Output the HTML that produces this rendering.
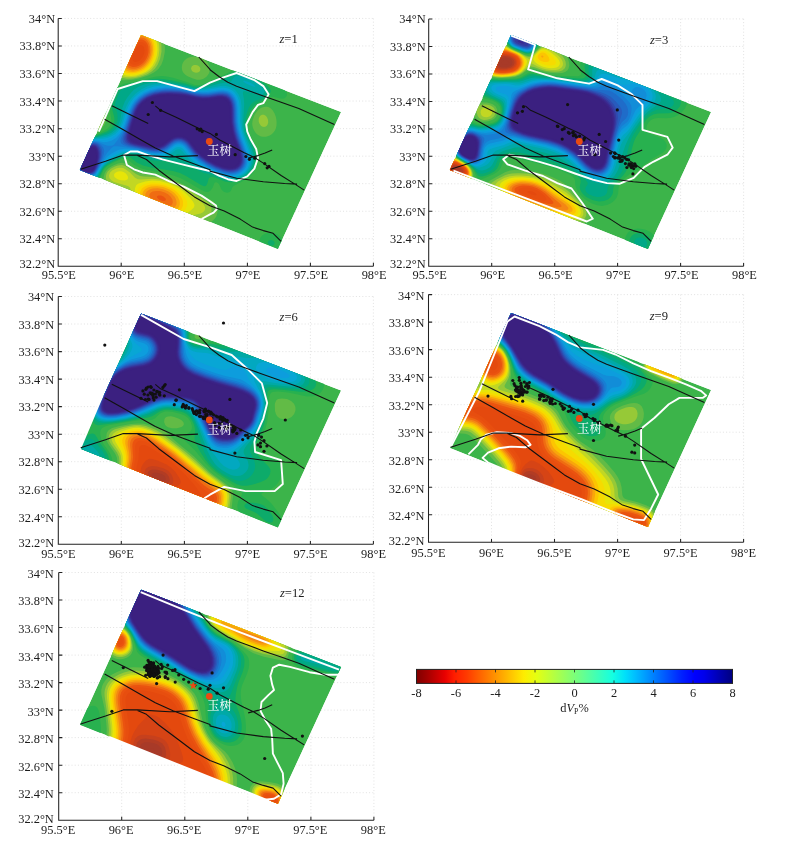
<!DOCTYPE html>
<html lang="zh"><head><meta charset="utf-8"><title>dVp</title>
<style>html,body{margin:0;padding:0;background:#fff}svg{display:block}text{font-family:"Liberation Serif","Noto Serif CJK SC",serif;font-size:12.4px;fill:#1c1c1c}</style></head><body>
<svg width="788" height="841" viewBox="0 0 788 841">
<defs><clipPath id="quad"><path d="M82.1 16.4L282.1 93.6L218.9 230.4L20.9 151.5Z"/></clipPath></defs>
<rect width="788" height="841" fill="#fff"/>
<g transform="translate(58.2 18.45)">
<path d="M63 0V247.8M126.1 0V247.8M189.2 0V247.8M252.2 0V247.8M315.2 0V247.8M0 0H315.2M0 27.5H315.2M0 55.1H315.2M0 82.6H315.2M0 110.2H315.2M0 137.7H315.2M0 165.2H315.2M0 192.8H315.2M0 220.3H315.2" stroke="#dadada" stroke-width="0.8" stroke-dasharray="1 2.2" fill="none"/>
</g>
<g transform="translate(59 18.5)">
<g clip-path="url(#quad)">
<path fill="#3cb44a" d="M82.1 16.4L282.1 93.6L218.9 230.4L20.9 151.5Z"/>
<path fill="#28b14f" d="M176.2 51L178 50.7L181 51L188 53.3L198 57.4L220 68L223.8 70L226.3 72L227.7 74L228 76L227.9 77L227 78.6L226 79.4L224 80.2L221 80.1L214 78.3L211 79L205 83.1L198 87L195.9 89L193.1 93L191 97.3L189.3 102L188.7 105L188.6 108L189.4 112L190.9 116L193 120.4L197.4 128L199.3 133L199.8 136L199.9 139L198.8 145L196.4 151L194.4 154L191.9 157L189 159.6L186 161.5L175.4 167L174.1 168L173.3 169L172.1 172L171 173.2L169.4 174L168 174.2L166 173.8L164.4 173L162.4 171L160.2 166L159.4 165L158 164L157 163.7L156 163.9L155.2 165L153.8 169L151.6 172L150.2 173L149 173.4L146 173.2L142 171.3L127 162.4L121 159.6L115 157.3L108 155.4L99 153.4L87 151.2L82.7 150L78.1 148L75 146.2L68.8 141L66 140.1L63 140.5L59 142L52.9 145L48 148L46 149.9L44.4 152L41 159.7L39.6 162L38 163.6L35 165.1L33 165.5L30 165.4L26 164.5L21 162.7L18 161.4L15 159.5L13.3 158L11.7 156L10.7 154L10 151L9.9 148L10.5 145L12.3 140L17.3 129L19.7 124L22 120.5L24 118.5L27 117L30 116.5L36 116.4L40 115L48 110.4L49.6 109L51.1 107L52 105L52.4 102L50.8 91L50.9 87L51.3 84L53.3 78L56.1 72L58.1 69L60.5 67L65 65.3L75 63.5L97 58.1L103 57.4L108 57.9L114 59.3L128 63.5L136 66.5L140 66.6L143 65.9L148 64L165.8 56L174 51.7ZM206.3 215L210 214.2L215 214.6L219 216.3L222 218.8L223.7 222L224.1 224L224 226L223.1 229L220.8 232L219 233.2L217 234.1L215 234.5L212 234.6L209 234.1L207 233.3L204.8 232L202.6 230L201.3 228L200.6 226L200.3 223L200.7 221L201.5 219L203 217.1Z"/>
<path fill="#0dab6a" d="M174.3 54L177 53.2L181 53.4L187 55.4L196 59.3L203 63.2L207 66L210.1 69L211.4 71L211.7 72L211.7 73L210.9 75L208.4 78L204 81.6L197 85.4L194.3 88L192.2 91L190.5 94L187.9 101L187.1 106L187.9 112L190.1 118L196.7 131L197.7 135L197.9 139L197.5 142L196.5 146L194.3 151L190.4 156L186 159.4L179 162.7L176 163.5L172 163.7L169 163.5L166 162.9L156 159L154 158.6L152 158.5L150.7 159L149.8 160L148.3 165L147.3 167L146 167.7L145 167.8L142 166.5L127 157.4L121 154.6L114 152.4L92 148.9L84.1 147L77.8 144L71.4 139L68 138.2L65 138.5L61 139.9L53 143.8L48 146.9L46 148.6L44 151L40.6 158L39 160.4L37 162.2L35 163.1L33 163.5L30 163.4L23 161.5L17 158.5L15.1 157L13.5 155L12.5 153L11.9 150L12 147L12.8 144L14.7 139L20.3 127L22.5 123L24 121L26 119.3L28 118.3L30 117.8L37.7 117L47.5 113L50 111.5L51.9 110L54.1 107L55.2 104L55.5 101L55.1 98L53 90.4L52.9 88L53.3 85L54.9 80L58 73L60 70L62 68.4L66 66.8L86 62L94 60.6L99 60.2L104 60.6L112 61.8L126 64.8L135 67.7L137 68.1L140 67.9L144 67L148 65.6L166 58.2ZM210 222L212 221.6L214 222.1L215.1 223L215.6 224L215.6 225L215.2 226L214 227L213 227.2L211 227L210 226.4L209 225.2L208.8 224L209 223Z"/>
<path fill="#00a887" d="M177.7 55L181 55.2L185 56.5L193 59.8L199 63L203 65.6L205.7 68L207.7 71L208.2 73L207.9 75L207.4 76L205 78.4L202 80.2L196 82.5L192.6 85L189.8 89L187.3 96L185.7 104L185.7 107L186.3 111L188.6 118L194.8 131L195.9 135L196.2 139L195.2 145L193.2 150L189.4 155L185 158.4L181 160.4L177 161.7L173 162L168 161.6L164 160.5L154 156.6L145 154.5L129 146.8L124 144.8L120 143.7L112 142.4L99 142.3L92 141.8L87 140.6L77.5 137L72 136.2L68 136.4L63 137.8L56 141.1L49 145.1L46 147.4L44 149.7L38.7 159L37 160.7L35 161.7L33 162.2L30 162.1L24 160.6L21 159.3L18 157.6L16.1 156L14.5 154L13.6 152L13.2 149L13.4 147L14.1 144L16.5 138L21.7 127L24.8 122L27 120.1L29 119.2L38 117.9L49 114.2L53 111.6L56.2 108L57.9 104L58.5 101L58.6 98L58.1 94L56.1 88L56.1 85L57 81.7L60 74.4L61.5 72L63.8 70L67 68.7L84 64L91 62.7L97 62.1L102 62.4L112 63.7L126 66.2L135 68.9L137 69.2L140.3 69L147 67.4L166 60.6L169 59.3L174.5 56Z"/>
<path fill="#00a9a6" d="M175.9 58L178 57.2L181 57.2L186.6 59L193.6 62L198.8 65L202.7 68L204.9 71L205.4 73L205 74.5L204 75.6L203 76.2L201 76.5L197 75.7L187 72.7L185 72.6L184 73.2L183.9 75L184.8 80L185.2 85L184.2 103L184.6 109L185.4 113L186.7 117L193.2 132L194.2 136L194.4 139L193.7 145L191.7 150L188 154.7L184 157.7L179 159.9L175 160.7L169 160.5L164 159.2L146 152.5L138 148.7L128.4 143L126 141L122 136.9L120.8 136L119 135.6L117.5 136L114.1 138L111.6 139L107 139.9L102 140.2L97 140L92 139.3L88 138.3L81 135.9L76 134.8L71 134.6L66 135.5L62 137L57 139.5L51 142.7L47 145.4L45 147.3L43 149.9L39.7 156L38 158.4L36 160.1L33 161.1L31 161.2L28 160.7L23 159.1L18.9 157L17 155.4L15.8 154L14.8 152L14.4 150L14.3 148L14.9 145L16.3 141L19.5 134L22.8 127L24.6 124L27 121.4L29 120.2L31 119.6L39 118.6L47 116.6L52 114.4L56.3 111L58.6 108L60 105L61.2 101L63.5 89L65.8 83L68.3 79L72 74.2L75.2 71L78.2 69L82.2 67L87 65.4L93 64.3L98 63.9L106 64.4L114 65.3L126 67.4L135 69.9L138 70.1L141 69.9L147 68.8L161 65L171 63.6L172.1 63L173.9 60Z"/>
<path fill="#02a8c0" d="M184.1 63L185 62L190.9 64L194.4 66L196.4 68L196 68.3L195 68.2L191.3 67L187 65ZM95.6 66L103 65.6L113 66.3L123 67.8L134 70.6L138 71L147 70.2L161 67.4L166 67.3L169 67.9L172 68.9L175 70.6L176.6 72L179.6 76L181.6 81L182.5 87L182.6 103L183.3 110L185.3 117L191.2 132L192.4 137L192.6 142L191.6 147L189.5 151L187.1 154L184.6 156L182 157.5L179 158.8L176 159.5L170 159.6L163 157.8L145 150.5L136.7 146L133 143.3L130.5 141L123 132.2L121 131L120 130.8L118 131L116.1 132L111 135.9L109 137.1L106 138.1L102 138.6L97 138.6L92 137.8L80 134.4L76 133.6L71 133.4L67 134L63 135.3L59 137.2L51 141.5L47 144.3L45 146.2L43 148.7L38 157.2L37 158.3L35 159.6L33 160.2L31 160.3L27 159.6L22 157.7L20 156.7L17.9 155L16.3 153L15.5 151L15.2 148L15.8 145L17.7 140L22.3 130L24.3 126L26 123.6L28 121.8L31 120.5L43 119L48 117.9L52 116.2L56 113.6L59 110.5L61.2 107L63 102L65.4 93L67.3 88L69.9 83L72.8 79L77 74.8L83 70.5L89 67.6Z"/>
<path fill="#08a6d5" d="M102.3 67L109 67L117 67.9L126 69.3L134 71.4L138 71.8L147 71.4L160 69.3L165 69.2L168 69.7L171 70.7L173.3 72L175.6 74L178.4 78L180.2 83L180.9 89L181.1 103L182 110L184 117.3L189.6 132L190.9 138L191.1 142L190.4 146L188.7 150L186.4 153L184.1 155L182 156.3L179 157.6L176 158.4L173 158.7L169 158.4L162 156.5L147 150.2L139 145.7L135.3 143L132.1 140L124 130.3L122 129L120 128.5L118 128.7L116 129.6L110 134.2L107 136L104 137L101 137.4L97 137.4L92 136.7L81 133.6L76 132.7L70 132.4L65 133.3L61 134.7L57 136.8L50 140.8L47 143L43 147.5L38 156L37 157.2L35 158.7L32 159.5L28 159.1L23 157.4L19 154.9L17.3 153L16.4 151L16.1 148L16.6 145L18.5 140L23.6 129L25.3 126L27 123.7L29 122.2L32 121.1L44 120.3L48 119.6L52 118.1L56 115.7L59 112.9L62 108.7L64 104L66.6 95L69.3 88L72.1 83L75.3 79L78 76.4L81 74.1L88 70.2L95 68Z"/>
<path fill="#0d9ddd" d="M97.3 69L105 68.1L113 68.3L124 69.7L135 72.3L140 72.7L148 72.5L160 70.7L164 70.5L169 71.5L172 73L174 74.5L176.8 78L178.8 83L179.6 89L179.8 103L180.8 110L183 118L188.5 133L189.6 138L189.8 142L189.1 146L187.9 149L185.8 152L183.6 154L181 155.6L178 156.9L175 157.5L172 157.7L168 157.3L161 155.3L148 149.6L140.1 145L136.2 142L133.1 139L124.7 129L122 127.2L120 126.8L118 127L116 127.9L107 134.4L104 135.6L101 136.2L97 136.3L92 135.7L80 132.5L75 131.7L69 131.4L63 132.3L60 133.4L56 135.5L51 138.4L47 141.4L43 146.3L37.9 155L36.2 157L35 157.8L32 158.7L28 158.4L23 156.6L21 155.5L19.1 154L17.6 152L16.9 150L16.8 148L17.3 145L18.8 141L23.4 131L25.5 127L27 124.9L30 122.5L33 121.7L38 121.4L45 121.8L48 121.4L53 119.6L57 117L60 114.1L63 109.6L65 105L69.5 91L72.5 85L75.3 81L80 76.6L85 73.3L91 70.7Z"/>
<path fill="#128dd8" d="M98.4 70L106 69.1L114 69.3L124 70.5L136 73.2L143 73.7L149 73.5L160 71.9L164 71.7L169 72.8L171 73.8L173 75.2L174.7 77L176 79L177.6 83L178.4 88L178.7 102L179.7 110L181.8 118L187.3 133L188.4 138L188.6 142L187.9 146L186.7 149L184.4 152L182 153.9L179 155.5L176 156.4L173 156.7L167 156.2L159 153.6L148 148.5L141 144.3L137 141.1L133.7 138L125 127.6L122.5 126L120 125.5L117.1 126L115.1 127L109 131.7L106 133.6L103 134.7L100 135.3L96 135.3L92 134.8L80 131.7L74 130.7L66 130.3L60.5 131L57 132.4L53 134.7L49 137.5L47 139.4L43 144.9L37.9 154L36.3 156L35 157L32 158L28 157.7L23 155.9L20 153.9L18.4 152L17.7 150L17.5 148L18 145L19.5 141L24.6 130L26.3 127L27.9 125L29 124L31 122.9L35 122.2L39 122.4L45 123.7L48 123.6L53 122L57 119.5L61 115.2L64 110.3L66 105.3L70.8 91L73.2 86L76 82L80 78L85 74.6L92 71.6Z"/>
<path fill="#187dd3" d="M98.7 71L106 70.1L115 70.3L125 71.5L136 73.9L144 74.6L150 74.4L160 72.9L164 72.8L168 73.6L170 74.4L172.2 76L175 79.4L176.8 84L177.5 90L177.8 103L178.9 111L181 118.6L186.2 133L187.4 138L187.6 142L187.1 145L186 148L183.9 151L181.5 153L179 154.4L176 155.4L173 155.8L167 155.3L163 154.3L159 152.7L148.9 148L142 143.7L138 140.6L134.2 137L126 127L123 125L120 124.3L117 124.8L115 125.8L108 131.2L105 132.9L102 133.9L99 134.4L96 134.4L92 133.9L81 131.1L76 130.2L59 127.8L55 127.8L54 128.2L52 130.1L48 134.6L45 139.5L38 152.8L36.4 155L35 156.2L32 157.4L28 157.1L23 155.2L20 153L18.7 151L18.2 149L18.7 145L20.2 141L24.8 131L28 125.9L31 123.7L33 123.1L36 122.9L40 123.7L46 126.6L49 127.3L53 127.2L55 126.2L59 120.9L64 112.7L66.5 107L71.4 92L73.8 87L76.5 83L81 78.5L86 75.2L92 72.7Z"/>
<path fill="#1f6cc9" d="M107.2 71L114 71.1L122 71.8L136 74.7L143 75.4L149 75.4L160 73.8L164 73.7L168 74.6L170 75.6L172 77.2L174.2 80L175.8 84L176.6 90L176.9 103L178 111L180 118.5L185.3 133L186.4 138L186.6 142L186.1 145L184.9 148L182.5 151L180 152.8L178 153.8L175 154.6L172 154.9L169 154.8L165 154L157 151L148 146.5L140 141.1L134.5 136L127 126.6L125 124.9L122 123.5L119 123.3L116 124.2L114 125.3L108 130L105 131.8L102 132.9L98 133.5L92 133L80 130.1L68.4 128L65 126.8L62.3 125L61.5 123L61.6 121L62.3 119L67 108.3L72.5 92L74.9 87L77.7 83L80 80.6L83 78.2L86 76.3L90 74.4L98 72.1ZM32.3 124L35 123.6L37 123.8L39 124.5L41 125.7L42.6 127L44.1 129L45 131L45.2 133L44.7 136L43.4 140L39.9 148L37.2 153L36 154.6L34 156.1L32 156.7L30 156.8L26 155.9L22 153.9L20.9 153L19.4 151L18.8 148L19.3 145L20.4 142L26.6 129L29 125.9L31 124.5Z"/>
<path fill="#285bbc" d="M105.3 72L112 71.9L121 72.5L127 73.4L137 75.6L144 76.3L150 76.2L160 74.7L164 74.7L168 75.6L170 76.7L171.5 78L173 79.8L174 81.7L175.3 86L175.8 91L176 103L177.6 113L179.3 119L184.3 133L185.5 138L185.7 142L185.2 145L183.8 148L182.2 150L180 151.8L177 153.2L174 153.9L171 154L165 153.1L157 150.1L148 145.5L141 140.7L135 135.2L127 125.3L125 123.8L122 122.5L119 122.3L116 123.1L113 124.8L108 128.9L105 130.8L102 132L98 132.6L95 132.6L91 132L72 127.8L68 126.5L65.4 125L64.5 124L63.7 122L63.7 120L64.2 118L68 108.2L72.6 94L74.8 89L77.3 85L79.9 82L82.1 80L85 77.9L89 75.8L96 73.4ZM31.6 125L34 124.4L36 124.5L37.9 125L39.5 126L41.4 128L42.5 130L43.2 133L43.2 135L42.8 138L41.6 142L39.2 148L37.2 152L35.7 154L34 155.4L32 156.1L30 156.2L26 155.3L22 153.2L20.1 151L19.4 148L19.7 146L20.6 143L26.2 131L28.8 127Z"/>
<path fill="#3049ae" d="M103.7 73L111 72.7L121 73.3L127 74.2L137 76.4L144 77.2L149 77.1L160 75.6L164 75.6L168 76.6L171 78.8L173.2 82L174.6 87L174.9 91L175.1 103L176.7 113L178.7 120L183.4 133L184.6 138L184.8 141L184.5 144L183.3 147L181.9 149L180 150.7L177 152.2L174 153L171 153.2L165 152.3L157 149.3L148 144.5L141 139.7L135.1 134L127.9 125L125 122.7L122 121.6L119 121.4L116 122.1L113 123.8L105 129.8L102 131L98 131.8L95 131.7L91 131.2L73 127.1L69.7 126L66.7 124L66 123L65.3 121L65.4 119L65.8 117L73.5 94L75.8 89L78 85.5L82.2 81L85 78.9L88.5 77L95 74.6ZM31.2 126L33 125.3L35 125.2L37 125.6L39 127L40.5 129L41.4 131L41.8 133L41.9 136L41.5 139L40.4 143L38.6 148L37 151.3L35.8 153L34 154.7L32 155.5L30 155.6L26 154.7L22.7 153L20.9 151L20.1 148L20.3 146L21.3 143L26 132.7L28.9 128Z"/>
<path fill="#36399e" d="M102.4 74L111 73.6L121 74.1L127 75L138 77.4L144 78L150 77.9L159 76.6L163 76.4L167 77.2L170 79.1L172.2 82L173 84L173.7 87L174.1 91L174.3 103L175.8 113L177.8 120L182.6 133L183.8 138L184 141L183.6 144L182.8 146L181 148.6L179 150.3L177 151.3L174 152.1L171 152.3L168 152.1L164 151.1L156.2 148L148 143.5L141.5 139L136.2 134L128 123.8L125 121.7L122 120.6L118 120.6L115 121.6L112 123.4L107 127.4L104.6 129L101 130.4L98 130.9L92 130.5L76 127L72 125.8L68.7 124L67.8 123L66.9 121L66.7 119L67 117L73.7 96L75.7 91L78 87L80 84.4L82.4 82L85 80L88 78.2L95 75.5ZM33.6 126L35 126L37 126.7L39.3 129L40.6 133L40.8 136L40.6 139L38.7 146L37.1 150L35.9 152L35 153.1L33 154.5L31 155L29 154.9L25 153.7L22.5 152L21.1 150L20.7 147L22.3 142L28 130.3L29.8 128L31 127Z"/>
<path fill="#3b298f" d="M101.4 75L110 74.4L120 74.9L127 75.8L138 78.2L144 78.9L150 78.7L159 77.4L163 77.3L167 78.2L169.6 80L171.6 83L172.9 87L173.2 91L173.5 104L175 113L176.9 120L181.7 133L182.9 138L183.1 141L182.6 144L181.8 146L180.3 148L178 149.8L176 150.7L173 151.3L170 151.4L164 150.2L156 147L148 142.5L141.6 138L136.4 133L129 123.6L126 121.2L123 119.9L119 119.6L115 120.6L112 122.3L106.1 127L104 128.3L101 129.5L98 130L92 129.6L76 126.1L72 124.7L69.6 123L68.8 122L68 120L68 118L68.6 115L74.6 96L76.7 91L79 87L83 82.6L88 79.1L94 76.6ZM32.8 127L34 126.8L36 127.2L37.2 128L38.6 130L39.7 134L39.7 139L38 146L35.9 151L34.2 153L33 153.8L31 154.4L29 154.4L26 153.5L23 151.7L21.8 150L21.3 147L22.9 142L28 131.5L30 128.8L31 127.9Z"/>
<path fill="#3b2385" d="M100.6 76L109 75.3L120 75.8L127 76.7L139 79.2L144 79.7L150 79.6L159 78.3L163 78.2L166.4 79L169 80.8L171.1 84L172.1 88L172.7 104L174.3 114L176.4 121L180.8 133L182 138L182.2 141L181.9 143L181.2 145L179.9 147L178 148.7L176 149.7L173 150.4L170 150.5L164 149.3L156 146L148.8 142L142 137.2L137 132.3L131.4 125L129 122.3L126 120.1L123 118.9L119 118.6L115 119.6L112 121.2L104 127.3L101 128.5L98 129.1L92 128.7L79.6 126L75 124.8L71.4 123L70.4 122L69.4 120L69.2 118L69.6 115L75 97.3L77 92.3L79 88.6L80.9 86L83 83.8L88 80.1L94 77.6ZM32.5 128L35 127.9L36 128.3L37.5 130L38.4 132L38.8 134L39 137L38.7 140L37 147L35 151.2L34 152.3L32 153.5L29 153.7L26 152.9L23.2 151L22.1 149L22 147L23.1 143L28 132.8L30 129.8L31 128.9Z"/>
<path fill="#3b2080" d="M100.2 77L109 76.2L120 76.7L127 77.6L139 80.2L144 80.7L150 80.5L162 79.1L165 79.6L168 81.3L170 84L171.2 88L171.8 104L173.4 114L175.4 121L180 133.7L181 137.8L181.2 141L180.9 143L180.1 145L179 146.5L177.2 148L175 149L173 149.4L170 149.5L164 148.3L156 145L149 141L143 136.8L137.9 132L130 121.9L127 119.5L123 117.9L119 117.7L115 118.6L111 120.8L104 126.2L101 127.5L98 128.1L92 127.8L79.4 125L75 123.7L72.2 122L71 120.4L70.5 119L70.4 117L70.9 114L76 97.2L78 92.4L79.9 89L83 85L88 81.2L93 78.9ZM32.5 129L34 128.7L35 129L36 129.7L37 131.1L38 135L37.9 140L36.6 146L35 150L33.3 152L32 152.8L29 153.1L26 152.2L24 150.8L22.9 149L22.8 146L24.2 142L28.7 133L30.9 130Z"/>
<path fill="#3b2080" d="M100.2 78L109 77.2L119 77.6L126 78.5L139 81.2L144 81.7L150 81.5L159 80.3L162 80.2L165 80.8L167.1 82L169 84.4L170.1 88L170.5 92L170.8 104L172.3 114L174.3 121L179 133.8L180 138L180 142L179.3 144L178 145.9L176 147.4L174 148.1L172 148.5L169 148.4L163 146.9L154.4 143L147.7 139L141.3 134L137.6 130L132 122.6L129.4 120L126 117.8L123 116.9L119 116.6L116 117.2L114 117.9L111 119.6L103 125.6L101 126.4L98 127.1L95 127.2L92 126.8L79.6 124L76 122.9L73.1 121L72.4 120L71.7 118L71.7 116L72.3 113L77 97.4L79 92.6L81 89.1L84.5 85L88.6 82L94 79.6ZM32.9 130L34.2 130L35.6 131L36.9 134L37.2 139L36.3 144L35 148.4L33.3 151L32 152L31 152.3L28 152.2L26 151.4L24.3 150L23.4 148L23.5 146L25 141.8L29 133.8L31 131.1Z"/>
<path fill="#62bb46" d="M75.9 3L79 2.3L82 2.2L85 2.6L89 3.8L93 5.8L96 7.9L98.3 10L100.8 13L102.7 16L104 19L104.9 22L105.6 26L105.9 30L105.7 34L104.3 41L102.4 46L99.7 50L97.6 52L94.9 54L89.2 57L80 59.9L72 61.4L64 61.7L60 61.3L58 60.9L56 59.9L53.9 58L52 55L50.8 52L50.2 49L50.2 46L50.5 43L51.4 39L53.7 33L57.4 25L61.4 17L64.5 12L67 8.9L70 6.1L73 4.2ZM129.9 39L132 38.4L135 38.1L140 38.7L144 40.2L147.6 43L149.1 45L150 47L150.7 51L150.5 53L149.9 55L147.7 58L145 59.9L143 60.8L141 61.3L138 61.3L134 60.1L129.1 58L127 56.7L125 55L123.6 53L123 51L122.8 49L123.2 46L124 44L125.4 42L127.8 40ZM38.6 89L43 88.5L45 89L46 90L47 92.5L47.4 95L47.5 99L47.1 102L46.1 105L45 107L41.5 111L39 112.8L37 113.7L35 114L33 113.8L30.6 113L28.8 112L27.1 110L26.4 108L26.2 106L26.5 100L27.9 96L30.2 93L34 90.5ZM203 89L206 88.3L208 88.2L210 88.7L211.9 90L213.8 92L215.6 95L216.7 98L217.4 101L217.6 104L217.5 107L216.8 110L215.9 112L214 114.6L212 116.3L210 117.3L207 118.2L204 118.3L202 117.9L200 117.1L198 115.7L196.4 114L195 111.8L194 109.5L193.4 107L193.2 105L193.6 102L194.9 98L196 95.6L199 91.5L201 89.9ZM59 145L63 144.2L66 144.9L76 151.9L79 153.6L82 154.9L86 155.8L98 157.2L106 158.9L115 161.7L124 165.7L143 177.2L152 181.4L154.4 183L156.7 186L158.3 190L158.5 194L157.3 198L155.9 200L153.9 202L151 203.7L148 204.7L143 205.6L131 206.6L119 209.6L114 210.1L108 209.5L101 207.5L88 202.5L80 198.8L75 195.5L72.4 193L70.9 191L68.7 187L65.8 178L63.7 175L60.4 173L53 170.4L49 168.7L46.6 167L45 164.9L44.4 162L44.6 159L45.6 155L47 152.4L49 150.2L51 148.8L54.1 147Z"/>
<path fill="#96c937" d="M78.5 6L81 5.7L84 5.9L89 7.4L94 10.5L96 12.3L98.2 15L100.9 20L102.4 26L102.5 33L101.2 40L98.8 46L96.1 50L92.8 53L88 55.9L81 58.4L74 59.9L68 60.2L62 59.3L60 58.5L57.9 57L56.1 55L54.5 52L53.8 49L53.6 46L53.9 43L54.8 39L56.7 34L61.4 24L64.5 18L67.1 14L69.6 11L72 8.9L75 7.1ZM133.9 47L135 46.6L137 46.4L138.9 47L140 47.8L141 49L141.3 50L141.2 52L140.5 53L139 54L137 54.3L135 53.8L133.6 53L132.7 52L132 50L132.7 48ZM38.5 93L42 92.5L44 93.2L45 94.5L45.4 96L45.6 98L45.3 101L44 105L41.3 109L38 111.6L36.9 112L35 112.1L32.4 111L30.8 109L30 106L30.2 102L31 99L33 96L35 94.5ZM201.6 97L203 96.3L205 96.3L207 97.5L208.1 99L209 101.2L209.2 104L208.6 106L208 107L206.9 108L205 108.5L203 108L201.7 107L200.4 105L199.7 103L199.8 100L200.7 98ZM58.9 147L63 146.6L66 147.6L69 149.5L77 155.4L81 157.5L85 158.1L96 158.6L103 159.8L112 162.3L120.8 166L127.6 170L149.1 184L150.9 186L152.3 189L152.6 192L151.7 195L150.2 197L149 198L145 199.7L131 201.7L119 205.4L114 206.1L109 205.8L103 204.3L93 200.5L84 196.6L78.2 193L74.4 189L71.8 184L69.4 175L67.4 172L66 170.9L64 169.9L56 167.3L52 165.7L49.4 164L47.7 162L47 160L47 157.2L47.6 155L48.7 153L52 150L55.9 148Z"/>
<path fill="#c2d723" d="M76.9 9L81 8.2L84 8.3L86 8.8L91 11.2L93.4 13L95.3 15L97 17.3L98.4 20L100 25L100.4 31L99.7 37L98.2 42L95.7 47L92.4 51L89 53.6L84 56.1L77 58.2L71 58.8L66 58.4L63 57.5L61 56.4L59.3 55L57.8 53L56.8 51L56.1 48L56 45L56.4 42L57.5 38L59.5 33L63.8 24L67.1 18L69.2 15L71.9 12L74 10.4ZM38.2 97L41 96.5L42.2 97L42.9 98L43.1 99L43 101.5L42 104.5L40 107.5L38 109L36 109.2L35 108.6L34 107L33.6 105L33.7 103L35 99.7L36.6 98ZM57 150L60 149.3L62 149.3L64 149.6L66 150.4L71 154L76 159.2L79 160.7L82 160.9L93 160.2L99 160.7L108 162.6L117 166L120.8 168L125.6 171L142.8 184L144.7 186L145.8 188L146.2 190L145.6 192L144 193.8L141.6 195L132 197.2L120 202L117 202.8L114 203.2L109 203L104 201.7L96 198.8L87 195L81 191.5L78.1 189L76.6 187L75.4 185L74.3 182L72.2 172L70.8 169L69.7 168L68 167.2L59 164.8L55 163.4L52.6 162L50.8 160L50.3 159L50 157L51.1 154L53.1 152Z"/>
<path fill="#e7e508" d="M77.3 11L80 10.3L82 10.2L86 10.9L89 12.2L91 13.5L94.5 17L96.8 21L98.3 26L98.6 31L97.9 37L96.3 42L93.6 47L91 50L87.3 53L83 55.1L77 56.9L72 57.5L67 57L64 56L62.4 55L60.3 53L59.1 51L58.4 49L58 46L58.6 41L59.8 37L62.4 31L68.6 19L70.8 16L73 13.7L75 12.2ZM58.9 153L61 152.7L63 153L65 153.8L66.8 155L68 156.4L68.9 158L69 160L68.3 161L66 161.9L62 161.7L59 160.9L56 159.1L55.2 158L55 156L55.6 155L56.7 154ZM86.1 163L93 162.1L101 162.6L110 164.9L117.2 168L120.5 170L124.6 173L127.9 176L131.6 180L133.9 183L135 185L135.5 187L134.9 189L131.7 192L122.3 198L117.6 200L113 200.8L108 200.4L103 199L94 195.5L86.3 192L81.8 189L79.7 187L78.3 185L77.3 183L76.3 180L75.7 174L76 169.8L77.1 167L78 166L79.6 165Z"/>
<path fill="#f6db00" d="M81.8 12L85 12.4L89 14.2L92.3 17L95 21L96.4 25L97 30L96.6 35L95.3 40L93.5 44L90.8 48L88 50.7L84.5 53L80 54.9L75 56L71 56.1L67 55.4L65 54.6L62.8 53L61.2 51L60.3 49L59.9 47L59.8 44L61.2 38L66.5 26L69.3 21L71.3 18L74 15.1L76 13.6L79 12.4ZM92.8 164L100 164.2L108 166L115.1 169L120.9 173L125.5 178L127.2 181L128 183L128.3 186L127.8 188L126.9 190L125.3 192L122 195L118 197.3L114 198.3L110 198.4L104 197.1L95 193.7L87.2 190L83 187L80.5 184L78.8 180L78.3 175L79.1 171L81 168.2L84 166.2L88 164.8Z"/>
<path fill="#fcc501" d="M79.6 14L83 13.8L87 14.9L90.1 17L92.7 20L94.6 24L95.4 28L95.5 32L94.7 37L93.4 41L91.2 45L88.8 48L85.2 51L81.3 53L77 54.3L73 54.8L69 54.4L67 53.7L65 52.6L63.4 51L62.2 49L61.4 45L62.1 40L63.5 36L65.7 31L71 21L73 18.3L75 16.4L77 15ZM92.1 166L99 165.9L106 167.2L112.9 170L116.1 172L118.5 174L121.9 178L123.4 181L124 183L124.1 186L123.7 188L122.7 190L121.2 192L118 194.5L115 195.7L112 196.2L108 195.9L102 194.2L94.1 191L88.1 188L85 185.7L82.6 183L81.2 180L80.7 176L81.3 173L83 170.1L85 168.4L88 167Z"/>
<path fill="#f8a60b" d="M78.8 16L82 15.4L85 15.9L88 17.3L91 20.3L92.6 23L93.8 27L94.1 31L93.5 36L92.2 40L90.2 44L87.8 47L85 49.5L82 51.2L78 52.7L74 53.4L70 53.1L67 51.9L65.8 51L64.2 49L63.4 47L63.1 45L63.4 41L64.6 37L66.3 33L71.5 23L75 18.5L77 16.9ZM92.4 168L98 167.7L104 168.6L110 170.8L115 174L118.7 178L120.5 182L120.8 184L120.7 186L120.2 188L119 190L116.9 192L114 193.4L111 193.8L108 193.6L103 192.3L97 190L91 187.1L87.8 185L85.7 183L84 180.2L83.4 178L83.5 175L84.2 173L86 170.8L89 169Z"/>
<path fill="#f48714" d="M78.4 18L80 17.4L82 17.1L85 17.6L88 19.4L90 21.5L91.8 25L92.5 28L92.6 32L92.1 36L90.7 40L89.1 43L87 45.8L84.6 48L81.4 50L78 51.3L74 51.9L71 51.6L68 50.4L65.7 48L64.8 45L65 41L67.4 34L71.9 25L75 20.7L76.8 19ZM93.9 170L99 169.8L104 170.7L109 172.7L112.5 175L115.4 178L116.6 180L117.3 182L117.6 184L117.4 186L116 188.6L114.4 190L112 191L110 191.2L107 191L103 189.9L97 187.5L92.2 185L89.4 183L87.6 181L86.6 179L86.3 177L86.6 175L87.8 173L89 171.9L91 170.8Z"/>
<path fill="#ef6c12" d="M81.1 19L84 19.2L86 20L88.3 22L90 24.8L91 28L91.2 31L91 34L90 37.9L88.6 41L86.6 44L84.7 46L82 48L79 49.4L76 50.2L73 50.2L71 49.8L69.3 49L68.1 48L66.9 46L66.4 44L66.5 42L67.4 38L70.8 30L74.3 24L76 21.9L78 20.2ZM93.7 173L97 172.4L101 172.6L105.8 174L109 175.8L111.5 178L113.4 181L113.8 184L113 186L112 187L110 187.8L108 188L106 187.8L100.4 186L94.5 183L92 181L91 179.7L90.3 178L90.4 176L90.9 175L92 173.9Z"/>
<path fill="#ea5310" d="M81.4 21L83 21L85.5 22L87 23.3L88.7 26L89.3 28L89.6 31L89.4 34L88.7 37L87.4 40L86 42.2L84 44.5L82 46.1L80 47.2L77 48.2L74 48.5L72 48.1L70 46.9L69 45.5L68.5 44L68.4 41L69.4 37L72 31L75.6 25L77 23.4L78.7 22ZM99.2 177L102 177.1L104.4 178L106.6 180L106.9 181L106.5 182L105 182.5L104 182.5L102.1 182L100 181L98 179L97.9 178Z"/>
<path fill="#e74e0f" d="M79.7 24L81 23.5L83 23.5L85 24.4L86.4 26L87.3 28L87.8 31L87.1 36L85 40.6L82 43.8L80 45.1L78 46L76 46.3L74 46.2L72 45.2L71 44L70.5 41L71 38L72.9 33L75 29.1L77.2 26Z"/>
<path fill="#e4490e" d="M80.2 27L82 26.6L83 26.9L84 27.7L84.9 29L85.5 32L84.8 36L83 39.6L80.6 42L78 43.3L76 43.4L75 43.1L74 42.3L73.4 41L73.3 39L74 36.1L77 30.1L78.8 28Z"/>
</g>
<path d="M39.8 113.1L58.6 70.5L83.8 62.6L98.1 62.6L135.4 72.6L151 64.1L163.8 59.1L177.6 54.5L195.4 61.6L204.3 67.6L209.6 75.8L204.3 84.7L199 86.4L193.6 93.6L187.2 106L188.3 113.1L191.9 121.3L197.2 130.5L199 139.4L195.4 150.1L188.3 157.9L177.6 162.5L168.8 160.7L159.9 157.2L151 152.5L138.9 149.7L121.2 145.4L103.4 140.8L89.2 136.6L78.5 133L71.4 133L65 136.6L67.9 146.5L75 150.8L83.8 154L96.3 156.1L110.5 162.8L124.7 168.2L142.5 177.1L151 182.7L157 187L157.8 190.6L154.6 194.1L151 195.9L142.5 200.5" stroke="#fff" stroke-width="1.9" fill="none" stroke-linejoin="round"/>
<path d="M52.8 87.3L89.2 105.1M45.6 100.7L64.3 111.3L82.1 121.4L96.3 129.5L114 137.5L135.4 145.5L151 151.3L151 152.6L177.6 159.7L204.3 163.3L225.6 165L238.1 165.6M96.3 87.3L101.6 91.8L117.6 98.9L138.9 109.5L151 114.9L160.8 121.5L184.8 133.9L194.5 138.4L204.3 144.6L222.1 157L236.3 165.9L245.2 171.6M139.8 38.5L151 50.9L151 51.3L159.9 58L168.8 63.7L177.6 67.8L186.5 71L204.3 77.6L222.1 83.8L239.8 90L257.6 98L275.4 106M21.7 150.8L46.5 142.8L64.3 136.6L78.5 136.6L110.5 138.4L138.9 137.1M78.5 137.1L87.4 141L99.8 151.7L110.5 159.7L121.2 167.7L135.4 178.4L151 187.2L165.2 192.6L181.2 200.6L193.6 208.6L204.3 212.1L214.1 214.8L222.1 222.8M189.2 139.6L199 137.1L206.1 134.6L213.2 131.4" stroke="#111" stroke-width="1.1" fill="none" stroke-linejoin="round"/>
<g fill="#111"><circle cx="93.4" cy="84" r="1.6"/><circle cx="89.2" cy="96" r="1.6"/><circle cx="101.6" cy="91.8" r="1.6"/><circle cx="138.2" cy="110.3" r="1.6"/><circle cx="140.7" cy="111.7" r="1.6"/><circle cx="143.2" cy="113.1" r="1.6"/><circle cx="141.8" cy="110.6" r="1.6"/><circle cx="157.4" cy="115.9" r="1.6"/><circle cx="176.2" cy="136.2" r="1.6"/><circle cx="186.9" cy="138" r="1.6"/><circle cx="190.4" cy="140.8" r="1.6"/><circle cx="195.8" cy="139.7" r="1.6"/><circle cx="205.7" cy="145.1" r="1.6"/><circle cx="208.2" cy="149.3" r="1.6"/><circle cx="210" cy="147.9" r="1.6"/></g>
<circle cx="150.3" cy="123" r="3.4" fill="#ea4a12"/>
<text x="148" y="136.6" style="font-size:12.5px;fill:#fff">玉树</text>
</g>
<g transform="translate(58.2 18.45)">
<text x="221.2" y="24.9" style="font-size:12.6px"><tspan font-style="italic">z</tspan>=1</text>
<path d="M0 0V247.8H315.2M0 0h3.6M0 27.5h3.6M0 55.1h3.6M0 82.6h3.6M0 110.2h3.6M0 137.7h3.6M0 165.2h3.6M0 192.8h3.6M0 220.3h3.6M0 247.9h3.6M0 247.8v-3.4M63 247.8v-3.4M126.1 247.8v-3.4M189.2 247.8v-3.4M252.2 247.8v-3.4M315.2 247.8v-3.4" stroke="#222" stroke-width="1.05" fill="none"/>
<text x="-3.1" y="4.5" text-anchor="end">34°N</text>
<text x="-3.1" y="32" text-anchor="end">33.8°N</text>
<text x="-3.1" y="59.6" text-anchor="end">33.6°N</text>
<text x="-3.1" y="87.1" text-anchor="end">33.4°N</text>
<text x="-3.1" y="114.7" text-anchor="end">33.2°N</text>
<text x="-3.1" y="142.2" text-anchor="end">33°N</text>
<text x="-3.1" y="169.7" text-anchor="end">32.8°N</text>
<text x="-3.1" y="197.3" text-anchor="end">32.6°N</text>
<text x="-3.1" y="224.8" text-anchor="end">32.4°N</text>
<text x="-3.1" y="249.9" text-anchor="end">32.2°N</text>
<text x="0.6" y="260.9" text-anchor="middle">95.5°E</text>
<text x="63.6" y="260.9" text-anchor="middle">96°E</text>
<text x="126.7" y="260.9" text-anchor="middle">96.5°E</text>
<text x="189.8" y="260.9" text-anchor="middle">97°E</text>
<text x="252.8" y="260.9" text-anchor="middle">97.5°E</text>
<text x="315.9" y="260.9" text-anchor="middle">98°E</text>
</g>
<g transform="translate(428.7 18.9)">
<path d="M63 0V247.4M126 0V247.4M188.9 0V247.4M251.9 0V247.4M314.9 0V247.4M0 0H314.9M0 27.5H314.9M0 55H314.9M0 82.5H314.9M0 110H314.9M0 137.4H314.9M0 164.9H314.9M0 192.4H314.9M0 219.9H314.9" stroke="#dadada" stroke-width="0.8" stroke-dasharray="1 2.2" fill="none"/>
</g>
<g transform="translate(429 18.5)">
<g clip-path="url(#quad)">
<path fill="#3cb44a" d="M82.1 16.4L282.1 93.6L218.9 230.4L20.9 151.5Z"/>
<path fill="#28b14f" d="M77.9 8L80 7.3L82 7.2L87 8.2L101 13.7L107 16.5L109.9 19L111 21L111.2 24L110 27L107.7 30L104 33.8L102 35.1L100 35.7L98 35.7L96 35.1L85 30.5L82 29L79.5 27L76.8 24L74.4 20L73.5 17L73.5 14L74.5 11L76 9.2ZM158.4 37L161 36.5L165 36.6L173 38.4L186 42.5L208 50.3L213 52.3L221 56.5L234 64.2L246 70.3L251 73.3L255.3 77L256.7 79L257.7 82L257.9 84L257.7 86L256 90L253 93.6L249 96.7L245 98.6L241 99.5L237 99.8L229 99.5L225.3 100L222 101.5L219.5 104L218 106.8L217.5 109L217.6 111L218.4 113L219.2 114L221 115.3L231 119L233 120.1L235 121.6L236.9 124L237.6 126L237.7 128L237.2 130L236 132L233 134.7L222 141.2L209.2 151L201 155.5L196 159.6L192.1 164L190.2 167L189.6 169L189.1 175L187.7 179L185.4 182L183 184.1L181 185.3L178 186.6L173 187.4L168 186.8L163 185L159 182.8L156 180.8L152.8 178L150.2 175L148.2 172L146.9 169L146.2 166L146 162L145.3 160L143.6 158L140.7 156L131.5 152L119.5 148L101.5 143L87 139.7L84 139.3L81 139.3L79 139.7L77 140.5L74.5 143L71.4 150L69.8 152L67.5 154L64 156.1L56 159.6L52 160.9L50 160.9L49 160.5L48 159.6L44.8 152L41.6 148L37.9 145L31 141L23.4 136L20.8 134L20 133L19.2 131L19.1 127L19.6 124L21.2 120L23.8 116L26.2 113L30 109.1L33 106.7L37 104.2L39 103.4L41 103.1L43 103.3L48 105.2L51 105.9L55.1 106L61 105.1L64.5 104L67 102.6L69 100.6L70.5 98L71.3 95L71.5 91L70.7 88L69 85.5L67 83.9L63 82L51.8 79L50 77.8L48.6 76L47.9 74L47.6 72L48.2 67L49.5 63L50.9 61L52 60.2L54 59.5L56 59.4L70 60.8L77 60.7L86 60.1L89 59.5L92 58.4L100 53.9L103 53.5L115 55.9L124 57L134 57.6L149 57.7L151.1 57L152 56L152.2 55L151.2 47L151.5 44L152.2 42L153 40.6L154.5 39L156 37.9ZM203.8 211L206 210.4L209 210.1L213 210.4L216 211.1L221 213.3L223.3 215L225 217L226.2 219L227.2 222L227.5 224L227.3 227L226.6 230L225.7 232L224 234.4L222 236.2L220 237.4L217 238.4L214 238.7L210 238.4L206 237.3L203.2 236L201 234.5L198.6 232L196.9 229L196 226L195.7 223L196 220L197.1 217L199 214.1L201 212.4Z"/>
<path fill="#0dab6a" d="M81.2 9L85 9.3L89 10.5L102 15.8L107 18.5L109.3 21L110 23L109.6 26L107.8 29L105.2 32L103 33.8L101 34.8L99 35.1L97 34.9L94 33.8L84.7 30L81.4 28L78.4 25L76.5 22L75.4 19L75 16L75.6 13L76.9 11L79 9.5ZM161.4 41L164 40.7L167 40.8L174 42.4L207 53.4L213 55.8L220 59.5L234 69L247 76.6L249 78.3L250.5 80L251.8 83L251.8 85L250.8 88L248.2 91L245.3 93L243 94L240 94.7L229 95L225 95.8L220.6 98L218.3 100L216.6 102L214.1 106L210.7 113L206.9 119L205 123L203 130.1L199.7 146L198 151L196.3 154L194.1 157L185.7 166L184.4 169L184 174L183.4 176L181.4 179L179 180.9L175 182.5L170 182.9L164 181.8L159 179.6L156.6 178L154.4 176L152.7 174L151.6 172L150.9 170L150.7 168L151.6 164L151.7 162L150.8 160L147.7 157L143 154L136 150.8L127 147.5L115 143.8L99 139.4L90 137.3L84 136.4L79 136.7L75.5 138L72.9 140L70.9 143L69.2 148L68.1 150L65.2 153L61.7 155L57 156.9L53 158L51 158L49 157L45 151L41.2 147L38 144.7L28.6 139L24.5 136L22.4 134L21.3 132L20.9 129L21.3 125L22.3 122L24.6 118L27.7 114L31 110.6L34 108.2L37 106.4L41 105.2L43 105.3L49 107L52 107.3L57 107L62 106L65.2 105L68 103.4L70 101.3L71.4 99L72.6 95L72.9 91L72.4 88L70.8 85L69 83.4L66 81.7L53.3 77L52 76L51 74.4L50.4 71L50.9 67L52 63.8L54 61.7L56 60.9L58 60.7L71 61.6L87 60.9L92 59.7L100 55.7L103 55.2L115 57.1L125 58.1L148 60.1L153.5 60L155.9 59L156.6 58L156.9 57L155.6 49L155.7 47L156.3 45L158 42.6L160 41.4ZM206.8 215L211 214.6L215 215.4L219 217.5L221.3 220L222.6 223L222.8 225L222.6 227L221.3 230L219 232.5L217 233.5L215 234.1L213 234.3L210 233.9L207.1 233L205.3 232L203.9 231L202.2 229L201.1 227L200.5 225L200.5 222L201 220.1L202 218.2L203.1 217L205 215.7Z"/>
<path fill="#00a887" d="M79 11L82 10.2L86 10.7L99 15.7L105 18.5L108 21L108.9 23L109 25L107.8 28L105.4 31L103 33.1L101 34.2L99 34.5L95 33.7L83.7 29L80.9 27L79.1 25L77.9 23L76.6 20L76.1 17L76.3 15L77 13ZM162 45L164 44.3L167 44.1L174 45.3L196 52.6L208 56.3L213 58.3L219 61.5L225.3 66L234 73.8L242.6 80L244.4 82L245 84L244.6 86L243.9 87L242.9 88L241 89.1L238 89.9L229 90.9L226 91.9L223 93.2L218 96.8L214.3 101L205 115.1L202 121L199.5 129L195.1 148L193.6 152L191 156L188.5 159L179.7 167L178.7 169L178.1 174L177 175.8L175.6 177L172 178.3L168 178.4L164 177.6L160.2 176L157.7 174L157 173L156.3 171L156.6 169L158.6 166L158.8 165L158.6 164L156.3 161L150.3 156L143 151.1L136 147.6L128 144.5L112 139.6L97 135.6L90 134.1L84 133.5L78 134.3L73.8 136L72 137.2L70.3 139L68.4 142L66 148L63.6 151L61 152.7L58 154L55 154.9L52 155.2L50 154.6L49 153.9L45.3 150L41.8 147L37.6 144L29.2 139L25.4 136L23.5 134L22.5 132L22.1 129L22.4 126L23.7 122L25.4 119L28.5 115L31.3 112L34 109.8L38 107.5L41 106.8L43 106.9L49 108.2L52 108.4L57 108.1L63 106.9L66 105.9L69 104.1L70.9 102L72.1 100L73.2 97L74 93L74.1 89L73.4 86L72.2 84L69.7 82L56.5 76L54.1 74L53 71.2L53 68L54 65L55.8 63L58 62.2L60 62L72 62.3L89 61.8L93 60.9L100 57.7L104 57.1L150 61.8L156 61.7L158.1 61L159.3 60L160 59L160.3 57L159.4 51L159.4 49L160 47ZM209.6 219L212 219L214 219.5L216 220.7L217.1 222L218 224L217.9 226L217 227.9L215.7 229L213 229.9L211 229.8L208 228.6L206 226.6L205.2 224L205.5 222L207.1 220Z"/>
<path fill="#00a9a6" d="M79.5 12L82 11.2L86 11.6L96 15.4L104 18.9L106.7 21L107.9 23L108.1 25L107.1 28L105 30.7L103 32.5L101 33.5L99 33.9L95 33.2L84 28.7L81.6 27L79.8 25L78.6 23L77.4 20L77.1 17L77.3 15L78.4 13ZM165.4 48L167 47.5L169 47.4L175 48.3L195 54.9L208 58.5L213 60.4L220 64.5L225.2 69L227.8 72L229.8 75L231.3 78L231.9 80L231.9 82L231.6 83L230 85L219 93L214 97.9L203 113.8L199.5 120L196.3 127L193.3 136L190.2 148L188.7 152L187.1 155L184.9 158L183 160L180 162.2L177 163.8L173 164.7L169 164.4L165 163.2L162 161.8L158 159.3L139 144.9L133 141L129.1 139L121.7 136L115.1 134L93 129.1L89 128.7L86 129L77 131.6L72 133.6L70 135.1L68 137.3L63 146.5L61 148.8L57.1 151L53 151.9L50 151.5L47 150L39 144.5L29.7 139L26.1 136L24.4 134L23.5 132L23.1 129L23.4 126L24.4 123L26.6 119L28.9 116L32 112.7L35 110.3L38 108.7L41 108.1L43 108.1L49 109.3L52 109.6L57 109.2L63 108.1L66.3 107L69 105.5L71 103.7L73 100.5L74.3 97L75.2 92L75.4 88L74.9 85L73.7 83L72 81.5L60.8 76L57 73L55.9 71L55.7 68L56.3 66L58 64.2L60 63.5L63 63.2L90 63.2L94 62.3L101 59.7L106 59L123 59.9L152 63.2L158 63L160.6 62L162.5 60L163.3 57L163.2 51L164 49.1Z"/>
<path fill="#02a8c0" d="M79.8 13L82 12.1L86 12.5L94 15.4L103 19.3L105.5 21L107 23L107.4 25L106.4 28L104.9 30L103 31.8L101 32.9L99 33.3L97 33.2L94 32.3L84 28.2L82.3 27L80.5 25L78.5 21L77.9 18L78 16L78.9 14ZM168.3 52L171 51L176 51.6L194 57.4L206 60L212 62L217.4 65L222.3 69L225.2 73L226.5 76L226.8 78L226.5 81L225.1 84L222.5 87L216 92.8L212.1 97L208.4 102L200 114.5L194 122L192 126L190 132.1L186.8 147L185.5 151L184 154L182 156.9L180 159L178 160.3L175 161.6L172 162L168 161.7L164 160.5L160 158.6L155 155.2L149.8 151L140 142L135.8 139L130.6 136L123.5 133L117.1 131L90.4 125L87 124.8L85 125.1L67.4 132L65.9 133L64.2 135L62.2 141L60 144.3L58.1 146L56 147.3L51 148.9L48 148.9L44 147.2L30.3 139L26.7 136L25.1 134L24.3 132L23.9 129L24.3 126L25.3 123L26.9 120L29.1 117L32 113.8L35 111.3L38 109.7L41 109.1L43 109.2L49 110.4L52 110.7L57 110.3L63 109.2L66 108.3L69 106.9L71.3 105L73.4 102L75 98L76.1 93L76.8 88L76.4 84L75.5 82L74 80.6L64.5 76L60.5 73L59.2 71L58.7 69L59.1 67L59.9 66L61 65.3L65 64.4L76 64.1L81 64.2L88 65L91 64.9L94 64.2L103 61.2L107 60.6L112 60.4L125 61L153 64.4L159 64.3L161 63.8L162.6 63L164.6 61L166 58L167 53.9Z"/>
<path fill="#08a6d5" d="M82 13L85 13L88 13.8L100 18.6L104 20.7L105.4 22L106.5 24L106.5 26L105.1 29L102 31.8L100 32.6L98 32.8L93 31.5L86.5 29L84 27.7L82 26L80.5 24L79.5 22L78.7 19L78.7 17L79.3 15L80.1 14ZM171.5 56L174 55.2L177 55.5L193 60.5L205 62.1L211 63.7L216 66.3L220 69.6L222.5 73L223.3 75L223.6 77L223.4 80L222.6 82L221.5 84L218.9 87L210.2 96L208 99L200 111.1L198 113.3L194 116.8L192 119.6L190.9 122L189 127.7L187 135.6L185.2 145L183.7 150L182.2 153L180.9 155L179 157L177 158.5L174 159.8L170 160.2L166 159.6L161 157.6L157 155L153.1 152L143.9 143L139.1 139L132.7 135L126.1 132L116.8 129L89 122.7L86 122.4L83 122.9L75 126.4L64 129.5L61 130.7L59.4 132L58.8 133L58.4 135L58.4 139L57.3 142L55.5 144L54 145.2L51 146.8L49 147.4L47 147.4L44 146.5L33 140.4L28.4 137L25.8 134L25 132L24.7 129L25.1 126L26.1 123L27.8 120L30.9 116L33 113.9L36 111.6L39 110.3L41 110L44 110.3L50 111.6L53 111.8L57 111.5L63 110.4L67 109.3L70 107.7L72 105.9L74 103L75.9 98L77.3 92L78.2 86L77.9 82L77 80.2L75.8 79L67 75.1L64.1 73L62.6 71L62.3 69L62.6 68L64 66.7L66 66L68 65.7L76 65.4L81 65.7L87 66.9L90 67L93 66.3L104 62.6L109 61.8L116 61.4L127 62L153 65.4L160 65.5L163 64.8L165 63.5L166.5 62L170 57.2Z"/>
<path fill="#0d9ddd" d="M81.8 14L84 13.7L88 14.5L98 18.5L103 20.9L104.4 22L105.7 24L105.8 26L105 28L103.5 30L102 31.2L100 32L98 32.2L93 31L85 27.7L81.8 25L80.6 23L79.6 20L79.4 18L79.8 16L80.4 15ZM172 60L175 59.2L178 59.7L182 61.2L191 65.5L194 66.5L196 66.5L204 64.9L207 65L211 66L215 68L218.4 71L220.2 74L220.8 77L220.6 79L220 80.9L218.2 84L208 95L202.1 105L200 108.1L198 110.2L193.2 114L191.1 117L189 122.3L187 129.3L183.7 145L182.6 149L181.1 152L179.7 154L177.7 156L175 157.7L172 158.6L168 158.6L164 157.6L161 156.2L157.6 154L154 151.1L145 142.1L141 138.7L135.5 135L129 131.7L124.7 130L118 127.9L88 120.9L85 120.6L82 121L73 124.6L62 127.2L59 128.5L57.5 130L56.4 132L55.9 134L55.5 139L54.3 142L52.4 144L51 145L48 146.2L46 146.4L44 145.9L34 140.6L28.9 137L26.4 134L25.6 132L25.3 130L25.6 127L26.5 124L28.6 120L30.9 117L33.9 114L36 112.5L38 111.5L41 110.9L44 111.2L50 112.6L53 113L57 112.8L63 111.8L67 110.7L70 109.3L72 107.7L74 105L76 100.6L77.8 94L79.6 85L79.7 80L79.1 78L78 76.7L76 75.7L70.7 74L67.6 72L67 71L66.8 70L67.2 69L68 68.4L71 67.6L76 67.4L80 67.9L85 69.3L88 69.3L92 68.3L100 65.1L105 63.7L111 62.7L117 62.4L126 62.8L153 66.3L161 66.7L164 66.2L166 65.2L170 61.4Z"/>
<path fill="#128dd8" d="M81.8 15L84 14.4L87 14.9L96 18.4L101.8 21L104 22.7L104.8 24L105.1 26L104.3 28L103 29.6L101.1 31L98 31.6L93 30.5L85 27.2L83.5 26L82 24.3L80.5 21L80.2 19L80.4 17L81 15.7ZM173 63L176 62.7L178 63.2L181 64.4L186 67.2L195 73.8L199 75.7L200 75.7L201 75.4L202 74.2L203.6 71L204.5 70L206 69L208 68.6L211 69L213.2 70L215.7 72L217 74L217.6 77L216.9 80L215.1 83L208 90L206.4 92L202.2 101L200 104.8L198 107.1L193 111L191 113.7L189 118.2L187 124.7L184.9 133L182.5 145L181.6 148L180.2 151L178.8 153L177 154.8L175 156.2L172 157.2L168 157.4L165 156.7L161 154.9L155 150.6L146 141.5L142 138L136 134L128 130L117 126.5L99 122.4L86 119.1L83 118.9L80 119.4L73 122.2L61 125L58 126.4L56 128.7L55 131L53.7 139L52.9 141L51.4 143L50.2 144L47 145.4L45 145.4L43 144.9L33.6 140L29.5 137L27 134L26.2 132L26 129L26.5 126L27.6 123L29.4 120L32 116.8L34.9 114L37 112.7L39 112L42 111.7L52 114.1L57 114.4L63 113.5L67 112.5L70 111.2L72 109.7L74.7 106L77 100.4L80.1 88L82.6 76L83.8 74L86.9 72L102 65.6L107 64.4L112 63.6L119 63.2L125 63.5L154 67.3L162 67.9L165 67.7L167.3 67Z"/>
<path fill="#187dd3" d="M82 16L84 15.3L87 15.7L95.9 19L101 21.3L103 22.8L104 24L104.3 26L103.5 28L102.8 29L101 30.3L98 31L93.3 30L85.8 27L83.3 25L81.5 22L81 20L81 18ZM109.1 65L117 64.1L125 64.3L157 68.5L165 69.3L169.4 69L175 66.6L178 66.7L182 68.3L187 71.5L195.9 79L200.5 84L202.1 87L202.6 90L202.2 94L201.2 98L200 100.8L198.6 103L197 104.6L193 107.6L191 110.4L190 112.3L188 117.5L186 124.3L180.9 147L178.9 151L176 154.1L173 155.7L170 156.3L166 155.9L162 154.4L159 152.5L155.8 150L146.9 141L142 136.8L135 132.2L128.2 129L118 125.7L99 121.4L84 117.4L80 117.2L77 117.7L69.7 120L61 121.8L58 123.3L56 125.5L54.3 129L52.6 138L51.9 140L50.7 142L49.6 143L47 144.5L44 144.6L40 143L32.6 139L30 137L28.2 135L27.1 133L26.6 130L26.9 127L27.9 124L29.5 121L32 117.7L34.7 115L37 113.5L40 112.5L43 112.6L53 115.7L58 116.6L66 115.3L69 114.4L72 112.6L74 110.2L76.4 105L78 100L82.8 82L84 78.6L85.4 76L88.8 73L97 68.7L103 66.4Z"/>
<path fill="#1f6cc9" d="M82.5 17L84 16.2L87 16.4L98.8 21L101 22.2L103 24L103.4 25L103.2 27L102 28.8L101 29.5L100 30L98 30.4L94 29.6L87 27L84.1 25L82.7 23L81.8 20L81.9 18ZM117 65L122 64.9L128 65.4L155 69.1L169 71.3L180 72L183 73.2L187.2 76L193 80.9L196.4 85L198.1 88L199 91L199.2 94L198.7 97L197 100.1L193 103.6L192 104.9L190 108.8L188 114.2L185 124.4L180.2 146L178 150.5L175 153.5L172 154.9L169 155.3L166 154.9L162 153.3L159 151.4L156.1 149L147.2 140L142.5 136L136 131.7L129 128.3L119 125L98 120.2L79.6 115L77.2 114L76.4 113L76.2 111L76.4 109L81.7 89L84.4 81L87 76.6L89 74.6L92 72.5L100 68.4L107 66.3ZM37.4 114L39 113.4L41 113.2L45.5 114L52.2 117L54.7 119L55.3 120L55.3 122L53 129.5L51.2 139L49.3 142L48 143L46 143.9L44 143.9L42 143.4L33.3 139L29.6 136L28.2 134L27.4 132L27.3 128L28 125.3L29 123L30.9 120L33 117.4L35 115.5Z"/>
<path fill="#285bbc" d="M83.1 18L84 17.3L85 17L87 17.2L97 21L100 22.5L101.8 24L102.4 25L102.2 27L101.6 28L100.4 29L98 29.6L94.1 29L88 26.8L85.1 25L83.5 23L82.6 20ZM114.9 66L123 65.8L133 66.8L158 70.4L171 73.6L177 75.7L182 78.5L186.8 83L190.9 88L192.2 90L192.9 92L193.1 94L192.7 96L185 120.9L182 133L179.5 145L177.9 149L175 152.2L173 153.4L170 154.2L167 154.1L164 153.2L161 151.6L157 148.6L148 139.5L144 136L138.2 132L133 129.1L127 126.6L120 124.4L99 119.5L93 117.8L82.1 114L80.2 113L79 111.8L78.2 110L78.2 107L80.4 97L84 84.9L85.6 81L87.5 78L89.2 76L91.6 74L99 69.8L106 67.4ZM39.7 114L43 114.1L48.1 116L51.1 118L52.1 119L53.1 121L53.1 124L50.5 138L49.6 140L48 141.9L46.1 143L45 143.3L43 143.2L41 142.5L33 138.4L31.2 137L29.3 135L28 132L27.8 130L28.1 127L29.2 124L30.9 121L35 116.3L37 114.9Z"/>
<path fill="#3049ae" d="M84 19L85 18.3L86 18.1L88 18.4L97.2 22L100.4 24L101.1 25L101.3 26L101 27L100.1 28L99 28.5L97 28.7L93.5 28L88.1 26L86 24.7L84.5 23L83.8 21ZM113.4 67L121 66.5L128 67L153 70.4L162 72.3L171 75.3L176.6 78L181 81.5L184.8 86L187.1 90L188.5 94L188.9 99L188.3 104L181.8 130L178.6 145L176.7 149L174 151.7L171 153.1L168 153.3L165 152.6L162 151.2L157 147.5L148.7 139L144 134.9L138 130.9L131 127.3L125 125L119 123.2L100 118.9L94 117.3L84 113.4L82 112.3L80.6 111L79.7 109L79.4 107L80.5 100L82.3 93L84.2 87L86 82.6L88.1 79L89.8 77L92 75L95 72.9L99 70.7L105 68.6ZM38.5 115L40 114.7L42 114.7L44 115.1L47 116.4L50.4 119L51.7 122L51.7 126L50.4 135L49.6 138L47.7 141L46.4 142L45 142.5L43 142.6L41 142.1L36.5 140L33.1 138L29.9 135L28.5 132L28.5 128L29 126L30.4 123L34.1 118L36 116.3Z"/>
<path fill="#36399e" d="M85.6 20L87 19.5L88 19.6L94.7 22L98.5 24L99.4 25L99.6 26L99 27.1L97 27.6L94 27.1L90.6 26L88 24.8L86 23.2L85.2 21ZM112.2 68L120 67.3L127 67.7L151 70.9L159 72.5L166.8 75L174 78.3L178.9 82L182.4 86L185.3 91L186.6 95L187.2 100L186.9 105L185.8 111L180.9 130L178 144L176.3 148L174 150.5L171 152L168 152.3L165 151.6L162 150.2L157 146.3L149 138.1L145 134.7L139 130.5L132 126.8L126 124.5L120 122.6L100 118L93 116L85.6 113L83 111.3L81.7 110L80.8 108L80.6 106L80.8 103L81.8 98L85.1 87L87 82.7L89 79.5L93 75.4L99 71.7L105 69.4ZM37.8 116L41 115.3L43 115.6L45 116.3L47 117.4L48.9 119L50.5 122L50.7 126L49.1 137L47.5 140L46.5 141L45 141.8L43 142L41 141.5L37.4 140L34 138.1L32 136.6L30.5 135L29.1 132L29.1 128L30 125.1L31 123.1L34 119L36 117.1Z"/>
<path fill="#3b298f" d="M88.8 22L90 22.1L92.6 23L94.6 24L95.4 25L93 25L90.2 24L88.8 23ZM111.2 69L119 68.2L126 68.4L150 71.6L158 73.1L165 75.4L172 78.7L176.7 82L180.4 86L183.5 91L185 95L185.8 100L185.6 106L184.6 112L179.8 131L177.1 144L175.1 148L173.1 150L171 151L168 151.3L165 150.6L162 149.1L157.9 146L150 137.9L145.5 134L139 129.5L133 126.3L127 123.9L120 121.7L100 117.2L94 115.4L87 112.5L84.5 111L83 109.4L82 107.5L81.6 105L82.5 99L85.3 89L87 84.8L89.1 81L91 78.6L93 76.6L98.4 73L104 70.6ZM37.4 117L39 116.3L41 116.1L44 116.7L46 117.8L47.6 119L48.4 120L49.4 122L49.8 124L49.7 127L48.5 136L47.2 139L46 140.3L44.8 141L43 141.3L41 141L36 138.8L32 136L30 133L29.6 131L29.6 129L30.7 125L32 122.6L33.9 120L35.9 118Z"/>
<path fill="#3b2385" d="M110.4 70L119 69.1L126 69.3L147 72L157 73.8L163.8 76L170.2 79L174.7 82L178.7 86L181.5 90L183.6 95L184.6 100L184.5 106L183.4 113L179.2 130L176.4 143L175 146.5L173 148.8L171 149.9L168 150.3L166 150L163 148.7L158.1 145L150.3 137L146 133.3L139 128.5L133 125.4L126 122.7L120 120.8L101 116.5L95 114.8L88.1 112L86 110.7L84.2 109L83.1 107L82.7 105L82.8 102L83.3 99L86.2 89L88 84.9L90 81.4L91.9 79L94 77L98.4 74L104 71.5ZM39.5 117L41 116.9L43 117.2L46 118.8L47.8 121L48.8 124L48.8 127L48.4 132L47.3 137L46.1 139L45 140L43 140.6L41 140.4L39 139.7L33.9 137L31.1 134L30.2 131L30.7 127L31.4 125L33 122.2L36 118.8L38 117.5Z"/>
<path fill="#3b2080" d="M118.3 70L124 70L133 71L152 73.7L159 75.4L165.7 78L171.3 81L175.1 84L179 88.5L181.5 93L182.9 97L183.5 102L183.3 108L182.2 114L178.2 130L175.7 142L174.1 146L172 148.2L170 149L168 149.2L166 148.9L163 147.6L159 144.5L151 136.4L147 132.9L141 128.6L134 124.8L128 122.4L122 120.4L101 115.6L95 113.9L88.5 111L87 110L85 108L84.1 106L83.8 103L85 95.9L88 87L90 83.2L92.4 80L97 76L103 72.9L110 71ZM38.9 118L42 117.8L44.7 119L46.7 121L47.8 124L47.8 130L46.8 136L46 137.7L45 138.9L43 139.8L41 139.7L39 139.2L34.8 137L32.5 135L31 132L30.9 130L31.1 128L32.7 124L35.8 120L37 119Z"/>
<path fill="#3b2080" d="M118.1 71L124 71L131 71.7L151 74.6L158 76.1L165 78.9L170.6 82L174.4 85L177.8 89L180.2 93L181.8 98L182.4 103L182.2 108L181 114.6L177.2 130L174.9 141L173.3 145L171.5 147L170 147.8L168 148.1L166 147.7L163 146.3L159 143.2L151 135L147 131.6L141 127.5L135 124.2L129 121.7L122 119.4L102 114.8L95.6 113L92 111.6L89 110L87 108.4L86 107.1L85.1 105L84.9 103L85.2 100L86 96L89 87.4L91 83.6L93 80.9L97.4 77L103 73.9L110 72ZM38.7 119L41 118.6L42.6 119L44 119.7L46 121.9L46.8 124L47 129L46.1 135L45 137.4L43 138.9L40 138.8L35.9 137L33.4 135L31.8 132L31.7 129L33 125L35.8 121Z"/>
<path fill="#62bb46" d="M65.9 23L69 22.3L72 22.8L74 23.9L79.1 28L82.1 30L96 36.4L99 37.4L101 37.2L104 35.4L112 27.4L115 25.1L116 24.7L118 24.6L121 25.4L125 27.3L130 30.5L134 33.8L137 37L138.9 40L140.1 44L140.3 47L139.6 50L138.3 52L136 53.5L133 54.4L128 54.8L123 54.6L117 53.8L112 52.6L105 50.3L102 50L99 51.1L93 55.5L90 57.2L86 58.5L80 59.2L73 59.6L68 59.4L62 58.5L57 57L53 55L51.9 54L50.6 52L49.9 48L50.5 43L52.5 37L54.5 33L56.4 30L59 27.1L61 25.4L63 24.2ZM42 83L44 82.6L49 83.7L58 84L61 84.7L64.1 86L66.6 88L68.1 91L68.3 95L67.2 98L66 99.6L64.3 101L60 102.6L57 103.1L54 103.2L52 103L49.6 102L47.2 100L41.1 93L40 91L39.7 89L40 86L40.9 84ZM17.7 138L19 137.3L21 137L24 137.7L36.8 145L40.5 148L43.3 152L44.5 156L44.3 160L43.5 162L42.8 163L41 164.3L39 164.9L36 165.1L33 164.8L19 161.4L15 159.6L13 158L11.5 156L10.7 154L10.4 152L10.8 149L11.4 147L13.5 143L15.6 140ZM80.9 152L85 151.5L92 151.8L101 152.7L110 154.3L117 156.3L123 158.5L129 161.3L133 163.6L136 165.8L139 168.5L147.4 178L156.4 187L159 190L160.7 193L161.4 196L160.9 199L159.9 201L156.9 204L154 205.5L152 206.2L149 206.6L146 206.7L139 205.7L122 201.4L109 197.4L82 187.7L77 185.6L73 183.5L58.2 173L56.5 171L55.8 169L55.8 168L56.7 166L57.4 165L61.1 162L76 153.8Z"/>
<path fill="#96c937" d="M67.3 25L71 24.5L74 25.3L82 30.4L90.1 34L97 37.7L100 38.5L101 38.4L103 37.3L110 30.4L113 28.2L116 27.3L119 27.8L123 29.6L127 32.2L131 35.3L133.7 38L135.2 40L136.5 43L136.9 46L136.6 48L135.6 50L133.2 52L130 53L126 53.3L121 53.1L116 52.2L111.7 51L105 48.4L102 47.9L101 48.1L99 49.3L93.6 54L91 55.8L86 57.7L80 58.6L72 59L66 58.6L61 57.4L56 55.2L53.8 53L52.8 51L52.3 49L52.6 44L54.5 38L56.5 34L58.5 31L62 27.6L65 25.8ZM55.4 86L59 86.2L62 87.2L64.6 89L65.8 91L66.3 93L66 96L64.8 98L62.3 100L58 101.3L55 101.4L53 101.1L50.9 100L49.8 99L48.6 97L47.1 92L47.2 90L47.6 89L48.5 88L50.4 87ZM21.3 138L24 138.3L27 139.6L37 145.6L40.8 149L42.7 152L43.7 156L43.4 159L42.5 161L41.6 162L40 163L38 163.5L33 163.2L19 159.8L16 158.3L14 156.6L12.9 155L12.2 153L12.1 151L12.7 148L14.6 144L17 140.7L19 138.8ZM82.9 155L89 154.7L96 155.1L102 155.8L109 157.2L119 160.5L125 163.3L131 166.6L136 169.9L140 173.3L150.8 184L154.4 188L156.4 191L157.3 194L157.2 197L156.3 199L155 200.6L153.2 202L149 203.5L144 203.7L137 202.6L124 199.3L111 195.3L86 186.5L81 184.5L76 182.1L71.6 179L63.1 171L61.7 169L61.4 167L62.2 165L63.1 164L67.4 161L76 156.7L79 155.7Z"/>
<path fill="#c2d723" d="M70.7 26L73 26.2L75 26.8L82 30.9L91.1 35L98 39.5L100 40.4L101 40.4L102 39.9L108.3 33L112 30.1L115 29.2L118 29.6L121 31.1L125 33.6L128.1 36L131 38.7L132.7 41L133.6 43L134 45L133.8 47L132.6 49L130 50.8L127 51.5L122 51.6L118 51.1L113.7 50L108.8 48L104 45.4L102 44.7L101 45L100 45.8L96.5 50L93 53.4L90 55.4L87 56.7L82 57.8L73 58.5L67 58.1L62 57L57.7 55L56.5 54L54.9 52L54.2 50L53.9 48L54.1 45L54.7 42L56.2 38L57.8 35L61 30.6L65 27.6L68 26.4ZM55.9 89L58 88.9L60 89.4L62 90.7L62.9 92L63.3 94L63 95.3L61.8 97L60.3 98L58 98.7L55 98.5L53 97.4L52.1 96L51.6 94L52 91.6L53.3 90ZM20.8 139L23 138.7L26 139.6L35.6 145L39.4 148L41.6 151L42.9 155L42.8 158L42 159.9L41.1 161L39 162.1L37 162.5L31 161.8L19 158.7L17 157.7L15 156L13.7 154L13.2 152L13.3 150L13.8 148L15.2 145L17.2 142L19 140.1ZM86.9 157L92 156.9L99 157.4L105 158.4L110 159.7L115 161.4L120 163.7L132 170.5L137 173.8L141 177L148 183.6L151.9 188L153.7 191L154.3 193L154.3 196L153.4 198L151 200.2L149 201L147 201.5L142 201.5L135 200.2L121 196.6L108 192.4L85 184.2L81 182.5L77 180.4L72.7 177L68.5 172L66.7 169L66.3 167L66.5 166L67.1 165L69 163L75 159.6L81 157.7Z"/>
<path fill="#e7e508" d="M67.4 28L71 27.2L73 27.2L75 27.8L82 31.4L90.1 35L94.6 38L97.4 41L98.1 43L97.6 46L95.2 50L92.3 53L89 55.2L85 56.6L80 57.4L73 57.9L67 57.5L62 56.3L58 54L56.4 52L55.3 49L55.4 45L56.4 41L58.6 36L61 32.5L64 29.7ZM112.8 31L114 30.7L116 30.9L118.9 32L123.2 35L127.9 39L130 41.7L130.9 44L130.7 46L129.4 48L127.6 49L125 49.6L122 49.7L118 49.3L114 48.2L111.1 47L108 45.2L106 43.6L104.8 42L104.5 41L104.6 40L105.4 38L106.7 36L109 33.4L111 31.8ZM20.6 140L23 139.3L26 140L35 145L38.8 148L41.1 151L42.1 154L42.2 157L41.6 159L40.8 160L40 160.6L38 161.5L36 161.7L33 161.4L21 158.5L18 157.3L16 155.8L14.4 153L14.1 151L14.4 149L15.6 146L17.5 143L19 141.2ZM85.2 159L94 158.7L104 159.8L112 162.2L120.1 166L137 176.5L142 180.4L146 184L149.6 188L151.3 191L151.9 194L151.4 196L150.8 197L149 198.6L146 199.6L141 199.6L135 198.6L123 195.6L113 192.6L88 183.8L80 180.3L76 177.6L72.7 174L70.7 170L70.5 167L71.5 165L72.4 164L75.3 162L80 160.1Z"/>
<path fill="#f6db00" d="M67.9 29L72 28.2L75 28.6L89.1 35L93.5 38L95.8 41L96.5 44L96.1 46L95.3 48L93.2 51L90 53.8L87 55.3L83 56.4L78 57.1L72 57.3L67 56.9L63 55.9L59.5 54L57.6 52L56.5 49L56.5 45L57.5 41L59.3 37L62 33L65 30.4ZM111.2 33L113 32.3L115 32.3L117 33L119.9 35L124.1 39L126.4 42L127 44L126.7 45L126 45.9L123 47.1L118 47L113 45.6L108.6 43L107 41L106.7 40L106.9 38L108.8 35ZM22.8 140L25 140.2L28 141.5L35.9 146L39.2 149L41 152L41.7 155L41.2 158L40 159.6L39 160.3L37 160.8L32 160.5L21 157.8L18 156.4L16.4 155L15.2 153L14.9 151L15.2 149L16 147L17.7 144L19.3 142L21 140.6ZM83.6 161L91 160.1L96 160.2L101 160.8L108 162.4L116 165.7L121 168.6L136 178.3L143 183.5L146.5 187L148.6 190L149.4 193L149 195L148.4 196L147.1 197L144 197.9L139 197.8L132 196.4L121 193.6L111 190.5L90 183.1L82 179.8L78 177.3L75.7 175L74 172L73.4 169L73.9 167L74.4 166L76.5 164L80 162.1Z"/>
<path fill="#fcc501" d="M68.1 30L72 29.2L76 29.7L88.1 35L92.4 38L94.6 41L95.2 44L94.9 46L94.2 48L92.1 51L89 53.6L86 55L82 56L77 56.6L71 56.8L67 56.4L63 55.2L60 53.3L58.2 51L57.4 48L57.5 45L58.6 41L60.4 37L62.5 34L65 31.7ZM112.7 34L114 33.9L116 34.6L118.6 37L119.9 39L120.5 41L120.4 42L119.6 43L118 43.5L115 43.4L112 42.5L109.8 41L108.7 39L109 37L110.6 35ZM21.7 141L24 140.5L27 141.4L35 145.9L37.8 148L40 151L41 154L41 156.4L40 158.5L39 159.4L37 160.1L33 160L22 157.4L19 156.2L17.4 155L16.6 154L15.7 152L15.9 149L16.7 147L18.5 144L20 142.2ZM86.4 162L94 161.5L102 162.3L108.5 164L115 166.9L137 181.2L142 185L144.9 188L146.2 190L146.8 192L146.4 194L145.5 195L144 195.8L141 196.2L136 195.8L128 194.1L118 191.4L109 188.5L90 181.8L83 178.9L80 177L77.1 174L75.9 171L75.9 169L76.7 167L79 164.8L82 163.2Z"/>
<path fill="#f8a60b" d="M68.1 31L72 30.1L76 30.5L87 35L90.3 37L93.1 40L94.1 43L94.1 45L93.6 47L91.9 50L90 52L86.8 54L83 55.2L78 56L72 56.2L68 55.9L64 54.9L61 53.1L59.3 51L58.4 48L58.5 45L59.2 42L60.9 38L62.9 35L65 32.9ZM112.8 37L114 37.2L114.5 38L114 39L113 39L112.1 38ZM21.2 142L23 141.2L26 141.5L33 145.1L37 147.8L38.9 150L40.3 153L40.4 156L39.5 158L38.2 159L37 159.4L33 159.4L23 157.1L20.1 156L18.4 155L17.4 154L16.5 152L16.6 149L18.5 145ZM89.3 163L96 162.8L102 163.5L108 165.2L114 168L118.8 171L127 177L136.2 183L140.2 186L142.1 188L143.4 190L143.6 192L143.1 193L141 194.1L137 194.2L131 193.3L123 191.5L115 189.2L105.3 186L91 180.9L84 177.9L81.1 176L79.2 174L78.1 171L78.3 169L79.5 167L82.2 165L85 163.9Z"/>
<path fill="#f48714" d="M71.6 31L75 31L78 31.8L86 35L88 36.1L90.5 38L92.6 41L93.1 44L92.9 46L92.2 48L90 51L87.3 53L84 54.3L80 55.1L74 55.7L70 55.6L66 54.9L63 53.5L61.1 52L59.9 50L59.3 47L59.8 43L61.4 39L63.2 36L66 33.3L69 31.6ZM22.6 142L25 141.7L27 142.3L33.8 146L36.6 148L38.4 150L39.8 153L40 155L39.8 156L39 157.5L38 158.3L36 158.9L32 158.6L22 156.2L20 155.3L18.3 154L17.6 153L17 151L17.6 148L20 144ZM86.6 165L92 164.1L99 164.4L105 165.6L111 168L117 171.6L126 178.5L136.6 186L139.2 189L139.4 190L139.1 191L137 191.9L134 191.9L127.6 191L120 189.3L106 185L87 177.9L82.3 175L80.8 173L80.2 171L80.7 169L82 167.4L84 166Z"/>
<path fill="#ef6c12" d="M70.9 32L74 31.7L78 32.5L85 35.2L88 36.8L89.5 38L91.6 41L92.2 44L92 46L91.3 48L89 50.9L87 52.4L84 53.7L80 54.5L75 55L70.3 55L67 54.4L64 53.3L62.3 52L60.9 50L60.2 47L60.5 44L61.4 41L63 37.9L65.3 35L68 33.1ZM22 143L24 142.3L27 142.8L33 146L36 148L38 150.3L39.2 153L39.3 155L38.5 157L37 158L36 158.2L32 158.1L23 155.9L21 155.1L19.2 154L17.9 152L17.9 149L19.2 146L20.8 144ZM89 166L94 165.5L100 165.9L105 167L110 169L116.4 173L129.7 184L131.8 186L132.4 187L132.5 188L131 188.8L128 189L122 188.1L117 187L104.1 183L88.3 177L86 175.7L83.9 174L83 172.6L82.6 171L83.4 169L84.4 168L86 167Z"/>
<path fill="#ea5310" d="M70.6 33L74 32.5L78 33.2L85 35.8L88.5 38L90.6 41L91.2 44L90.7 47L88.8 50L86.2 52L84 53L80 53.9L76 54.4L72 54.5L68 54L65.1 53L63.6 52L61.9 50L61.2 48L61.2 45L62 42L63.4 39L65.6 36L68 34.1ZM23.5 143L26 143L28 143.8L33.8 147L36 148.7L37.9 151L38.6 153L38.7 155L38 156.4L36 157.6L32 157.5L24 155.6L22 154.9L20 153.8L18.6 152L18.4 151L18.5 149L19.3 147L20.7 145L22 143.7ZM94.6 167L99 167.2L103.2 168L108 169.8L112 171.9L116.2 175L121.5 180L124 183L124.4 184L124.2 185L123 185.5L120 185.6L112 184L97.1 179L92 177L88.2 175L86 173L85.5 171L85.9 170L87 168.9L89 167.9L92 167.2Z"/>
<path fill="#e74e0f" d="M70.5 34L74 33.4L78 33.9L84 36L87.4 38L89.1 40L90.2 43L90.1 46L88.6 49L86.4 51L84 52.2L81 53.1L77 53.6L73 53.8L69 53.5L66 52.5L64 51.2L62.5 49L62.1 47L62.1 45L62.9 42L64.4 39L66 36.9L68 35.2ZM22.8 144L25 143.4L27 143.9L31.2 146L35 148.4L36.6 150L37.7 152L38.1 154L37.9 155L37.3 156L36 156.8L35 157L31 156.7L23.8 155L21.4 154L20.1 153L19.1 151L19.2 149L20.6 146ZM94.5 169L98 169L102 169.6L105 170.5L108.4 172L111.6 174L115.1 177L116.7 179L117.5 181L117 181.8L116 182.2L114 182.2L111 181.6L102.2 179L92.5 175L89.9 173L89.5 172L89.7 171L91 169.9Z"/>
<path fill="#e4490e" d="M70.5 35L74 34.3L77 34.5L82.3 36L86.1 38L88.1 40L89.2 43L89 46L87.4 49L85 50.9L83 51.8L76.6 53L70 52.9L67 52.1L65.2 51L64 49.6L63.3 48L63.1 46L63.6 43L64.9 40L66.3 38L68 36.4ZM22.5 145L24 144.2L26 144.2L28.2 145L33.5 148L35.8 150L37 151.9L37.3 154L37 155L36 156L35 156.3L32 156.3L25 154.7L22.9 154L21.1 153L19.8 151L19.9 149L20.7 147ZM98.3 173L100 172.6L103 173L105.3 174L106.8 175L107.6 176L107 176.7L106 176.7L102.7 176L98.7 174Z"/>
<path fill="#d64415" d="M70.8 36L74 35.3L77 35.4L81 36.3L85 38.3L87 40.2L88.1 43L87.9 46L86.9 48L85 49.8L83 50.9L78 52.1L74 52.4L70 52.1L68 51.5L66 50.3L64.9 49L64.2 47L64.2 45L64.7 43L65.5 41L67 38.8L68.9 37ZM24 145L25 144.8L27 145.2L30.8 147L33.9 149L35 150L36.3 152L36.5 153L36 154.7L35 155.4L34 155.6L31 155.4L25 154.1L22 152.7L20.7 151L20.6 149L22 146.4Z"/>
<path fill="#c6401d" d="M71.4 37L75 36.3L78 36.5L82 37.7L84.3 39L86.2 41L86.9 43L86.9 45L86 47.3L84.4 49L83 49.8L78 51.2L72 51.4L69.7 51L67.5 50L66.4 49L65.5 47L65.4 45L65.9 43L66.8 41L68 39.4L69.6 38ZM23.8 146L25 145.7L27 145.9L32.7 149L34 150.1L35.3 152L35.4 153L35.1 154L33 154.8L31 154.7L26 153.6L23 152.4L21.6 151L21.5 149L22.6 147Z"/>
<path fill="#b23c24" d="M72.6 38L75 37.6L78 37.7L81 38.5L83.6 40L85 41.8L85.4 43L85.4 45L84.5 47L82 49L77 50.3L72 50.3L70 49.8L68.5 49L67.6 48L67 46.8L66.9 45L67.4 43L69.3 40L71 38.7ZM24.1 147L25 146.7L27 146.8L31.2 149L33.4 151L34 152L33.8 153L33 153.5L31 153.7L26.7 153L24 152L22.9 151L22.5 150L23 148Z"/>
<path fill="#a83a28" d="M72.2 40L74 39.4L76 39.1L79 39.5L81 40.3L82.1 41L83.4 43L83.4 45L83 46L82.1 47L80.4 48L77 48.9L73 48.9L70.3 48L69.3 47L68.9 46L68.9 44L70 41.9ZM25.7 148L28 148.6L30.3 150L31.2 151L31 152L28 152.1L24.9 151L24.1 150L24.2 149L25 148.2Z"/>
<path fill="#a83a28" d="M75.1 42L77 41.9L79 42.7L79.8 44L79.5 45L78.2 46L77 46.3L75 46.4L73.4 46L72.5 45L72.6 44L73.2 43Z"/>
</g>
<path d="M106.2 26L99.1 50.9L128.3 59.8L160.2 65.1L172.7 60.5L188.7 66.9L202.9 75.8L213.5 86.4L213.5 111.3L238.4 118.4L243.7 129.1L238.4 136.2L224.2 143.3L215.3 148.6L204.7 159.3L190.4 165.3L178 164.6L163.8 161.1L146 155L128.3 148.6L110.5 143.3L92.7 138.7L80.3 136.2L74.2 140.8L78.5 145.8L96.3 152.2L114 157.5L128.3 164.6L142.5 170L153.1 184.2L163.8 200.2L157.8 203L24.5 152.2" stroke="#fff" stroke-width="1.9" fill="none" stroke-linejoin="round"/>
<path d="M82.1 17.2L106.2 26.4" stroke="#fff" stroke-width="1.9" fill="none" stroke-linejoin="round"/>
<path d="M52.8 87.3L89.2 105.1M45.6 100.7L64.3 111.3L82.1 121.4L96.3 129.5L114 137.5L135.4 145.5L151 151.3L151 152.6L177.6 159.7L204.3 163.3L225.6 165L238.1 165.6M96.3 87.3L101.6 91.8L117.6 98.9L138.9 109.5L151 114.9L160.8 121.5L184.8 133.9L194.5 138.4L204.3 144.6L222.1 157L236.3 165.9L245.2 171.6M139.8 38.5L151 50.9L151 51.3L159.9 58L168.8 63.7L177.6 67.8L186.5 71L204.3 77.6L222.1 83.8L239.8 90L257.6 98L275.4 106M21.7 150.8L46.5 142.8L64.3 136.6L78.5 136.6L110.5 138.4L138.9 137.1M78.5 137.1L87.4 141L99.8 151.7L110.5 159.7L121.2 167.7L135.4 178.4L151 187.2L165.2 192.6L181.2 200.6L193.6 208.6L204.3 212.1L214.1 214.8L222.1 222.8M189.2 139.6L199 137.1L206.1 134.6L213.2 131.4" stroke="#111" stroke-width="1.1" fill="none" stroke-linejoin="round"/>
<g fill="#111"><circle cx="154.8" cy="121.4" r="1.6"/><circle cx="155.4" cy="119.7" r="1.6"/><circle cx="128.9" cy="108" r="1.6"/><circle cx="128.3" cy="107.5" r="1.6"/><circle cx="150.6" cy="117.6" r="1.6"/><circle cx="147.5" cy="118.4" r="1.6"/><circle cx="146.2" cy="116.4" r="1.6"/><circle cx="135.2" cy="110.2" r="1.6"/><circle cx="143.7" cy="114.2" r="1.6"/><circle cx="144.4" cy="117.2" r="1.6"/><circle cx="144.3" cy="114" r="1.6"/><circle cx="133.3" cy="111.1" r="1.6"/><circle cx="140.3" cy="114.8" r="1.6"/><circle cx="139.4" cy="113.9" r="1.6"/><circle cx="190.9" cy="140" r="1.6"/><circle cx="206.6" cy="147.4" r="1.6"/><circle cx="206.9" cy="147.6" r="1.6"/><circle cx="181.6" cy="134.6" r="1.6"/><circle cx="200" cy="146.7" r="1.6"/><circle cx="199.5" cy="141.3" r="1.6"/><circle cx="193.3" cy="141.6" r="1.6"/><circle cx="195.8" cy="139.5" r="1.6"/><circle cx="193.7" cy="138.2" r="1.6"/><circle cx="205.8" cy="145.3" r="1.6"/><circle cx="191" cy="143" r="1.6"/><circle cx="200" cy="145.4" r="1.6"/><circle cx="190.3" cy="137.4" r="1.6"/><circle cx="202.1" cy="148.1" r="1.6"/><circle cx="203.8" cy="147.4" r="1.6"/><circle cx="188.8" cy="139.5" r="1.6"/><circle cx="192.7" cy="142.7" r="1.6"/><circle cx="202.4" cy="149.1" r="1.6"/><circle cx="196.4" cy="145.1" r="1.6"/><circle cx="189.5" cy="139.2" r="1.6"/><circle cx="186.2" cy="135.1" r="1.6"/><circle cx="185.7" cy="139.5" r="1.6"/><circle cx="197.7" cy="140.9" r="1.6"/><circle cx="185.6" cy="134.3" r="1.6"/><circle cx="201.8" cy="145.4" r="1.6"/><circle cx="186.5" cy="139.1" r="1.6"/><circle cx="202.4" cy="145.4" r="1.6"/><circle cx="184.4" cy="138" r="1.6"/><circle cx="138.6" cy="86.1" r="1.6"/><circle cx="188.3" cy="91.4" r="1.6"/><circle cx="170.2" cy="115.9" r="1.6"/><circle cx="176.6" cy="123" r="1.6"/><circle cx="189.7" cy="121.6" r="1.6"/><circle cx="133.2" cy="120.6" r="1.6"/><circle cx="165.9" cy="136.2" r="1.6"/><circle cx="197.9" cy="149" r="1.6"/><circle cx="203.9" cy="155.4" r="1.6"/><circle cx="204.7" cy="150.1" r="1.6"/><circle cx="94.5" cy="88.2" r="1.6"/><circle cx="93.4" cy="92.8" r="1.6"/><circle cx="88.5" cy="94.3" r="1.6"/><circle cx="205.7" cy="146.9" r="1.6"/></g>
<circle cx="150.3" cy="123" r="3.4" fill="#ea4a12"/>
<text x="148" y="136.6" style="font-size:12.5px;fill:#fff">玉树</text>
</g>
<g transform="translate(428.7 18.9)">
<text x="221.2" y="24.9" style="font-size:12.6px"><tspan font-style="italic">z</tspan>=3</text>
<path d="M0 0V247.4H314.9M0 0h3.6M0 27.5h3.6M0 55h3.6M0 82.5h3.6M0 110h3.6M0 137.4h3.6M0 164.9h3.6M0 192.4h3.6M0 219.9h3.6M0 247.4h3.6M0 247.4v-3.4M63 247.4v-3.4M126 247.4v-3.4M188.9 247.4v-3.4M251.9 247.4v-3.4M314.9 247.4v-3.4" stroke="#222" stroke-width="1.05" fill="none"/>
<text x="-3.1" y="4.5" text-anchor="end">34°N</text>
<text x="-3.1" y="32" text-anchor="end">33.8°N</text>
<text x="-3.1" y="59.5" text-anchor="end">33.6°N</text>
<text x="-3.1" y="87" text-anchor="end">33.4°N</text>
<text x="-3.1" y="114.5" text-anchor="end">33.2°N</text>
<text x="-3.1" y="141.9" text-anchor="end">33°N</text>
<text x="-3.1" y="169.4" text-anchor="end">32.8°N</text>
<text x="-3.1" y="196.9" text-anchor="end">32.6°N</text>
<text x="-3.1" y="224.4" text-anchor="end">32.4°N</text>
<text x="-3.1" y="249.4" text-anchor="end">32.2°N</text>
<text x="0.9" y="260.5" text-anchor="middle">95.5°E</text>
<text x="63.9" y="260.5" text-anchor="middle">96°E</text>
<text x="126.9" y="260.5" text-anchor="middle">96.5°E</text>
<text x="189.8" y="260.5" text-anchor="middle">97°E</text>
<text x="252.8" y="260.5" text-anchor="middle">97.5°E</text>
<text x="315.8" y="260.5" text-anchor="middle">98°E</text>
</g>
<g transform="translate(58.3 296.5)">
<path d="M63 0V247.8M126.1 0V247.8M189.1 0V247.8M252.1 0V247.8M315.1 0V247.8M0 0H315.1M0 27.5H315.1M0 55.1H315.1M0 82.6H315.1M0 110.1H315.1M0 137.7H315.1M0 165.2H315.1M0 192.7H315.1M0 220.3H315.1" stroke="#dadada" stroke-width="0.8" stroke-dasharray="1 2.2" fill="none"/>
</g>
<g transform="translate(59 297)">
<g clip-path="url(#quad)">
<path fill="#3cb44a" d="M82.1 16.4L282.1 93.6L218.9 230.4L20.9 151.5Z"/>
<path fill="#28b14f" d="M75.2 4L78 3.4L81 3.3L84 3.7L89 5.1L119 17.4L124 19.7L127 21.6L130.6 25L132.2 28L132.5 31L131.2 37L131.1 40L132.2 43L133 44L135 45.4L137 46.1L140 46.4L143 46L151 44.2L160 44.2L163 43.4L168 41.4L171 40.8L175 40.8L180 41.8L211 51.4L227 57.5L240 62.8L245 65.4L251 69.5L260.2 77L263.6 81L264.5 83L265.2 86L265.1 89L264.1 92L263 94L261 96.2L259 97.6L256 98.9L252 99.6L248 99.4L229 95.6L219 94.6L215 94.8L213 95.3L211.9 96L210.7 98L210.2 101L209.7 113L208.2 125L206.3 132L201.1 145L200.5 148L200.6 150L201.1 152L202 153.6L205 156.7L209 158.8L217.7 162L220.5 164L222 166L222.8 168L223.3 171L223.2 174L222.6 178L221.2 182L219 186L217 188.5L213 191.8L203.3 196L202.4 197L202.7 198L203.7 199L208 202.2L212 206.1L219.1 215L221.7 219L223 223L222.8 226L221.7 229L219 231.8L216 233.1L213 233.5L210 233.3L207 232.3L203 229.9L195 222.7L191.7 221L184 218.4L182 217.2L180.8 216L179 213L178.4 210L178.4 208L179.3 204L182.8 198L183.1 197L182.9 196L182.3 195L180.3 193L173.8 188L158 177L153 173L147.1 167L136 153.6L126.1 144L124.9 142L124.8 140L126 138.6L130 135.7L131.7 134L132.7 132L132.9 129L131.7 125L129 121.1L126 118.7L122 116.9L113 114.7L109 114.4L106 114.6L102 116L99.4 118L96 121.4L93 122.9L81 123.3L73 124.3L50 128.2L46 129.4L43.1 131L41.6 133L41.2 135L41.3 138L42.1 142L44.5 147L49.5 154L51.3 157L52.6 160L53.4 164L53.3 168L52 172.3L50 175.1L47 176.9L44 177.5L40 177.2L35 175.7L29 173.4L22 170.4L18 168.4L14.8 166L12.3 163L10.9 160L10.2 156L10.5 152L11.5 149L13 146.5L15 144.2L25.6 135L28.1 132L29.6 129L30 127L29.9 125L28.3 115L28.7 109L30.6 102L38.6 81L41.1 76L43.8 72L52.1 64L55 60.4L58 55.1L60.2 50L61 47L61.1 44L59.2 37L58.7 32L59.5 27L61.5 21L64.7 14L67.9 9L71 6.1L73 4.9Z"/>
<path fill="#0dab6a" d="M77.7 6L80 5.8L83 6L89 7.6L118 19.5L125 23.2L128.1 26L129.8 29L130.3 32L129.8 40L130.6 43L132 45L135 47L137 47.5L140 47.8L151 46.8L162 48.3L165.1 48L171 46.1L174 45.7L178 45.9L182 46.8L210 54.8L223 59.6L237 65.3L242 67.8L246 70.6L249.7 74L253.9 79L255.9 82L256.8 84L257.2 86L257 88L256.2 90L255 91.4L253 92.8L251 93.6L246 94.7L241 94.8L223 92.7L215 92.2L211 92.8L209.3 94L208.7 95L208.2 98L208.3 110L206.3 123L205.3 127L203.5 132L197 146L196.1 149L195.9 151L196.6 154L199 158.3L202 161.8L209.2 169L211.2 172L211.5 174L211 177L209.4 180L207.6 182L206.1 183L201.9 185L194 187.6L188 188.8L183 188.8L179 187.7L174 185.3L163.8 179L157 174.2L151.4 169L146.5 163L141.3 155L137.1 147L135.9 144L135.5 142L136.1 135L135.8 131L134.7 127L133 123.4L131 120.5L128.6 118L126 116.3L123 115.1L113 113L109 112.7L106 112.8L101.6 114L93 119.3L89 120.6L60 125.4L41 128.1L39 128.2L37 127.8L35 126.2L33.6 124L31.8 120L31 117L30.6 114L31.2 108L33.3 101L39.8 84L43.1 77L46.8 72L54.4 65L57 62L60 57.4L62.9 51L63.9 48L64.2 45L63.6 42L61.7 36L61.3 31L62.6 25L65.3 18L68 13L71 9.3L74 7.2ZM31 137L33 136.4L34 136.5L36 137.6L38 140.5L41.7 147L47 154.3L49 158L50.3 163L50.3 167L49 170.5L47.6 172L46 172.9L43 173.5L39 172.9L34 171.3L25 167.7L21 165.7L18.5 164L16.5 162L14.8 159L14.1 156L14.3 153L15.4 150L16.6 148L19.4 145L23 142.1L28 138.6ZM188.5 206L193 205.7L198 206.2L202 207.2L205.4 209L209 212.5L213 218L214 220L214.5 222L214 224.2L213 225.2L211 225.7L208 225L205.1 223L198 216.6L195 214.9L187 211.4L185.7 210L185.4 209L185.6 208L186.3 207Z"/>
<path fill="#00a887" d="M76.8 8L79 7.5L82 7.5L86 8.3L89 9.2L116 20.4L121 22.7L124 24.5L126.7 27L128.4 30L128.9 33L128.7 40L129.7 44L131.1 46L134 48.1L136 48.8L139 49.2L148 48.8L151 49L161 51.2L165 51.7L168 51.5L175 50.1L179 50.1L204 55.9L216 59.7L236.7 68L240 69.8L243.2 72L245.3 74L247.7 77L249.4 80L250.1 82L250.4 84L250.1 86L249.1 88L248.2 89L244.7 91L241 91.9L236 92.1L219 90.4L212 89.9L209 90.3L207.7 91L206.8 92L206.2 95L207.1 104L207.1 109L206.3 115L204.3 124L202.7 129L200.5 134L197 140.4L192.2 148L191.2 150L190.7 152L191.1 155L194.6 162L195.6 165L196.2 169L195.8 172L194.7 175L193.5 177L191.9 179L189 181.4L186 183L183 183.8L180 183.9L176 183L170 180.3L163 176.2L158.6 173L154.2 169L151.6 166L148.8 162L145.2 155L142.8 148L138 131L135.1 124L133 120.5L130.2 117L128 115.2L125.5 114L121 112.8L114 111.6L109 111.3L105 111.5L100 112.9L92 117.1L86 119.2L65 123.6L50 125.6L44 125.9L40 125.5L37 124.1L34.4 121L33.4 119L32.5 116L32.3 111L33.6 105L36.4 97L41.4 84L44.9 77L48.9 72L55.6 66L58.5 63L61.5 59L64.1 54L66 49L66.4 46L66 43L63.8 37L63.1 34L63 31L63.7 27L66.2 20L69.3 14L71 11.8L72.9 10L75 8.7ZM27.6 143L31 142.1L33 142.4L34 142.9L36 144.6L43.5 154L45.7 158L46.8 162L46.8 164L46.4 166L45 168.2L43 169.2L41 169.4L38 168.9L34.8 168L27.2 165L23.2 163L20.5 161L19 159.2L18.1 157L17.8 155L18 153L18.8 151L20 149L22 146.8L25 144.5Z"/>
<path fill="#00a9a6" d="M78.7 9L83 9L89 10.6L116 21.8L120 23.7L123 25.5L125.6 28L127.2 31L127.7 34L127.8 41L129 45L131 47.8L134 49.7L139 50.8L147 50.7L150.5 51L166 54.9L170 55.1L177 54.6L181 54.8L206 59L217 62.5L234 69.3L237.4 71L240.4 73L242.5 75L244.1 77L245.2 79L245.8 81L245.9 83L245.4 85L244.1 87L243 87.9L240 89.2L236 89.8L232 89.8L209 87.4L206 87.8L204.4 89L203.8 91L203.8 93L205.6 102L206 107L205.6 112L204.6 117L201.9 127L198.6 134L195 139.8L187.1 149L184.8 153L184.6 156L188.8 164L189.6 168L189.2 171L188.3 173L186.9 175L184 177.4L181 178.7L178 179.1L175 178.8L172 177.9L167.8 176L162.8 173L159 170L156 167L152 161L148 152.9L140 131.7L136 122.9L134 119.4L131.5 116L129.3 114L127 112.7L122 111.4L114 110.3L108 110L104 110.4L99 111.8L89 116.5L80 119.3L66 122.5L53 124.4L46 124.7L42 124.3L40 123.7L38 122.6L35.6 120L34.6 118L33.7 115L33.5 112L33.8 109L35.5 103L41.5 87L44.5 80L47 76L50 72.6L60.6 63L63.7 59L65.9 55L67.9 50L68.5 46L67.9 43L65.4 37L64.6 34L64.5 30L65.3 26L68 19L71 13.9L73 11.7L75 10.3ZM27.7 148L30 147.6L32 148.2L34.3 150L38 153.9L40 156.8L40.8 159L40.9 161L40 162.7L39 163.2L37 163.4L33 162.4L27.3 160L25.7 159L24 157.4L22.9 155L23 153.2L23.4 152L25 149.8Z"/>
<path fill="#02a8c0" d="M76.3 11L79 10.2L81 10L84 10.3L88 11.4L115 22.5L119 24.4L122 26.3L124.8 29L126.3 32L126.6 34L127.1 42L128.2 46L129.4 48L131 49.8L134 51.5L139 52.6L147 52.8L150 53.2L164 57.5L170 58.8L179 59.7L188 61.1L200 61L208 62.2L217.2 65L232.2 71L237.5 74L239.7 76L241 77.7L242.2 81L242 83L241.6 84L239.7 86L236 87.3L231 87.5L224 86.9L216 85.9L205 83.9L202.9 84L202 84.3L201 85.3L200.5 87L200.6 89L204.1 100L205 106L204.5 112L202.4 121L199.7 129L196 135.4L192 140.4L180.6 152L178.3 155L177.1 157L176.8 159L177 160L180.3 165L181 167L180.8 169L180.3 170L178 172L176 172.6L174 172.7L170 171.8L164.9 169L161 165.3L156.4 159L152 153.7L149 149.1L139 126.3L134 117.1L131 113.4L129 112L127 111.1L122 109.9L114 109L108 108.8L104 109.2L99 110.5L88 115.4L78 118.8L66 121.7L54 123.5L48 123.7L43 123.2L41 122.6L39 121.5L36.5 119L35.5 117L34.7 114L34.6 111L35.3 107L39.5 95L45.2 81L47.6 77L50.1 74L60.4 65L64.4 61L67.3 57L69.7 52L70.5 49L70.6 46L69.7 43L67.2 38L66.1 35L65.6 32L65.8 29L67.5 23L70.3 17L73 13.4Z"/>
<path fill="#08a6d5" d="M76.8 12L79 11.3L82 11.1L85 11.5L88 12.4L115 23.6L121.2 27L123.4 29L125.1 32L125.7 35L126.3 43L127.8 48L130 51.4L133 53.7L135 54.5L138 55.2L147 55.9L150 56.5L165 61.7L180 64.9L184 66.4L188 68.5L191.7 71L193.8 73L194.7 75L195 82L195.7 85L201.4 96L203.5 102L204 107L203.3 113L199.7 126L198 129.8L196 133.1L193 136.9L190 140L181 148.4L176 152.4L173 154.2L170 155.5L165 156.2L162 155.9L159 155L156 153.5L154 151.9L151.3 149L149 145.3L140 126L134 114.9L131 111.6L129 110.4L126 109.4L120 108.4L113 107.8L107 107.8L103 108.2L98 109.7L87 114.6L76 118.4L66 120.8L55 122.6L48 122.8L43 122.1L40 120.8L37.2 118L36.2 116L35.6 113L35.7 110L36.2 107L37.8 102L42.4 90L46.8 80L49 76.6L52 73.4L63.4 64L67.8 60L70.4 57L72.6 53L73.4 50L73.2 47L72 44L67.6 36L66.8 33L66.8 30L67.3 27L68.2 24L70.9 18L73.9 14ZM200.2 66L204 65.1L210 65.6L218 68L228.2 72L234 75L236.4 77L237.1 78L238 80L237.7 82L237 83.1L235 84.3L232 84.9L229 85L217 83.7L213 82.7L208.2 81L204.4 79L201.4 77L198.9 75L197.3 73L196.9 71L197.4 69L198.8 67Z"/>
<path fill="#0d9ddd" d="M77.2 13L79 12.3L82 12.1L85 12.5L89 13.7L115 24.7L119 26.8L121 28.2L123 30.2L124.4 33L125.8 45L126.8 49L128 52L130 55.8L133 59.8L135 61.7L138.4 64L147.6 68L161 72.3L166 72.9L168 72.4L173 70.1L177 69.8L179 70.2L182 71.3L184.4 73L186 74.7L187.3 77L189.3 82L190.5 84L197 91.7L200.5 97L201.8 100L202.7 103L203.1 106L203 109L202.4 113L199.6 123L198.2 127L196.7 130L194 133.7L191 137L179 147.9L176 149.9L173 151.5L170 152.5L167 153.1L164 153.1L160 152.5L157 151.3L155 150.1L152 147.1L149.3 143L139 121.9L134.1 113L130.9 110L128.9 109L125.4 108L120 107.2L113 106.7L107 106.7L103 107.2L98 108.6L85 114.3L76 117.5L67 119.9L57 121.6L50 122L45 121.6L41 120.1L38.5 118L37.3 116L36.6 113L36.6 110L37.4 106L44.8 86L46.6 82L49 78L53 73.6L61 67.3L71 60.4L81.1 55L82.4 54L83 53L82.9 52L82.3 51L77 46.8L72 41.1L69.3 37L67.9 33L67.7 31L68.1 28L68.9 25L70.5 21L73.5 16L75 14.4ZM208.2 71L210 70.4L213 70.4L216 71.1L221.6 73L226 75L229.2 77L230.2 78L230.6 79L230.3 80L228 81L223 81.1L217 80.2L213.3 79L210 77L208.2 75L207.4 73L207.5 72Z"/>
<path fill="#128dd8" d="M77.4 14L80 13.2L82 13L85 13.4L89 14.6L115 25.7L119 27.9L121 29.5L122.9 32L123.7 34L125.2 47L127 56L127.9 59L130 63L131.7 65L134.1 67L137.6 69L142 71L156 76L166.2 79L178 81.4L182 82.6L186 84.8L191 88.3L195 91.7L197.9 95L199.8 98L201.2 101L202 104L202.2 107L201.5 113L198 125L196 129.2L193 133.2L180 145.3L177 147.5L174 149.1L171 150.2L168 150.9L165 151.1L161 150.6L158 149.7L156 148.6L153 146L149.5 141L137 115.9L134.7 112L133 110.1L131 108.7L126 107L120 106.1L113 105.7L107 105.8L103 106.2L97 108L85 113.3L76 116.7L67 119.1L57 120.9L50 121.2L45 120.7L43 120L41 119L39 117L37.9 115L37.4 112L37.5 109L38.5 105L46.1 85L48.7 80L50.8 77L56 72.1L65 65.9L72 62.4L81.6 60L85 58.8L88 56.5L89.4 54L89.5 51L89 49.6L87.8 48L85 46.3L79 44.4L76 42.8L71.9 39L70 36.1L69.2 34L68.8 32L68.8 29L70.6 23L72 19.9L73.9 17L75.8 15Z"/>
<path fill="#187dd3" d="M80.8 14L83 14L86 14.5L92 16.6L114 26.2L117.4 28L120.1 30L122.3 33L123.2 36L124.9 55L126 60L127 62.3L128.8 65L130.6 67L133 68.9L139 72L149.3 76L161.6 80L179 84.7L184 86.5L188 88.5L192 91.1L195 93.6L198 97L199.3 99L200.5 102L201.2 105L201.4 108L200.6 113L197 125L195 129L192 132.8L179 144.6L176 146.5L173 147.9L170 148.8L167 149.3L164 149.3L161 148.9L158 147.9L156 146.8L153 144.1L149.5 139L137 114L135.2 111L134 109.6L132 108L129.8 107L126 106L120 105.1L113 104.7L107 104.8L102 105.5L97 107L84 112.8L75 116.2L66 118.6L57 120.2L51 120.5L46 120L42.9 119L41.3 118L40 116.8L38.9 115L38.2 112L38.4 109L39.3 105L47 85L49 80.9L51.8 77L54.9 74L58 71.5L63 68.2L67 66.1L72 64.2L82.5 62L87 60.3L89.8 58L91.6 55L92.1 53L92 51L91.4 49L90 46.8L87 44.6L79 42.4L75 40.3L71.8 37L70.6 35L69.9 33L69.7 30L70.2 27L71.5 23L73 20L74.3 18L76.1 16L78 14.8Z"/>
<path fill="#1f6cc9" d="M80.5 15L83 14.9L85 15.1L91 17L113.6 27L117.3 29L119.8 31L121.7 34L122.5 37L123.5 55L124.4 60L125.6 63L127 65.3L129.4 68L131.9 70L137.4 73L147.5 77L162.9 82L179 86.5L184 88.3L188 90.2L192 92.7L195 95.1L197 97.3L198.7 100L199.6 102L200.4 105L200.5 108L199.7 113L196.1 125L194.6 128L192 131.4L179 143.2L176 145.2L173 146.5L170 147.4L167 147.8L164 147.8L161 147.3L158 146.3L156 145.1L153 142.4L149.3 137L138 113.9L135.7 110L134 108.2L132 106.8L130 106L126.1 105L120 104.2L113 103.8L107 103.9L102 104.6L96 106.5L83 112.3L75 115.4L67 117.6L58 119.3L52 119.8L47 119.4L43 118.1L40.6 116L39.5 114L39 111L39.3 108L40.1 105L47.8 85L50 80.7L52.8 77L56 74L59 71.8L63 69.3L67 67.3L72 65.6L83 63.5L87.2 62L89 60.9L91 59.1L93 56L93.8 53L93.8 51L92.8 48L91 45.4L89.3 44L87 42.9L79 40.8L76 39.5L73 36.8L71.8 35L71 33L70.6 31L70.9 28L71.7 25L73.4 21L75 18.5L76.4 17L78 15.9Z"/>
<path fill="#285bbc" d="M80.3 16L82 15.7L85 16L91 17.9L113 27.7L117 29.9L119 31.6L120.7 34L121.8 38L122.3 45L122.2 55L123 60L124.2 63L126 66.1L128 68.5L131 71L136.5 74L146.5 78L161.8 83L178 87.6L184 89.8L191 93.3L194 95.6L196.3 98L198 100.6L199 103L199.5 105L199.7 108L199.1 112L195.6 124L194.2 127L192 130.1L180 141.2L177 143.4L174 144.9L171 145.9L168 146.4L164 146.4L161 145.9L158 144.9L156 143.7L153 140.8L149.7 136L146.5 130L138.1 112L136.2 109L134.1 107L132.5 106L130 105L126 104L120 103.2L113 102.9L107 103L102 103.7L96 105.6L83 111.5L74 114.9L66.6 117L58 118.6L53 119.1L48 118.8L44 117.6L41.8 116L40.5 114L39.8 111L40.1 108L40.9 105L48.6 85L50.7 81L53 77.9L56 75L59 72.7L66 68.8L72 66.8L84 64.5L88 63.1L90 61.9L92 60L93.5 58L94.5 56L95.2 53L95 50L93.8 47L92 44.5L90 42.8L88 41.8L80 39.8L77 38.7L74 36.4L73 35L72 33L71.6 31L71.8 28L72.6 25L73.9 22L75 20L76.7 18L78 17Z"/>
<path fill="#3049ae" d="M80.3 17L82 16.7L85 16.8L91 18.7L112 28.2L115.4 30L118 32L120.1 35L121.1 39L121.4 45L121.1 55L122 60.6L123.4 64L125.2 67L127 69.1L130 71.7L136 75L146 79L161.2 84L177 88.6L185 91.5L191.6 95L194 96.9L195.9 99L198.1 103L198.6 105L198.9 108L198.2 112L194.8 124L193.3 127L191 129.9L179 140.8L174 143.8L171 144.7L168 145.1L164 145.1L161 144.6L158 143.5L156 142.3L152.6 139L149.4 134L138.6 111L137 108.4L135 106.4L133 105.2L130 104L127 103.3L121 102.4L114 102L107 102.2L102 102.9L96 104.7L82 111L74 114.1L67 116.2L58 117.9L53 118.3L48 118L44.7 117L42.1 115L41.1 113L40.7 111L40.9 108L41.9 104L49.4 85L51.5 81L53.9 78L59 73.6L62 71.7L66 69.8L72 67.9L84 65.7L88.8 64L91 62.6L93 60.7L94.9 58L95.8 56L96.5 53L96.3 50L95.2 47L93 43.8L91 42L89 40.9L86 39.9L80 38.6L77 37.4L75 35.9L73.1 33L72.6 31L72.6 29L73 26.6L74 23.7L75.5 21L77 19L78.2 18Z"/>
<path fill="#36399e" d="M80.5 18L83 17.6L85 17.7L91 19.6L111.6 29L115.1 31L117.5 33L119.4 36L120.3 40L120.5 45L120.1 55L120.3 58L121 61L122.2 64L124 67.2L126.4 70L129 72.3L135.6 76L145.6 80L158 84.1L177 89.7L184 92.2L188 94L191 95.8L195 99.4L197.2 103L197.8 105L198 108L197.3 112L193.9 124L192.3 127L190 129.8L179 139.7L177 141.1L174 142.7L171 143.6L168 144L164 143.9L161 143.4L158 142.3L156 141.1L153 138.1L149.7 133L139.7 111L138 108L136.1 106L134 104.6L131 103.4L127 102.4L121 101.5L114 101.1L107 101.3L102 102L96 103.8L82.4 110L74 113.3L67 115.4L59 117L53 117.6L49 117.4L45 116.1L43 114.5L42 112.9L41.5 110L41.9 107L42.7 104L50 85.4L52.4 81L54.9 78L60 73.9L63 72.1L67 70.4L72 69L84 66.8L89 65.1L91 64L93.3 62L95 59.9L96.6 57L97.6 53L97.4 50L96 46.1L93.8 43L91.5 41L89 39.7L81 37.7L78 36.7L75.7 35L74.3 33L73.7 31L73.6 29L73.9 27L74.9 24L76 21.8L77.4 20L79 18.7Z"/>
<path fill="#3b298f" d="M80.7 19L83 18.5L85 18.6L91 20.5L111.4 30L114.8 32L117 33.9L118.8 37L119.6 41L119.7 45L119 55L119.3 58L119.9 61L121.5 65L123.3 68L125.9 71L128.3 73L134 76.4L144 80.5L158 85.2L177 90.8L184 93.3L190 96.3L192.3 98L194.3 100L195.7 102L196.5 104L197.1 108L196.7 111L193.5 123L192 126L190 128.6L179 138.6L177 140.1L174 141.7L171 142.6L168 142.9L164 142.8L161 142.3L158 141.1L156 139.9L153 136.9L150 132.1L140.3 110L138.6 107L136.5 105L134 103.5L131 102.4L127 101.5L120 100.5L113 100.2L106 100.5L101 101.3L95 103.3L82.6 109L74 112.5L67 114.6L59 116.3L53 116.8L49 116.5L46 115.6L43.8 114L42.7 112L42.4 110L42.7 107L43.5 104L50.6 86L52.7 82L55 79L57.1 77L60 74.8L66 71.7L72 70L85 67.7L90 65.8L92.7 64L94.7 62L96.2 60L97.7 57L98.7 53L98.3 49L96.6 45L94.3 42L92 40L89 38.5L79 35.9L76.3 34L75.1 32L74.6 30L74.7 28L75.9 24L78 20.8Z"/>
<path fill="#3b2385" d="M81.2 20L83 19.6L85 19.6L90 21L111 30.9L114 32.7L116 34.5L117.6 37L118.6 41L118.7 45L118 55L118.2 58L118.8 61L120.4 65L122.1 68L125 71.6L128 74.1L134 77.5L144 81.6L156 85.6L175 91.2L183 94L189 96.9L193 100L195 102.8L195.9 105L196.2 107L196 109.9L192.7 123L191.1 126L189 128.5L178.3 138L174 140.7L171 141.6L167 141.9L163 141.6L159 140.5L157 139.5L155 137.9L153 135.6L151.3 133L144 116.6L141.1 109L139 105.8L136 103.4L132.8 102L128 100.7L121 99.7L115 99.3L109 99.4L104 99.8L100 100.6L94 102.7L82.8 108L75 111.3L68 113.6L61 115.1L55 115.9L51 115.9L47 115L45 113.7L43.8 112L43.4 110L43.6 107L44.4 104L51 87L53 83L56 79.1L58.3 77L61 75.2L67 72.3L72 71L85 68.7L90 67L93 65.1L95.2 63L97.4 60L98.9 57L99.8 53L99.4 49L97.8 45L95 41.1L93 39.4L90 37.7L79.8 35L78 33.9L76.4 32L75.7 29L75.9 27L76.6 25L78.4 22L80 20.6Z"/>
<path fill="#3b2080" d="M81.9 21L85 20.7L90 22.1L109 31.1L112.4 33L115 35.1L116.9 38L117.6 41L117.8 45L117 55L117.3 59L118 62L119.7 66L121.5 69L124 72L127 74.7L133 78.1L143 82.3L155 86.4L174 92L182.7 95L188 97.5L192 100.4L193.3 102L194.5 104L195 106L195.1 109L192.2 122L190.8 125L189 127.3L178 137.1L174 139.7L171 140.6L167 140.9L163 140.6L159 139.5L157 138.4L155 136.7L153 134.2L151.7 132L144.9 116L142.4 109L141.5 107L140 105L137 102.7L133 101L127 99.6L120 98.6L109 98.4L104 98.9L100 99.6L94 101.7L82.9 107L74 110.7L68 112.7L62 114.1L56.2 115L52 115.1L48 114.3L45.8 113L44.6 111L44.3 109L45.3 104L52 86.8L54 83L57 79.3L61.3 76L67 73.4L72.1 72L85 69.8L88 68.9L91 67.7L93.6 66L96 63.7L98 61L99.6 58L100.8 54L100.7 50L99 45L96.4 41L94 38.7L91 36.9L88 35.9L82 34.5L80 33.7L78 32.1L77.4 31L77 28L77.8 25L80 22.1Z"/>
<path fill="#3b2080" d="M83.3 22L85 21.9L87 22.2L91.8 24L108.3 32L111.7 34L114.1 36L116 39L116.6 42L116.7 45L115.8 55L116.2 59L116.9 62L118.5 66L120.9 70L123.4 73L126 75.3L129 77.3L133 79.3L143 83.4L155 87.5L173.5 93L182.3 96L187 98.1L191 101L192.7 103L193.6 105L194.1 107L194.1 109L191.4 122L190 124.7L188.1 127L182 132L177 136.7L173 139L170 139.8L166 139.9L162 139.4L159 138.4L157 137.3L155 135.5L152 131L145.8 115L143.6 108L141.8 105L139 102.6L134 100.2L128 98.7L121 97.7L110 97.3L105 97.7L100 98.6L94 100.6L80.5 107L73.3 110L67 112L62 113.2L56.9 114L52 114.1L49 113.5L46.6 112L45.6 110L45.5 108L46 105L47 102L53 86.9L55.2 83L57.7 80L62 76.7L67 74.4L72.6 73L86 70.7L91 68.9L94 67.1L96.3 65L98.7 62L100.9 58L102 54L101.9 50L100.3 45L97.9 41L96 38.9L93 36.6L90 35.2L82 33.2L80 32L79 30.9L78.4 28L79 25.6L79.9 24L81 23Z"/>
<path fill="#62bb46" d="M137 37L138 36.6L140 36.5L142 37.6L142.9 39L142.8 40L142.2 41L140.5 42L139 42.2L137.6 42L136 41L135.6 40L135.6 39L136 37.9ZM219.1 102L223 101.4L228 102.1L232.1 104L235 106.8L236.4 110L236.5 112L236.3 114L235 117.2L232.5 120L229 121.7L225 122.2L221 121.4L219 120.1L218 119L216.9 117L216 114L215.8 108L216.1 106L216.9 104L217.6 103ZM107.3 120L109 119.4L112 119.3L115.3 120L120 121.7L122.2 123L124.3 125L124.9 127L124.6 128L123.9 129L122.4 130L118 131.2L113 131.2L109 130.2L107.1 129L106.2 128L105.1 125L105.5 122L106.1 121ZM71.9 127L79 126.4L85 126.8L99 130.8L104 132.7L106 134.2L116.2 144L135 159.5L150.8 175L155.9 179L165 185.4L169.3 189L172 192L173.2 194L173.9 196L174.1 198L172 217L170.7 221L169 223.5L167 225.1L165 226.2L160 227.3L155 227.2L148 225.6L139 222.5L72 196.7L63 192.4L58.4 189L56.1 186L55.3 183L55.5 180L57.3 173L58.2 168L58.3 164L58 161L57 158.2L55.8 156L50 148L48.3 145L47.2 141L47.6 137L48.3 135L49.9 133L53.2 131L60.9 129Z"/>
<path fill="#96c937" d="M75 128L81 127.9L87 129L96 132.4L102 135.7L107 139.4L127 155.3L136 162.9L149.9 176L163.5 186L168.1 190L170.4 193L171.4 195L171.8 197L171.9 200L169.8 215L168.7 218L166.4 221L163 223.1L161 223.8L158 224.1L153 223.8L147 222.3L74 194.4L66 190.6L61.4 187L59.4 184L58.7 182L58.5 180L60.3 166L60.4 163L60 160L58 155.5L52.5 148L50.7 145L49.8 142L49.9 139L50.6 137L51.9 135L54 133.2L56 132.2L65 129.7Z"/>
<path fill="#c2d723" d="M71 130L78 129.3L84 129.9L91 132.2L99 136.3L105 140.3L120 151.7L134 163.4L149.1 177L165.1 189L167.8 192L169 194L169.7 196L170.1 199L169.4 206L168.2 213L167 216.1L165 218.8L163.5 220L161.5 221L157 221.9L152 221.4L146 219.8L75 192.6L68 189.2L64 186.2L61.7 183L60.7 179L60.9 175L62.2 165L62.2 162L61.8 159L61 156.8L59.5 154L53.9 146L52.7 143L52.6 141L53 139L54 137.1L55 136L57 134.5L63.1 132Z"/>
<path fill="#e7e508" d="M74.1 131L80 130.8L86 131.9L93 134.8L100 138.9L119 152.8L134 165.4L148 177.8L160.6 187L164.1 190L166 192.1L167.6 195L168.2 197L168.4 200L167.8 206L166.9 211L165.8 214L164 216.8L161 218.9L157 219.9L152 219.6L147 218.4L77 191.6L70 188.4L66 185.4L63.5 182L62.5 178L62.6 174L63.9 164L63.9 161L63.4 158L61.9 154L56.5 145L55.9 143L55.9 141L56.7 139L57.5 138L59 136.6L61.5 135L68 132.4Z"/>
<path fill="#f6db00" d="M71.9 133L78 132.2L84 132.8L91 135.4L98 139.4L107 145.6L117 153L147 178.7L162.1 190L164.1 192L165.4 194L166.3 196L166.8 199L166.6 204L165.7 209L164.8 212L163 215L160.5 217L157 218.1L153 218.1L147 216.8L85 193.3L73 188.2L68 185L65.5 182L64.4 179L64.1 175L65.5 164L65.4 159L64.1 154L59.9 145L59.7 142L61.1 139L63.2 137L67 134.8Z"/>
<path fill="#fcc501" d="M75 134L80 133.7L83 134.1L86 134.9L92 137.5L99 141.7L116 153.9L145.2 179L161 190.8L163 193L164.2 195L164.9 197L165.3 200L165 204.2L164.1 209L162.9 212L161.4 214L159 215.7L157 216.4L155 216.6L151 216.3L146 215L87 192.7L74 187.1L69.2 184L66.8 181L66 179L65.6 177L65.6 173L67.1 163L67.1 159L66.4 155L63.4 146L63.2 143L64.3 140L67 137.3L71 135.1Z"/>
<path fill="#f8a60b" d="M73.9 136L79 135.2L84 135.9L90 138.1L97 142.1L107 148.9L115 154.8L144 180L159 191L161 193L162.4 195L163.2 197L163.6 199L163.6 203L163 206.7L162 209.8L160.7 212L158 214.2L155 215L151 214.8L146 213.5L89 192.2L75 186.1L70.4 183L68.1 180L67 176L67.2 172L68.5 164L68.8 160L68.2 155L66.3 147L66.2 144L67.1 141L68.6 139L71 137.3Z"/>
<path fill="#f48714" d="M78.1 137L83 137.3L89 139.3L95.7 143L104.7 149L116.7 158L144 182.1L158 192.3L159.7 194L161 196L162 200L162 203L161.2 207L160.4 209L159 211.1L157 212.6L154 213.4L150 213.1L146 212L116 200.7L90 191.4L76.1 185L71.6 182L69.4 179L68.8 177L68.5 175L68.6 172L70.1 164L70.4 160L70.2 156L68.7 148L68.7 145L69.5 142L71 140L74.1 138Z"/>
<path fill="#ef6c12" d="M77.9 139L80 138.8L83 139.1L88 140.6L94.3 144L104.9 151L111.9 156L116.8 160L143 183.7L157 193.8L159.3 197L160 199L160.2 201L160 204L159.6 206L158 209.1L156 210.8L153 211.6L149 211.2L145 210.1L117 199.5L91 190.5L77.4 184L73 181L70.9 178L70.1 175L70.2 172L71.7 164L72.2 160L72 156L71.1 149L71.1 146L71.9 143L73 141.5L75 140Z"/>
<path fill="#ea5310" d="M79.9 141L82 141L85 141.6L90 143.7L97.3 148L109 156L118.8 164L144 187.5L148 190.6L155 195.1L157.3 198L158.1 201L157.6 205L156 207.8L154 209.1L152 209.5L149 209.3L144.3 208L118 198.1L103 193.6L92 189.7L84.2 186L77.2 182L75 180.4L73 178L72.2 176L71.9 174L72.2 171L73.6 164L74.1 160L73.4 150L73.5 147L74 145L75.3 143L77 141.8Z"/>
<path fill="#e74e0f" d="M79.8 144L82 143.7L84 143.9L87 144.8L90 146.2L104 155L113.5 162L125.4 173L144 191.7L147 194L152 196.8L153.5 198L154.8 200L155.2 202L154.8 204L154 205.4L153 206.2L151 206.8L147 206.4L136.8 203L119 196.4L106 193.2L98 190.7L93 188.9L88.7 187L83.6 184L77.8 180L75.1 177L74.4 175L74.2 173L76.4 161L76.5 157L76.2 151L76.4 148L77 146.3L78 145Z"/>
<path fill="#e4490e" d="M83 148L85 148L87 148.6L92 151L105.9 160L115 167L125.5 177L133.7 186L136.9 190L140.3 195L141.8 198L141.8 199L140 199.6L136 199.2L120 194L108 192.3L101 190.5L94 188.1L90 186.3L86.2 184L82.5 181L78.7 177L77.7 175L77.3 173L77.6 170L79.5 162L80.2 151L81.1 149Z"/>
<path fill="#d64415" d="M89.6 162L91 161.7L93 161.9L99 163.8L107 167.3L112 170.5L116.5 175L120.4 181L121.3 183L121.7 185L121.6 186L121 187L118.4 189L116 190L112 190.8L108 190.7L102 189.4L95 187.2L90.3 185L87.4 183L85.3 181L83.1 178L81.9 175L81.7 173L82.4 170L84 167.1L87 163.5Z"/>
<path fill="#c6401d" d="M89.1 170L91 169.4L93 169.1L98 169.6L105 171.5L109 173.8L112.1 177L114 181L114.4 184L113.9 186L113.3 187L112 188L110 188.7L108 188.9L105 188.6L101 187.7L95.5 186L93 184.9L90 183.1L87.1 180L86.1 178L85.6 176L85.8 174L86.7 172Z"/>
<path fill="#b23c24" d="M91.5 173L94 172.4L98 172.7L103 174L106 175.4L108 177L110.1 180L110.8 183L110.2 185L109.2 186L108 186.6L106 186.8L104 186.7L97.2 185L92.9 183L90.5 181L88.9 178L88.8 176L89.2 175L90 173.9Z"/>
<path fill="#a83a28" d="M94.1 176L96 175.6L98 175.7L103 177.2L105 178.5L106.2 180L106.8 182L106.5 183L105 184L102 184.1L98 183.1L95.5 182L94 180.9L92.6 179L92.5 178L92.8 177Z"/>
</g>
<path d="M82.1 17.9L124.7 42L153.1 50.9L172.7 58L188.7 72.2L202.9 86.4L208.2 106L204.3 121.6L197.9 135.8L195.4 144.7L196.1 155L222.1 163.2L223.8 187L215.7 194.1L186.5 194.1L165.2 189.9L151 197.7L145.3 201.2" stroke="#fff" stroke-width="1.9" fill="none" stroke-linejoin="round"/>
<path d="M20.9 152.2L43.7 98.2" stroke="#fff" stroke-width="1.9" fill="none" stroke-linejoin="round"/>
<path d="M52.8 87.3L89.2 105.1M45.6 100.7L64.3 111.3L82.1 121.4L96.3 129.5L114 137.5L135.4 145.5L151 151.3L151 152.6L177.6 159.7L204.3 163.3L225.6 165L238.1 165.6M96.3 87.3L101.6 91.8L117.6 98.9L138.9 109.5L151 114.9L160.8 121.5L184.8 133.9L194.5 138.4L204.3 144.6L222.1 157L236.3 165.9L245.2 171.6M139.8 38.5L151 50.9L151 51.3L159.9 58L168.8 63.7L177.6 67.8L186.5 71L204.3 77.6L222.1 83.8L239.8 90L257.6 98L275.4 106M21.7 150.8L46.5 142.8L64.3 136.6L78.5 136.6L110.5 138.4L138.9 137.1M78.5 137.1L87.4 141L99.8 151.7L110.5 159.7L121.2 167.7L135.4 178.4L151 187.2L165.2 192.6L181.2 200.6L193.6 208.6L204.3 212.1L214.1 214.8L222.1 222.8M189.2 139.6L199 137.1L206.1 134.6L213.2 131.4" stroke="#111" stroke-width="1.1" fill="none" stroke-linejoin="round"/>
<g fill="#111"><circle cx="95" cy="103.1" r="1.6"/><circle cx="89.2" cy="102.1" r="1.6"/><circle cx="93" cy="97.2" r="1.6"/><circle cx="105.3" cy="98.8" r="1.6"/><circle cx="94.3" cy="101" r="1.6"/><circle cx="100.9" cy="98.1" r="1.6"/><circle cx="97.8" cy="94.4" r="1.6"/><circle cx="92.4" cy="96.5" r="1.6"/><circle cx="86.9" cy="92.3" r="1.6"/><circle cx="85.3" cy="97.2" r="1.6"/><circle cx="93.5" cy="96.9" r="1.6"/><circle cx="94.9" cy="93" r="1.6"/><circle cx="94.1" cy="99.1" r="1.6"/><circle cx="98.8" cy="94.9" r="1.6"/><circle cx="92.2" cy="90.3" r="1.6"/><circle cx="91.6" cy="89.6" r="1.6"/><circle cx="86.4" cy="102.5" r="1.6"/><circle cx="82" cy="101.3" r="1.6"/><circle cx="96.4" cy="97" r="1.6"/><circle cx="97.1" cy="100.2" r="1.6"/><circle cx="100.4" cy="97.3" r="1.6"/><circle cx="91.1" cy="95.8" r="1.6"/><circle cx="88.9" cy="98" r="1.6"/><circle cx="90" cy="102.4" r="1.6"/><circle cx="83.9" cy="93.9" r="1.6"/><circle cx="89.1" cy="90" r="1.6"/><circle cx="105.3" cy="88.8" r="1.6"/><circle cx="92.9" cy="96.1" r="1.6"/><circle cx="103.9" cy="90.4" r="1.6"/><circle cx="100.6" cy="95.3" r="1.6"/><circle cx="161.1" cy="122.1" r="1.6"/><circle cx="149.4" cy="114.1" r="1.6"/><circle cx="163.9" cy="120.6" r="1.6"/><circle cx="157.1" cy="119" r="1.6"/><circle cx="151.9" cy="115.2" r="1.6"/><circle cx="145.4" cy="114.8" r="1.6"/><circle cx="163.6" cy="123.5" r="1.6"/><circle cx="168.2" cy="123.3" r="1.6"/><circle cx="147.2" cy="114.1" r="1.6"/><circle cx="163.4" cy="121.9" r="1.6"/><circle cx="154.5" cy="117.8" r="1.6"/><circle cx="149.9" cy="114.7" r="1.6"/><circle cx="151.6" cy="116.9" r="1.6"/><circle cx="161.5" cy="120.7" r="1.6"/><circle cx="165.9" cy="122.5" r="1.6"/><circle cx="146.4" cy="112.2" r="1.6"/><circle cx="158.6" cy="119.9" r="1.6"/><circle cx="144.9" cy="113.9" r="1.6"/><circle cx="161.5" cy="119.5" r="1.6"/><circle cx="153" cy="116.5" r="1.6"/><circle cx="165.2" cy="122.1" r="1.6"/><circle cx="167.5" cy="124.2" r="1.6"/><circle cx="115.3" cy="107.7" r="1.6"/><circle cx="116.9" cy="103.2" r="1.6"/><circle cx="166.7" cy="130.7" r="1.6"/><circle cx="188.3" cy="138" r="1.6"/><circle cx="135" cy="115.9" r="1.6"/><circle cx="146.7" cy="122" r="1.6"/><circle cx="159.9" cy="126.3" r="1.6"/><circle cx="138" cy="114.2" r="1.6"/><circle cx="140.4" cy="115.4" r="1.6"/><circle cx="135.2" cy="115.9" r="1.6"/><circle cx="140.5" cy="119.3" r="1.6"/><circle cx="156.2" cy="128" r="1.6"/><circle cx="137.4" cy="117.6" r="1.6"/><circle cx="144.2" cy="120.2" r="1.6"/><circle cx="172.1" cy="128.5" r="1.6"/><circle cx="117.3" cy="103.1" r="1.6"/><circle cx="155.5" cy="125.5" r="1.6"/><circle cx="169" cy="129.8" r="1.6"/><circle cx="139.4" cy="115.9" r="1.6"/><circle cx="129.9" cy="110.5" r="1.6"/><circle cx="175.8" cy="132.6" r="1.6"/><circle cx="133.3" cy="111.7" r="1.6"/><circle cx="126.5" cy="111.1" r="1.6"/><circle cx="148.1" cy="117.6" r="1.6"/><circle cx="167.6" cy="131.7" r="1.6"/><circle cx="123.2" cy="109.9" r="1.6"/><circle cx="135.6" cy="116.5" r="1.6"/><circle cx="140.8" cy="113.2" r="1.6"/><circle cx="175.1" cy="132.4" r="1.6"/><circle cx="146.9" cy="119.3" r="1.6"/><circle cx="177.8" cy="136.4" r="1.6"/><circle cx="124.2" cy="107.4" r="1.6"/><circle cx="137.3" cy="113.8" r="1.6"/><circle cx="160.4" cy="130.4" r="1.6"/><circle cx="181.8" cy="133" r="1.6"/><circle cx="147.7" cy="119.1" r="1.6"/><circle cx="129.9" cy="111.3" r="1.6"/><circle cx="123.8" cy="109.1" r="1.6"/><circle cx="152.9" cy="121.1" r="1.6"/><circle cx="127.4" cy="108.6" r="1.6"/><circle cx="174.5" cy="134.3" r="1.6"/><circle cx="176" cy="131.3" r="1.6"/><circle cx="126.1" cy="109.9" r="1.6"/><circle cx="135.4" cy="115.9" r="1.6"/><circle cx="173.7" cy="134.8" r="1.6"/><circle cx="162.6" cy="126.6" r="1.6"/><circle cx="173.6" cy="132.8" r="1.6"/><circle cx="140.8" cy="116" r="1.6"/><circle cx="124.7" cy="108.6" r="1.6"/><circle cx="134.6" cy="114.8" r="1.6"/><circle cx="174.3" cy="129.7" r="1.6"/><circle cx="133.9" cy="113.4" r="1.6"/><circle cx="141.8" cy="119.3" r="1.6"/><circle cx="144.5" cy="121.6" r="1.6"/><circle cx="146.8" cy="117.6" r="1.6"/><circle cx="45.8" cy="48.1" r="1.6"/><circle cx="164.5" cy="26" r="1.6"/><circle cx="226.3" cy="123" r="1.6"/><circle cx="170.9" cy="102.4" r="1.6"/><circle cx="175.9" cy="156.1" r="1.6"/><circle cx="199.7" cy="138.3" r="1.6"/><circle cx="202.5" cy="140.1" r="1.6"/><circle cx="205" cy="143.7" r="1.6"/><circle cx="201.5" cy="146.1" r="1.6"/><circle cx="199" cy="147.9" r="1.6"/><circle cx="201.5" cy="149.7" r="1.6"/><circle cx="207.9" cy="149" r="1.6"/><circle cx="205" cy="154.3" r="1.6"/><circle cx="183.7" cy="142.6" r="1.6"/><circle cx="186.5" cy="138.3" r="1.6"/><circle cx="189" cy="140.8" r="1.6"/><circle cx="120.4" cy="92.8" r="1.6"/><circle cx="87.4" cy="91.1" r="1.6"/><circle cx="106.2" cy="87.5" r="1.6"/></g>
<circle cx="150.3" cy="123" r="3.4" fill="#ea4a12"/>
<text x="148" y="136.6" style="font-size:12.5px;fill:#fff">玉树</text>
</g>
<g transform="translate(58.3 296.5)">
<text x="221.2" y="24.9" style="font-size:12.6px"><tspan font-style="italic">z</tspan>=6</text>
<path d="M0 0V247.8H315.1M0 0h3.6M0 27.5h3.6M0 55.1h3.6M0 82.6h3.6M0 110.1h3.6M0 137.7h3.6M0 165.2h3.6M0 192.7h3.6M0 220.3h3.6M0 247.8h3.6M0 247.8v-3.4M63 247.8v-3.4M126.1 247.8v-3.4M189.1 247.8v-3.4M252.1 247.8v-3.4M315.1 247.8v-3.4" stroke="#222" stroke-width="1.05" fill="none"/>
<text x="-4.1" y="4.7" text-anchor="end">34°N</text>
<text x="-4.1" y="32.2" text-anchor="end">33.8°N</text>
<text x="-4.1" y="59.8" text-anchor="end">33.6°N</text>
<text x="-4.1" y="87.3" text-anchor="end">33.4°N</text>
<text x="-4.1" y="114.8" text-anchor="end">33.2°N</text>
<text x="-4.1" y="142.4" text-anchor="end">33°N</text>
<text x="-4.1" y="169.9" text-anchor="end">32.8°N</text>
<text x="-4.1" y="197.4" text-anchor="end">32.6°N</text>
<text x="-4.1" y="225" text-anchor="end">32.4°N</text>
<text x="-4.1" y="250" text-anchor="end">32.2°N</text>
<text x="0.1" y="261.6" text-anchor="middle">95.5°E</text>
<text x="63.1" y="261.6" text-anchor="middle">96°E</text>
<text x="126.2" y="261.6" text-anchor="middle">96.5°E</text>
<text x="189.2" y="261.6" text-anchor="middle">97°E</text>
<text x="252.2" y="261.6" text-anchor="middle">97.5°E</text>
<text x="315.2" y="261.6" text-anchor="middle">98°E</text>
</g>
<g transform="translate(428.5 294.6)">
<path d="M63 0V247.7M126 0V247.7M189.1 0V247.7M252.1 0V247.7M315.1 0V247.7M0 0H315.1M0 27.5H315.1M0 55H315.1M0 82.6H315.1M0 110.1H315.1M0 137.6H315.1M0 165.1H315.1M0 192.7H315.1M0 220.2H315.1" stroke="#dadada" stroke-width="0.8" stroke-dasharray="1 2.2" fill="none"/>
</g>
<g transform="translate(429 296.5)">
<g clip-path="url(#quad)">
<path fill="#3cb44a" d="M82.1 16.4L282.1 93.6L218.9 230.4L20.9 151.5Z"/>
<path fill="#28b14f" d="M76.8 2L79 1.4L82 1.2L85 1.5L88 2.2L95 4.5L110 10.5L114 12.5L119 15.7L122.8 19L131 27.1L134.7 30L138 32L151.9 38L186 51.3L206 59.9L208 61.2L209 62.5L211.8 70L214.1 74L216 76.1L222.6 82L223.3 83L223.8 85L223.3 88L221 92.5L218 95.5L215 97.2L205 100.4L186 108.1L181 111L176.8 115L174.8 118L174.2 120L174 122L174.4 125L176.5 133L176.8 137L176 140L174 142.3L172 143.5L170 144.1L167 144.5L164 144.4L161 143.9L158 143L153 140.3L147 135L141.8 129L138.8 124L135.3 115L133.2 112L131.3 110L126 106L115.3 99L92 86.8L89 84.7L87 82.5L85 78.2L81.2 64L79.1 59L77 55.2L74.6 52L72 49.4L69 47.2L61.9 43L59.4 41L58.1 39L57.3 36L57.5 32L58.5 28L61.5 21L65.5 13L68.7 8L71 5.5L74 3.2Z"/>
<path fill="#0dab6a" d="M79.2 4L84 3.8L90 5.2L106 11.4L113 14.6L119 18.6L132 31.5L135 33.9L139 36.5L144.1 39L183 55.8L202 64.4L206 66.5L209 69.5L212.7 75L216.7 80L217.8 83L217.3 86L215.3 90L212.4 93L208 96L198.6 101L186 106.1L182.1 108L177.8 111L172.5 116L170.5 119L169.9 122L171.6 131L171.8 134L171 136.5L169 138.5L166 139.6L162 139.8L158 139L154 136.9L149.5 133L145 127.8L142.2 123L140.4 118L139 115L137.5 113L134.4 110L128.9 106L115.1 97L99 88.5L94 85.5L90 82.5L87.7 80L85.6 76L81 62L77.5 55L75.3 52L73 49.5L70 47.1L64 43L61.8 41L60.5 39L59.7 36L59.9 32L61.4 27L64.6 20L68.2 13L70.2 10L73.1 7L76 5.1Z"/>
<path fill="#00a887" d="M78.5 6L81 5.5L83 5.4L88 6.3L102 11.5L111 15.3L115 17.6L119 20.7L132 34L136 37.5L139 39.5L144 42.1L176 56.7L198 67.6L204 70.9L206.7 73L208.6 75L210.7 78L211.6 80L212 82L211.9 84L211.5 86L210.1 89L208.7 91L205.8 94L198.6 99L194 101.3L182 106L178.8 108L170 114.5L165 117.5L160 119.3L156 119.7L151 118.7L147 116.8L134.5 108L116.1 96L97 85.5L91 81.2L89 79.1L87.5 77L85.6 73L81.2 61L79 56.6L76.7 53L73 48.8L64.4 42L62.8 40L61.6 37L61.4 33L62.4 29L64.4 24L68.4 16L70.8 12L73 9.4L76 7.1Z"/>
<path fill="#00a9a6" d="M80.5 7L85 7L90 8.3L104 13.7L112 17.3L116 19.9L119 22.4L133 37.2L136 39.9L140 42.8L145 45.5L171 57.7L194 69.5L200 73L202.6 75L204.6 77L206 79L206.8 81L207.2 83L207.1 86L206.5 88L204.8 91L201 95L196.8 98L192 100.3L182 104L179 105.7L172 110.8L169 112.5L166 113.7L163 114.5L159 114.9L155 114.8L148 113.5L143 111.5L130 103.7L115.1 94L101 86.4L96 83.3L91 79.3L88 75.6L86 71.7L81.3 60L77.4 53L73 48L65.8 42L64.2 40L63 37L62.8 33L63.8 29L66.8 22L70.4 15L72.5 12L75 9.4L78 7.7Z"/>
<path fill="#02a8c0" d="M78.1 9L80 8.4L83 8.1L88 8.9L103 14.4L112 18.6L115.6 21L119 23.9L135 41.3L138 44.1L141 46.3L145 48.5L169.2 60L192 71.8L197 74.7L200.9 78L202.4 80L203.3 82L203.7 84L203.5 87L202.8 89L201.6 91L199 94L195 96.9L191 98.8L184 101L181 102.3L173 108.2L169 110.6L166 111.8L163 112.5L159 112.9L155 112.9L151 112.3L147 111.3L140 108.3L130 102.5L115.4 93L103 86.3L98 83.3L92.3 79L89 75.3L87 71.9L81.9 60L78.6 54L74.7 49L66.2 41L64.9 39L64.2 37L63.9 34L64.4 31L65.7 27L68.5 21L71.2 16L73.2 13L76 10.2Z"/>
<path fill="#08a6d5" d="M78.7 10L81 9.3L83 9.2L86 9.5L89 10.3L106 16.8L110 18.6L113.9 21L117.7 24L122 28.4L137 45.8L140 48.7L143 51L148 53.8L163.9 61L189 73.4L193.8 76L196.6 78L199.3 81L200.5 84L200.6 86L200.2 88L198.6 91L196 93.8L193 95.7L190 97L184 98.6L181 100L172.2 107L168 109.5L165 110.6L162 111.2L159 111.5L155 111.4L151 110.9L147 109.9L143 108.5L139 106.5L130 101.4L115.5 92L103 85.2L98 82.1L92.8 78L89.3 74L87 70.1L82.5 60L79 53.7L75 48.5L67.3 41L66 39L65.3 37L65 34L65.5 31L66.8 27L69.6 21L71.8 17L74 13.7L76 11.7Z"/>
<path fill="#0d9ddd" d="M79.2 11L81 10.5L84 10.3L89 11.3L105 17.4L110 19.7L113 21.5L118 25.5L123.2 31L128.2 37L139 51.2L144 56.5L149 60.1L154 62.7L185 74.9L192 78.4L195.3 81L197 84L197.2 87L196 90L194 92.1L191 94L184 95.7L181 97.1L172.7 105L168 108.1L165 109.3L162 110L159 110.3L155 110.3L151 109.7L147 108.8L143 107.3L139 105.5L130 100.4L115.5 91L104 84.8L99 81.7L94 77.8L90 73.5L87.8 70L82.6 59L79.2 53L76 48.8L68.3 41L67 39L66.3 37L66 34L66.5 31L67.9 27L70.2 22L72.9 17L75 14.1L77 12.3Z"/>
<path fill="#128dd8" d="M79.6 12L82 11.4L84 11.3L89 12.3L105 18.4L109 20.2L113 22.6L118 26.7L124.7 34L130.7 42L140 56.4L142 58.8L145 61.6L149.5 65L154.5 68L174 77.9L178 79.2L185 79.8L189 81.3L191.4 83L192.6 85L192.7 87L192 88.5L191 89.5L189 90.5L184 91L182 91.8L180 93.9L176.5 99L174.1 102L171 104.9L168 106.8L165 108.1L162 108.9L159 109.3L155 109.2L151 108.7L147 107.8L139 104.5L130 99.4L116 90.3L105 84.4L100 81.3L94.4 77L90.6 73L88 68.9L82.7 58L79.8 53L76 48L69.4 41L68.1 39L67.3 37L67 34L67.5 31L68.4 28L70.7 23L73 18.7L75 15.7L77 13.6Z"/>
<path fill="#187dd3" d="M80 13L83 12.4L87 12.8L92 14.3L101 17.7L107 20.2L111 22.3L114.8 25L118 27.9L123 33.3L127.5 39L131.3 45L138 56.7L142 61.6L145.9 65L150.2 68L165 76.4L170 79.5L173.2 82L175.9 85L177.1 87L177.6 89L177.4 93L175.4 98L172.5 102L170 104.3L167 106.2L164 107.4L161 108.1L158 108.3L154 108.2L150 107.6L146 106.5L140 104.1L132 99.8L117 90L102 81.7L98 78.9L94 75.5L91 72.2L89 69.2L82.7 57L79.8 52L76.7 48L70.3 41L69 39L68.3 37L67.9 35L68.2 32L69 29L71.2 24L73.9 19L76 16L78 14.1Z"/>
<path fill="#1f6cc9" d="M80.5 14L84 13.4L87.8 14L103 19.5L111 23.3L114 25.4L118 29L122.6 34L126.4 39L130.7 46L136.5 57L140.3 62L144 65.4L148.9 69L163 77.2L168 80.4L171.2 83L173.8 86L174.9 88L175.4 90L175.4 94L173.9 98L171 102L168.7 104L166 105.6L163 106.7L160 107.3L157 107.5L153 107.2L149 106.5L145 105.3L139 102.7L132 98.9L117 89.1L102.4 81L98.1 78L94.6 75L92 72.2L89.7 69L80.4 52L77 47.4L71.3 41L70 39L69.2 37L68.9 35L69.1 32L70 29L72 24.4L76 17.6L78 15.5Z"/>
<path fill="#285bbc" d="M81 15L84 14.5L88 15.1L101.8 20L107 22.2L110.4 24L114 26.5L117 29.2L122 34.5L126.1 40L129.6 46L135 57L137 60.1L139.5 63L143 66.2L148 70L166.4 81L170 84L171.8 86L173 88L173.8 90L173.9 94L172.6 98L170 101.5L166 104.5L163 105.7L160 106.4L157 106.6L153 106.4L149 105.6L145 104.4L140 102.3L134 99.2L118 88.8L104 81.1L99 77.7L95 74.3L90.6 69L81.1 52L78 47.7L72.3 41L71 39L70.2 37L69.9 35L70.1 32L71 28.9L73 24.4L75 20.8L77 18L79 16.1Z"/>
<path fill="#3049ae" d="M81.8 16L85 15.7L88 16.2L93.8 18L104 21.9L111 25.4L117 30.3L121.4 35L125.1 40L128.5 46L134.3 58L136.3 61L138.9 64L143 67.7L147.5 71L165.7 82L169 84.8L170.9 87L172.3 90L172.7 92L172.6 94L171.3 98L169.2 101L167 102.8L165 104L162 105.1L159 105.6L156 105.8L152 105.4L145 103.6L139 101L132 97.1L118 88L103.7 80L99.4 77L95.9 74L93.1 71L91 68.2L81.7 52L79 48L73.3 41L71.2 37L70.9 35L71.1 32L72 29L74 24.5L76 21L78 18.5L80 16.8Z"/>
<path fill="#36399e" d="M83.1 17L86 17L90 17.9L104.1 23L111 26.5L117 31.5L121.2 36L124.7 41L127.5 46L133.1 58L135 61L137.4 64L140.5 67L145 70.6L150 73.9L163 81.5L167 84.5L169.3 87L171 90L171.5 92L171.5 94L171 96L170.1 98L168 100.8L166 102.4L164 103.4L161 104.4L158 104.9L155 104.9L151 104.4L144 102.3L139 100.1L134 97.4L119 87.7L105 79.9L100 76.5L96 73L93.3 70L91 66.9L81.8 51L73.6 40L72.6 38L72 36L72 33L72.7 30L74 26.8L76 23L79.1 19L81 17.7Z"/>
<path fill="#3b298f" d="M81.5 19L84 18.3L87 18.4L91 19.4L98.6 22L105 24.5L109 26.5L112.8 29L116 31.7L120.1 36L123.7 41L126.5 46L132.5 59L134.4 62L136.9 65L141 68.8L146 72.5L164 83.5L166.9 86L168.6 88L170 91L170.3 94L169.5 97L167.4 100L165 101.9L163 102.9L158 104L155 104L151 103.5L144 101.5L134.9 97L119 86.7L105 79L100.7 76L97.2 73L94 69.6L91.4 66L83.2 52L75.3 41L73.3 37L73 35L73.1 33L73.8 30L75 27.1L78 22.1L80 20Z"/>
<path fill="#3b2385" d="M83.3 20L86 19.7L89 20.2L95 22L103 24.9L110 28.3L116 33L120 37.3L123 41.5L125.9 47L131.3 59L133.2 62L136 65.5L139.7 69L144 72.4L149 75.7L161.4 83L165 85.7L167.2 88L168.8 91L169.1 94L168.2 97L166.9 99L165 100.7L163 101.8L161 102.5L158 103.1L152 102.8L145 100.9L139 98.3L133.1 95L119 85.8L105 78L98 72.6L95 69.5L92 65.5L83.4 51L76.4 41L74.5 37L74.2 35L74.3 33L75 30L76.4 27L78 24.3L79.9 22L81.1 21Z"/>
<path fill="#3b2080" d="M82.9 22L86 21.4L89 21.7L100 25.1L105 27.1L109 29.1L112 31L115.6 34L119 37.5L122.2 42L124.8 47L130.1 59L132.6 63L135 66L139 69.8L144 73.7L161 84L164 86.3L166 88.4L167.5 91L167.9 93L167.4 96L166 98.3L164.1 100L162.3 101L158 102.1L152 101.9L145 100L139 97.3L133.1 94L120 85.3L105.1 77L98.7 72L95 68.1L92 63.9L84.3 51L77.6 41L76.1 38L75.6 36L75.5 34L76 31.3L76.9 29L78 26.8L80 24.1Z"/>
<path fill="#3b2080" d="M83.3 24L86 23.3L89 23.5L98 26L103.5 28L108 30L111.3 32L115 34.9L118 38L121 42L124 47.8L129.4 60L131.9 64L134.4 67L138 70.4L143 74.3L148 77.6L160 84.7L163 87L164.9 89L166.1 91L166.5 94L166 96L164.6 98L161.8 100L159 100.9L157 101.1L151 100.7L145 98.9L140.6 97L135 94L120 84.2L107 77L100 71.8L96.3 68L93 63.7L84.7 50L79.4 42L77.5 38L77 36L77 34L78 30.2L80 26.8L81.7 25Z"/>
<path fill="#62bb46" d="M56.9 46L59 45.7L62 46L65 46.9L68 48.2L71 50.1L73 51.9L75 54.2L76.9 57L79.9 64L81.6 71L82 78L80.8 87L81.6 89L84.7 91L103 98.3L112 102.3L119 106.3L125 110.9L127.2 113L129.4 116L134.6 126L137.1 130L143 137.2L147 141.3L151 144.7L163.3 153L168.2 157L178 167L185.7 176L189 181L191.4 186L192.6 191L193.4 199L194.4 201L195.6 202L197.8 203L208 205.5L217 208.7L222 211.3L225.1 214L227.2 217L228.5 220L229.5 225L230 231L229.8 235L229.2 238L227.7 241L226 242.9L224 244.1L222 244.8L219 245L216 244.6L210 242.7L190.8 235L185 233.3L182 233.4L176 235.3L173 235.7L169 235.4L165 234.5L141 226.6L93 207.5L82 202.6L79 200.7L76 198.3L73.9 196L72.5 194L71.3 191L70.6 188L70.5 185L71.2 177L71 174.6L70.3 172L69 169.4L67 166.5L59 157.4L45.4 143L40.6 139L38.6 138L36 137.2L26 136.6L22 135.7L19 134.2L16 131.6L14.3 129L13.5 127L12.7 122L12.9 119L13.7 115L16.3 108L22.5 97L24.6 94L27 91.3L29 89.6L32 87.9L40 85.3L42 84L42.5 82L41.7 75L41.7 72L42.5 68L43.5 65L47.2 57L50.7 51L54 47.5ZM215.8 62L218 61.2L222 61.6L236 66.4L250 72.2L253 74.4L254.7 77L255.2 80L254.8 82L253.9 84L252 86.2L250 87.3L247 87.8L244 87.5L241 86.6L234 83.7L222 77.4L219 75.6L217.1 74L215.4 72L214.4 70L213.7 67L213.9 65L214.8 63ZM200.6 107L205 106.4L208 106.8L210.7 108L212.8 110L214.2 113L214.9 117L214.6 121L213.4 125L212 127.3L210 129.5L207 131.5L204 132.7L200 133.5L195 133.7L191 133.2L188 132.3L184.8 130L183.1 128L182 126L180.9 122L180.9 120L181.5 118L183.5 115L187.4 112L194 109.1Z"/>
<path fill="#96c937" d="M57.8 48L60 47.4L63 47.4L67 48.6L70 50.2L73 52.7L74.9 55L78.2 61L80.3 68L80.8 72L80.8 76L80.4 79L79.4 82L75.6 89L75.6 90L76 91L77.3 92L79.5 93L93 97.4L109 103.8L116 107.4L122 111.7L124.5 114L127 117L135 130.6L140.9 138L148 145.1L159.1 154L164.6 159L174.3 169L182.1 178L185.5 183L187.3 187L188.6 192L189.3 200L190.1 202L191 202.9L192.6 204L195 204.8L206 207.1L215 210.2L220 212.6L222 214L224 216L225.8 219L226.8 222L227.5 226L227.8 231L227.7 234L227 237L226 239.1L224.3 241L222 242.2L220 242.6L217 242.5L214 241.8L183 229.5L180 229.3L174 231L170 231.2L166 230.5L150 226.4L144 224.5L136 221.5L93 204.4L85 200.8L82 199L79 196.7L77 194.5L75.4 192L74.6 190L74.1 187L74.6 176L74.2 173L73.5 171L72 168L70 165.2L62 156L47 140.1L42 136.1L39.8 135L37 134.2L28 133.6L25 133.1L22 132L19 129.7L17.7 128L16.7 126L16.2 124L15.9 121L16.5 116L18.7 110L21.3 105L24.5 100L27.6 96L30 93.6L32 92.2L35 90.8L45 88.6L46.4 88L47.4 87L47.5 85L45.2 79L44.5 76L44.3 73L44.8 69L47.5 62L51.7 54L54.9 50ZM217.8 63L220 62.8L224 63.8L240 69.6L249 73.5L252 75.8L253.2 78L253.3 81L252.5 83L251 84.7L249 85.8L247 86.2L244 85.8L240 84.5L233 81.7L221 75.7L217.4 73L215.9 71L215.1 69L214.9 67L215.4 65L216 64ZM197 111L200 110.4L203 110.4L205 111L206.5 112L207.9 114L208.6 117L208.3 120L207.5 122L206.2 124L205 125.1L203 126.3L200 127.3L197 127.7L194 127.7L191 127.1L189 126.3L187 124.7L185.8 123L185.3 121L185.8 118L187.2 116L189.7 114L193 112.4Z"/>
<path fill="#c2d723" d="M59.7 49L63 48.5L66 49.1L69 50.4L72 52.6L74.2 55L76.1 58L78 62L79.2 66L79.8 70L80 73L79.7 76L79 79L77.5 82L76 84L69.5 90L69 91L69.2 92L70.3 93L72.3 94L91 99.5L107 105.5L115 109.6L121 114.1L123.8 117L126 119.8L133.3 132L138.8 139L146 146.5L157.8 157L165.9 165L174.4 174L180 180.8L182.6 185L184.3 189L185.2 193L185.6 200L186.2 202L187 203.2L189.5 205L192 205.9L205 208.4L214 211.4L219 213.7L221 215.2L222.8 217L224.1 219L225.2 222L226.3 229L226.3 232L225.9 235L225.2 237L223.8 239L222 240.3L220 240.9L217 240.9L214 240.2L194 232.4L183 226.8L180 225.8L178 225.8L172 227.4L169 227.4L154 224.9L148 223.5L139 220.4L99 204.6L91 201.3L86 198.9L83 197L80.6 195L78.9 193L77.7 191L76.9 189L76.4 186L77 176L76.1 171L74.7 168L72.7 165L65 156L49 139L44 134.7L41 133.1L38 132.2L29 131.4L26 130.9L23 129.7L20.9 128L19.5 126L18.4 123L18.2 120L18.8 116L19.7 113L21.5 109L24.5 104L27.5 100L31 96.3L35 93.8L40 92.3L49.6 91L52.1 90L52.7 89L52.2 87L48.3 81L47 78L46.2 74L46.4 70L48.4 64L53.1 55L56.4 51L58 49.8ZM217 65L219 64.1L223 64.7L234 68.6L247 73.7L249.2 75L251.3 77L252 79L251.9 81L251.6 82L250.9 83L249 84.4L247 84.9L245 84.8L238 82.6L226 77.3L220 74.1L217.7 72L216.5 70L216 68L216.3 66Z"/>
<path fill="#e7e508" d="M60.9 50L64 49.7L67 50.3L70 51.8L73 54.5L75.4 58L77.3 62L78.7 67L79.1 71L78.8 75L78 78L77 80.1L75 82.7L72 85.2L69 86.9L65 88.5L62 88.9L59 88.5L57 87.5L54 85.2L52 83.2L50 80.5L48.7 78L47.8 75L47.6 73L48 70L48.8 67L50.5 63L53.6 57L57 52.4L59 50.8ZM218 66L220 65.3L224 66.1L234 69.6L246 74.4L248.8 76L250 77.2L250.8 79L250.7 81L250.2 82L249 83.1L247 83.8L245 83.7L240 82.3L228 77.3L221.5 74L218.9 72L218 70.9L217.2 69L217.4 67ZM43.7 94L57 93.2L62 93.8L72 96.8L86 100.4L98 104.3L110 109.4L114 111.6L117 113.8L120.5 117L123.9 121L126.4 125L131.4 134L136.7 141L145 149.8L165 168.9L171.5 176L176.3 182L178.9 186L180.6 190L181.5 194L181.8 201L182.4 203L183.2 204L186 205.8L189.8 207L203 209.2L210 211.2L217 214.1L219 215.2L221.1 217L222.6 219L223.6 221L224.4 224L224.8 227L224.9 233L224 236L223 237.5L221 239L219 239.5L216 239.4L212 238.3L191 229.6L187 227.3L181 223.1L178 221.8L176 221.7L171 223.2L167 223.5L154 222.8L146 221L136 217.4L94 200.7L87 197.5L83.4 195L80.6 192L79.5 190L78.8 188L78.4 184L78.8 175L77.8 170L75 165L70 158.8L51 138.4L48 135.5L45 133.1L42 131.5L39 130.5L29 129.5L26 128.8L23 127L20.9 124L20.1 120L20.9 115L23.5 109L27 103.8L31 99.2L34 96.9L38 95.1Z"/>
<path fill="#f6db00" d="M61.9 51L64 50.7L67 51.2L70 52.7L72.5 55L74.7 58L76.6 62L77.7 66L78.2 70L78.1 73L77.5 76L76.2 79L74.7 81L73 82.6L70 84.6L67 85.8L63 86.5L60 86.3L58 85.6L54 83L52 80.8L50.2 78L49.4 76L49 73L49.3 70L50.2 67L54.5 58L58 53.3L60 51.8ZM219.4 67L221 66.6L225 67.5L235 71L245 75L248 76.7L249.1 78L249.6 80L249.3 81L248.4 82L247 82.6L244 82.5L237 80.1L227.4 76L221.6 73L219.4 71L218.5 69L218.6 68ZM43.1 96L52 95.6L60 96.1L83 101.8L93 104.8L103 108.4L110 111.7L115 115L119.2 119L122.9 124L125.5 129L130 139.6L133.5 145L140.4 152L160 169.1L165.5 175L170.9 182L173.8 187L175.5 192L175.9 196L175.7 204L176.1 206L176.7 207L178 207.6L185 207.8L203 210.3L212 213.1L218 216L221.2 219L222.3 221L223.3 224L223.7 227L223.8 231L223.4 234L222.4 236L221 237.4L219 238.1L217 238.3L215 237.9L210 236.3L194 229.8L190 227.7L186.1 225L181.8 221L177 215.8L175 214.2L174 214.2L173 214.7L168 218.3L163.3 220L160 220.6L156 220.9L149 220.1L140 217.3L97 200.4L90 197.3L85 194.2L82 191L81 189L80.4 187L80.1 184L80.5 175L79.6 170L77 165L71.5 158L52 137.1L46.3 132L43 130.1L40 129.1L30 127.9L27 127.2L24 125.2L22.6 123L22 121L21.9 119L22.6 115L24.8 110L28 105.2L31.9 101L35 98.6L39 96.9Z"/>
<path fill="#fcc501" d="M62.7 52L65 51.8L68 52.6L70.4 54L72.4 56L74.4 59L76 62.6L76.9 66L77.3 70L77.1 73L76.3 76L75.4 78L73.9 80L72 81.7L69 83.5L66 84.5L63 84.9L60 84.5L58 83.8L56 82.7L54 81L52.3 79L51.2 77L50.3 73L50.6 70L51.5 67L55.3 59L57.2 56L59 54.1L61 52.6ZM220.4 69L221 68.4L222 68.2L225 68.7L239.9 74L246.5 77L248 78.8L248.1 80L247 81.2L245 81.6L242.3 81L236.9 79L229.8 76L223.8 73L221.1 71L220.5 70ZM42.1 98L50 97.3L59 98L65 99.2L85 104.4L96 107.8L105 111.4L111 114.7L115.2 118L119.5 123L122.1 128L123.6 133L125.2 144L126.4 147L128 149.5L130 151.7L132.9 154L149 164.9L156 170.3L162.4 177L165.3 181L167 184L168.4 187L169.5 191L169.8 194L169.7 198L168.7 204L167.5 209L166.3 212L164.2 215L161 217.4L157 218.7L152 218.9L146 217.7L137 214.6L95 198L89 195.2L85 192.1L82.8 189L81.9 186L81.6 183L82 174L81 169.2L78.2 164L73.5 158L54 136.9L47.6 131L44.3 129L41 127.8L38 127.2L31 126.4L28 125.6L25.5 124L24.2 122L23.6 119L24 116L25.5 112L28 107.9L31.2 104L34.8 101L38 99.2ZM184.3 210L189 209.7L202 211.2L210 213.5L214 215.1L217 216.6L219 218.2L220.5 220L222.1 224L222.7 228L222.7 231L222.3 233L221.4 235L220 236.3L218 236.9L214 236.5L209 234.8L196 229.5L189.4 226L186.9 224L184 221L182.6 219L181.1 216L180.7 214L181.3 212L182.2 211Z"/>
<path fill="#f8a60b" d="M63.8 53L66 53L69 54.1L71 55.6L73 58L75 62L75.9 65L76.3 68L76.3 71L75.8 74L75 76.2L74 78L72 80.1L70 81.5L67 82.8L64 83.4L62 83.4L58 82.3L56 81L54 79.1L52.2 76L51.7 74L51.6 72L52.1 69L53.1 66L57 58.5L60 54.8L62 53.5ZM226 72L227 71.4L229 71.7L236.2 74L243.5 77L245.1 78L245.7 79L245 79.7L244 79.9L240.6 79L231 75ZM41.3 100L47 99.1L53 99.1L59 99.7L66 101.3L88 107.3L98 110.5L107 114.5L110 116.3L113.3 119L116.8 123L119.4 128L120.7 133L121.2 142L121.7 145L123 148.8L125 151.9L127 154L130.9 157L147 167.3L154 172.5L157 175.4L160 178.8L162.3 182L163.9 185L165.4 189L166 192L166.2 195L166 199L165.1 204L163.7 209L162.2 212L160.7 214L157.9 216L154 217.1L150 217L145 215.9L137 213L96 197L91 194.7L87 192L84.5 189L83.4 186L83.1 182L83.4 174L82.6 169L80.1 164L74.7 157L55 135.8L48.8 130L45.7 128L42 126.5L39 125.8L32 125L29 124.1L27.4 123L26 121.2L25.4 119L25.7 116L27 112.4L29.1 109L32 105.6L35 103L38 101.2ZM185 212L187 211.3L190 211L201 212.1L208.2 214L213 215.8L216 217.3L219.1 220L220.3 222L221 224L221.5 227L221.6 230L221.3 232L220.3 234L219 235.2L217 235.7L213 235.1L197.6 229L191.4 226L188.7 224L186.7 222L184 218L183.3 216L183.4 214L183.9 213Z"/>
<path fill="#f48714" d="M62 55L64 54.2L67 54.4L69 55.3L71 56.9L72.5 59L74.1 62L75 65L75.4 68L74.9 73L74.3 75L73 77.2L71 79.3L69 80.6L67 81.4L64 82L60 81.6L56.9 80L54.2 77L53.3 75L52.9 73L53.4 69L55.8 63L59 57.7ZM45.3 101L53 100.7L60 101.6L89 109.5L97 112.1L103.9 115L108 117.3L112 120.5L115 124.1L117.3 129L118.2 133L118.5 142L119 145.4L120.1 149L122.4 153L125 155.8L128 158.2L146 169.7L151.9 174L157 179.1L161 185L162.3 188L163.2 191L163.5 194L163.4 198L162.6 203L161.2 208L159.7 211L158 213L155 214.8L152 215.3L148 215L144 214L97 196L92 193.7L88 191L85.7 188L84.7 185L84.4 182L84.7 173L83.9 168L81.3 163L76.7 157L56.4 135L50 129L47 127L43 125.2L31 122.8L29 121.7L27.8 120L27.3 117L28 114.2L29.6 111L32 107.9L35 105.1L38 103.2L41 101.9ZM187.4 213L189 212.5L192 212.4L201 213.2L207.7 215L215 218L218 220.5L219 222L219.8 224L220.4 228L220.3 230L219.8 232L219 233.2L217.8 234L216 234.3L214 234.1L205.3 231L193 225.6L190.6 224L188.4 222L186.8 220L185.8 218L185.4 216L185.5 215L186 214Z"/>
<path fill="#ef6c12" d="M63.1 56L65 55.5L67 55.7L69 56.6L71 58.5L72 60L73.3 63L74.1 66L74.3 69L74 71.7L73.3 74L72.2 76L71 77.4L69 79L67 79.9L63 80.6L60 80L56.8 78L54.8 75L54.3 72L55 68L57.8 62L60.5 58ZM44.3 103L49 102.5L54 102.6L59 103.2L64 104.4L89 111.5L96.6 114L105 117.8L110 121.4L113.1 125L115 129L115.9 133L116.2 142L116.7 146L117.9 150L120.2 154L122.9 157L126.6 160L144 171.1L150 175.4L155 180.2L157.1 183L158.9 186L160.2 189L160.9 192L161.1 198L160.4 202L159.4 206L158 209L156.6 211L154 212.8L151 213.4L147 213.1L143 212L97 194.6L92 192.2L89 190L86.8 187L85.9 184L85.7 180L86.1 172L85.5 168L83.3 163L78.8 157L57.6 134L51 127.7L48 125.6L44 123.8L35 121.9L32 121L30.7 120L29.9 119L29.5 117L29.8 115L31.1 112L33 109.5L35.6 107L38 105.3L41 103.9ZM190.2 214L195 213.8L202 214.7L209.7 217L214.1 219L216.7 221L218.4 224L219 228L218.4 231L217.6 232L216 232.7L214 232.6L212 232.2L198.8 227L193 224.1L189.4 221L187.7 218L187.5 217L188 215.3L189 214.5Z"/>
<path fill="#ea5310" d="M62.9 58L64 57.4L66 57.1L68 57.7L69 58.4L71 60.7L72 62.8L73 67.5L72.9 70L72.5 72L71 75.1L70 76.3L68 77.8L66 78.6L64 79L61 78.6L58.1 77L56.6 75L55.9 72L56.3 69L58 64.7L60.1 61ZM44.5 105L49 104.4L53 104.4L57.9 105L62.3 106L74 109.6L90 113.9L96 115.9L103 119L106.2 121L108.6 123L111 126L112.9 130L113.6 134L113.9 142L114.5 147L116.2 152L118.7 156L121.6 159L125 161.7L142.8 173L148.4 177L153 181.4L156.3 186L158.3 191L158.8 194L158.8 197L158.3 201L157.5 204L156.3 207L154.9 209L153 210.5L150 211.3L147 211.2L143 210.2L117 200.3L98 193.6L93 191.3L90 189L88 186.2L87.1 183L86.9 179L87.6 171L87.1 167L85.4 163L81.2 157L75 150L59.2 133L52 126.2L49 124.1L46 122.6L43 121.6L36 120L34 119.1L32.8 118L32.3 117L32.3 115L33 113L35 110.3L37 108.5L39.2 107L42 105.7ZM191.3 216L195 215.4L201 216L208 218L212.8 220L215.4 222L216.6 224L217.3 227L217 229L216 230.3L215 230.7L212 230.5L205.1 228L195.9 224L192.8 222L190.9 220L190.2 218L190.3 217Z"/>
<path fill="#e74e0f" d="M63.7 60L66 59.3L68 60L69 60.9L70.7 64L71.4 68L71 71L69.5 74L67 76.1L64 77L62 76.8L60 75.8L58.5 74L57.9 72L58.2 69L59.8 65L62 61.5ZM46.9 107L50 106.7L54 106.8L62 108.3L94.7 118L101.5 121L106 124L108.6 127L110.4 131L111 134L111.4 143L112.1 148L113.8 153L116.2 157L119 160.1L123 163.4L141.2 175L146.8 179L151 183L153.9 187L155 189.3L155.8 192L156.2 197L155 203L154.2 205L153 206.8L151 208.2L149 208.8L146 208.6L143 207.9L118 198.5L99 192.5L94 190.3L91 188.1L89 185.1L88.2 182L88.2 178L89.3 170L89 166L87.4 162L84.7 158L76.2 148L60 130.7L55 125.8L52 123.4L49 121.5L45 119.8L39 117.9L37.2 117L36.3 116L36 115L36.6 113L39 110.3L43 108ZM194.9 219L196 218.2L197 218L200 218.2L203.9 219L209.7 221L212 222.3L213.7 224L214.3 226L214 227L213 227.7L211 227.6L203.7 225L197.3 222L195 220Z"/>
<path fill="#e4490e" d="M63.9 64L65 63.3L66 63.1L67 63.5L68.1 65L68.7 68L68.4 70L67.4 72L66 73.2L64 73.8L61.9 73L61 71L61.1 69L61.9 67ZM46.7 111L50 110.3L53 110.2L60 111.2L74 115.5L87.1 119L93 120.9L98.1 123L103 126L105.7 129L107.1 132L107.7 136L108.1 145L108.8 149L110.5 154L113.4 159L117 162.9L121 166.1L138.1 177L143.9 181L148 184.8L150.4 188L152.2 192L152.7 196L152 200.5L151 202.7L150 203.9L149 204.6L147 205.1L143 204.6L120 196.2L108 193.8L101 191.8L96 189.8L93 188L90.5 185L89.5 182L89.6 177L92 167L91.6 164L89.8 160L86.3 155L81.2 149L59 125.3L53 120.2L44.4 115L43.8 114L43.9 113L44.8 112Z"/>
<path fill="#d64415" d="M102.5 164L105 164.4L110 167.1L115.2 171L119.3 175L122.4 179L124.8 183L125.1 185L124.8 186L123 188L120 190L117 191.3L113.9 192L110 192.1L105 191.4L100 189.9L96 188.2L93 186L91.6 184L90.8 181L91 177.2L92 174L94 170.5L97 167.2L100 164.9L101 164.3Z"/>
<path fill="#c6401d" d="M97.1 172L100 171.4L104 171.8L108 173.3L111 175.5L113.6 179L114.7 182L114.9 185L114.3 187L113.6 188L112 189.2L110 189.8L106 189.8L102.4 189L99 187.9L96 186.4L94.3 185L93 183.1L92.6 182L92.3 180L92.5 178L93 176.2L94 174.5L95 173.3Z"/>
<path fill="#b23c24" d="M97.4 175L100 174.5L103 174.8L106 175.9L108 177.2L110 179.4L111.1 182L111.2 184L110.4 186L109.2 187L108 187.4L104 187.4L99 186L96 184.1L94.6 182L94.3 179L95 177L96 175.9Z"/>
<path fill="#a83a28" d="M98.9 178L100 177.7L102 177.8L105.1 179L106.2 180L107.2 182L107.1 183L106.5 184L105 184.7L103 184.7L100.5 184L98.8 183L97.8 182L97.3 180L97.7 179Z"/>
</g>
<path d="M22 150.1L50.1 95.3L78.5 25L85.6 20L110.5 29.6L126.5 37.8L138.9 45.6L151 50.9L174.1 53.4L186.5 58L204.3 66.9L222.1 74.7L239.8 81.1L257.6 88.2L271.8 94.3L277.1 98.9L273.6 101.4L264.7 101.4L250.5 101.4L239.8 107.8L225.6 121.3L212.1 132.3L212.1 162.5L229.2 198L222.1 212.2L215 223.6L204.3 222.9L186.5 216.5" stroke="#fff" stroke-width="1.9" fill="none" stroke-linejoin="round"/>
<path d="M39.4 157.9L49 148.3L51.9 142.9L57.2 138.3L67.9 135.8L82.1 136.6L90.9 139.4L98.1 143.7L101.6 148.3L96.3 150.8L82.1 150.1L69.6 151.8L59 156.1L53.6 161.4L59 166L73.2 172.1L110.5 187L153.1 203L186.5 216.5" stroke="#fff" stroke-width="1.9" fill="none" stroke-linejoin="round"/>
<path d="M52.8 87.3L89.2 105.1M45.6 100.7L64.3 111.3L82.1 121.4L96.3 129.5L114 137.5L135.4 145.5L151 151.3L151 152.6L177.6 159.7L204.3 163.3L225.6 165L238.1 165.6M96.3 87.3L101.6 91.8L117.6 98.9L138.9 109.5L151 114.9L160.8 121.5L184.8 133.9L194.5 138.4L204.3 144.6L222.1 157L236.3 165.9L245.2 171.6M139.8 38.5L151 50.9L151 51.3L159.9 58L168.8 63.7L177.6 67.8L186.5 71L204.3 77.6L222.1 83.8L239.8 90L257.6 98L275.4 106M21.7 150.8L46.5 142.8L64.3 136.6L78.5 136.6L110.5 138.4L138.9 137.1M78.5 137.1L87.4 141L99.8 151.7L110.5 159.7L121.2 167.7L135.4 178.4L151 187.2L165.2 192.6L181.2 200.6L193.6 208.6L204.3 212.1L214.1 214.8L222.1 222.8M189.2 139.6L199 137.1L206.1 134.6L213.2 131.4" stroke="#111" stroke-width="1.1" fill="none" stroke-linejoin="round"/>
<g fill="#111"><circle cx="91.5" cy="95.9" r="1.6"/><circle cx="89.2" cy="95.3" r="1.6"/><circle cx="95.6" cy="95.6" r="1.6"/><circle cx="98.5" cy="89.2" r="1.6"/><circle cx="91.6" cy="90" r="1.6"/><circle cx="87.7" cy="92.6" r="1.6"/><circle cx="92.3" cy="95.6" r="1.6"/><circle cx="93.7" cy="104.7" r="1.6"/><circle cx="95.3" cy="85.6" r="1.6"/><circle cx="92.2" cy="90.5" r="1.6"/><circle cx="88.9" cy="100.1" r="1.6"/><circle cx="90.3" cy="83.8" r="1.6"/><circle cx="92.7" cy="92.1" r="1.6"/><circle cx="85.9" cy="89" r="1.6"/><circle cx="88.4" cy="93.4" r="1.6"/><circle cx="89.3" cy="93.9" r="1.6"/><circle cx="99.8" cy="89.6" r="1.6"/><circle cx="87.6" cy="92.3" r="1.6"/><circle cx="96.4" cy="90" r="1.6"/><circle cx="97.9" cy="87" r="1.6"/><circle cx="86.5" cy="93.3" r="1.6"/><circle cx="87.3" cy="90.5" r="1.6"/><circle cx="93.4" cy="97.2" r="1.6"/><circle cx="91.8" cy="92.2" r="1.6"/><circle cx="97.5" cy="95.6" r="1.6"/><circle cx="90.2" cy="99.6" r="1.6"/><circle cx="87.1" cy="94.4" r="1.6"/><circle cx="94.4" cy="93.5" r="1.6"/><circle cx="88.7" cy="95.3" r="1.6"/><circle cx="88.8" cy="90.6" r="1.6"/><circle cx="86.6" cy="100" r="1.6"/><circle cx="88.8" cy="99.3" r="1.6"/><circle cx="93.1" cy="92.3" r="1.6"/><circle cx="94.4" cy="94.9" r="1.6"/><circle cx="91.9" cy="86.7" r="1.6"/><circle cx="91.6" cy="98" r="1.6"/><circle cx="93.6" cy="98.5" r="1.6"/><circle cx="98.2" cy="95.6" r="1.6"/><circle cx="100.4" cy="86" r="1.6"/><circle cx="90.2" cy="81" r="1.6"/><circle cx="95.1" cy="94" r="1.6"/><circle cx="99.1" cy="91.7" r="1.6"/><circle cx="81.9" cy="99.9" r="1.6"/><circle cx="85.1" cy="87.2" r="1.6"/><circle cx="90.5" cy="96.7" r="1.6"/><circle cx="89" cy="94.5" r="1.6"/><circle cx="82.6" cy="102.2" r="1.6"/><circle cx="91" cy="94.2" r="1.6"/><circle cx="94" cy="94.4" r="1.6"/><circle cx="92.2" cy="88.9" r="1.6"/><circle cx="126.3" cy="107" r="1.6"/><circle cx="115.1" cy="100" r="1.6"/><circle cx="188.6" cy="134.1" r="1.6"/><circle cx="134.3" cy="112.8" r="1.6"/><circle cx="122.6" cy="104.7" r="1.6"/><circle cx="110.5" cy="102.4" r="1.6"/><circle cx="110.7" cy="102.7" r="1.6"/><circle cx="118.9" cy="100.7" r="1.6"/><circle cx="156.1" cy="120.2" r="1.6"/><circle cx="117.4" cy="103.6" r="1.6"/><circle cx="113.5" cy="98.7" r="1.6"/><circle cx="139.4" cy="114.8" r="1.6"/><circle cx="121.2" cy="106.9" r="1.6"/><circle cx="186.8" cy="134.1" r="1.6"/><circle cx="116.8" cy="103.6" r="1.6"/><circle cx="144.9" cy="115.9" r="1.6"/><circle cx="165.2" cy="124.1" r="1.6"/><circle cx="134.2" cy="111.9" r="1.6"/><circle cx="188.6" cy="132" r="1.6"/><circle cx="140.5" cy="109.9" r="1.6"/><circle cx="120.9" cy="105.3" r="1.6"/><circle cx="135" cy="111.8" r="1.6"/><circle cx="112" cy="98.3" r="1.6"/><circle cx="135.3" cy="111.7" r="1.6"/><circle cx="123.4" cy="102.6" r="1.6"/><circle cx="179" cy="129.6" r="1.6"/><circle cx="170.2" cy="125.8" r="1.6"/><circle cx="141.6" cy="114.4" r="1.6"/><circle cx="110.6" cy="98.6" r="1.6"/><circle cx="123.6" cy="107.5" r="1.6"/><circle cx="121.2" cy="102.9" r="1.6"/><circle cx="121.2" cy="105.8" r="1.6"/><circle cx="122.2" cy="104.2" r="1.6"/><circle cx="177.2" cy="128.5" r="1.6"/><circle cx="114.8" cy="104.1" r="1.6"/><circle cx="110.8" cy="99.3" r="1.6"/><circle cx="182.9" cy="129.2" r="1.6"/><circle cx="149" cy="113.7" r="1.6"/><circle cx="189.3" cy="130.6" r="1.6"/><circle cx="133" cy="109.7" r="1.6"/><circle cx="178.1" cy="128.7" r="1.6"/><circle cx="157.2" cy="119.7" r="1.6"/><circle cx="166" cy="123" r="1.6"/><circle cx="164" cy="122.1" r="1.6"/><circle cx="142.7" cy="112.7" r="1.6"/><circle cx="112.2" cy="99.8" r="1.6"/><circle cx="122.3" cy="103.3" r="1.6"/><circle cx="177.2" cy="129.7" r="1.6"/><circle cx="179.2" cy="129.3" r="1.6"/><circle cx="181.6" cy="128.5" r="1.6"/><circle cx="131.2" cy="107.5" r="1.6"/><circle cx="157.5" cy="117.8" r="1.6"/><circle cx="170.5" cy="125.7" r="1.6"/><circle cx="155" cy="117.9" r="1.6"/><circle cx="168.9" cy="126.3" r="1.6"/><circle cx="59" cy="99.6" r="1.6"/><circle cx="164.5" cy="107.8" r="1.6"/><circle cx="164.5" cy="144" r="1.6"/><circle cx="205.7" cy="148.6" r="1.6"/><circle cx="202.9" cy="155.7" r="1.6"/><circle cx="205.7" cy="156.4" r="1.6"/><circle cx="196.5" cy="139.7" r="1.6"/><circle cx="83.8" cy="84" r="1.6"/><circle cx="124" cy="92.8" r="1.6"/></g>
<circle cx="150.3" cy="122" r="3.4" fill="#ea4a12"/>
<text x="148" y="136.6" style="font-size:12.5px;fill:#fff">玉树</text>
</g>
<g transform="translate(428.5 294.6)">
<text x="221.2" y="25.9" style="font-size:12.6px"><tspan font-style="italic">z</tspan>=9</text>
<path d="M0 0V247.7H315.1M0 0h3.6M0 27.5h3.6M0 55h3.6M0 82.6h3.6M0 110.1h3.6M0 137.6h3.6M0 165.1h3.6M0 192.7h3.6M0 220.2h3.6M0 247.7h3.6M0 247.7v-3.4M63 247.7v-3.4M126 247.7v-3.4M189.1 247.7v-3.4M252.1 247.7v-3.4M315.1 247.7v-3.4" stroke="#222" stroke-width="1.05" fill="none"/>
<text x="-4.1" y="5.3" text-anchor="end">34°N</text>
<text x="-4.1" y="32.8" text-anchor="end">33.8°N</text>
<text x="-4.1" y="60.3" text-anchor="end">33.6°N</text>
<text x="-4.1" y="87.9" text-anchor="end">33.4°N</text>
<text x="-4.1" y="115.4" text-anchor="end">33.2°N</text>
<text x="-4.1" y="142.9" text-anchor="end">33°N</text>
<text x="-4.1" y="170.4" text-anchor="end">32.8°N</text>
<text x="-4.1" y="198" text-anchor="end">32.6°N</text>
<text x="-4.1" y="225.5" text-anchor="end">32.4°N</text>
<text x="-4.1" y="250.5" text-anchor="end">32.2°N</text>
<text x="-0.1" y="262" text-anchor="middle">95.5°E</text>
<text x="62.9" y="262" text-anchor="middle">96°E</text>
<text x="125.9" y="262" text-anchor="middle">96.5°E</text>
<text x="189" y="262" text-anchor="middle">97°E</text>
<text x="252" y="262" text-anchor="middle">97.5°E</text>
<text x="315" y="262" text-anchor="middle">98°E</text>
</g>
<g transform="translate(58.7 572.5)">
<path d="M63 0V247.7M126.1 0V247.7M189.1 0V247.7M252.2 0V247.7M315.2 0V247.7M0 0H315.2M0 27.5H315.2M0 55H315.2M0 82.6H315.2M0 110.1H315.2M0 137.6H315.2M0 165.1H315.2M0 192.7H315.2M0 220.2H315.2" stroke="#dadada" stroke-width="0.8" stroke-dasharray="1 2.2" fill="none"/>
</g>
<g transform="translate(59 573.3)">
<g clip-path="url(#quad)">
<path fill="#3cb44a" d="M82.1 16.4L282.1 93.6L218.9 230.4L20.9 151.5Z"/>
<path fill="#28b14f" d="M75.7 1L78.9 0L85.1 0L89 0.9L112 9.4L117 11.5L122 14.4L127 18.6L141 33.4L143 37L147.8 49L150.4 53L153 56L156 58.7L159 60.8L170 66.7L176.3 71L184.3 78L188.5 83L189.5 85L190.1 88L190.2 91L189.7 95L188.3 100L183 112.2L182.1 116L181.7 120L182.2 127L185.2 140L186.5 147L187 153L186.9 158L186.2 162L184.6 166L182.1 169L180 170.6L178 171.6L175 172.5L172 172.7L169 172.4L166 171.6L162 169.9L159 168L156 165.5L153.8 163L151.8 160L148.8 153L146.9 145L146.2 134L145.6 130L144.3 126L142.5 122L139.2 117L137 114.7L133.6 112L116 100.7L108 96.2L88 86.2L81 81.8L79 79.8L77.9 78L73.6 65L71 59.6L67 54.7L59.5 48L57.9 46L56.6 43L56.2 38L56.7 34L58.6 28L63.7 16L67.3 9L71 4.2L73 2.5ZM236.1 77L238 76.2L240 76.1L250 78.6L255 77.6L280 85.6L284 87.8L285.9 90L286.8 93L286.6 95L286 97L284.1 100L282 101.8L279 102.9L276 103L272 102.3L264 100.5L244 95.6L240 94.3L237 92.7L235.1 91L233.8 89L233.2 87L233 84L233.5 81L234.2 79ZM31.6 133L34 132.4L36 132.6L38 134L39 135.6L40 138.3L40.9 143L42 155L41.8 158L41.2 161L39.1 165L36 168L34 169L32 169.3L30 169L27 167.6L24 165.3L21 162.1L19 159.5L17.5 157L16.5 154L16.2 151L16.6 148L17.2 146L18.7 143L20.2 141L25 136.8L29 134.2Z"/>
<path fill="#0dab6a" d="M77.5 3L80 2.4L83 2.2L86 2.6L90 3.6L113 12.3L118 14.7L121 16.5L126 21L140 36.5L142 39.5L147.8 51L150 54.1L152.6 57L158 61.4L168.6 67L173.2 70L179 75L183.1 80L184.7 83L185.4 86L185.5 89L185.2 93L183.6 99L180 107.8L178.1 114L176.8 121L176.3 127L176.9 131L180.3 140L181.7 145L182.7 151L182.7 156L181.9 160L180.7 163L178.3 166L176 167.6L174 168.5L171 169.2L169 169.3L166 169L161 167.1L158 165L156 163.1L154 160.4L152.1 157L150.6 153L149.6 149L148.9 142L149.8 133L149.5 129L148.3 126L146.6 123L142.5 117L138.3 113L133.8 110L112.8 97L90 84.6L85 81.6L82 79.3L80 77.4L78 74.3L73.9 64L71.2 59L69 56L60.6 47L59.5 45L58.9 43L58.5 39L59.1 34L60.6 29L65.3 18L69.5 10L73 5.7L75 4.2ZM238.6 78L240 77.6L242 77.6L244.8 78L250 79.4L254 79.8L278 87.6L281 89L283.1 91L283.8 93L283.4 96L282 98.3L280 99.7L278 100.3L275 100.3L247 93.8L241 92L239 91L236.7 89L235.6 87L235 85L235 83L235.5 81L236.9 79Z"/>
<path fill="#00a887" d="M81.2 4L84 4L87 4.5L94 6.7L114 14.5L118 16.5L121 18.5L125.8 23L138.7 38L142 42.8L147.3 52L152 57.9L155 60.6L158 62.7L168 67.9L172 70.5L176.9 75L179.9 79L181.3 82L182.1 86L182 91L181.1 96L172.5 119L171 122.1L166.7 128L166.8 129L167.4 130L173 135.6L175.5 139L177.5 143L178.9 148L179.4 153L178.8 158L176.9 162L175 164L173.6 165L171 166.1L168 166.5L165 166.2L162 165.2L159 163.4L157 161.4L155.2 159L153.7 156L152.6 153L151.6 149L151.2 145L151.4 142L152 139.3L153 136.7L155 133.4L157.6 130L158 129L157.9 128L157.1 127L151 121.8L144 115L140.1 112L126 103.8L110.5 94L88 81.4L83 77.9L80.9 76L78.7 73L73.6 62L71.2 58L63.5 49L62.1 47L61.1 45L60.3 42L60.1 39L60.3 36L61.5 31L65.7 21L69.6 13L73 8.1L75 6.3L77 5.1L79 4.4ZM239.9 80L243 79.5L246.5 80L253.7 82L275.1 89L278 90.2L280 91.6L280.9 93L280.9 95L280 96.5L279 97.3L277 97.9L275 97.9L265.7 96L243 90.3L241 89.4L239.1 88L238 86.6L237.4 85L237.4 83L237.7 82L238.4 81Z"/>
<path fill="#00a9a6" d="M78.7 6L81 5.4L84 5.4L90 6.7L111 14.6L116 16.9L120 19.4L123 21.9L125.9 25L136.7 38L140.4 43L147.4 54L152 59.4L157 63.5L169.3 70L173 73L175.7 76L177.6 79L179 83L179.4 88L178.9 93L177.4 98L172.1 111L170 114.6L168 116.7L165 118.4L161 119.1L156 118.7L152 117.2L139.9 110L128 103.7L109.5 92L89 80.4L83 76.2L80 73L78 69.9L72.5 59L70 55.6L65.3 50L63.3 47L62 44L61.3 40L61.6 36L62.9 31L65.7 24L69.4 16L71.7 12L74 9.1L76 7.4ZM243.2 83L246 83L252.8 85L269.9 91L272.2 92L273.5 93L272 93.4L268.2 93L246.2 88L243.6 87L242 85.6L241.7 85L241.8 84ZM159.3 137L161 136.5L164 136.5L168 137.7L170 138.9L172 140.7L174.7 145L175.7 148L176.2 151L175.9 156L175.2 158L174 160.2L172.1 162L170.3 163L168 163.6L166 163.7L164 163.3L162 162.6L160 161.3L158 159.4L155.5 155L153.9 149L154 144L154.9 141L156 139.4L157.4 138Z"/>
<path fill="#02a8c0" d="M79.7 7L82 6.6L85 6.7L91 8.2L111 15.8L115 17.6L119 20L123.5 24L130.3 32L138.8 43L146.9 55L152 61.1L157 65.1L165.1 69L168.4 71L170.9 73L172.8 75L174.9 78L176.3 82L176.8 87L176.4 92L175 97L171 106.1L169 109.8L167 112.1L165 113.4L163 114.2L158 114.8L155 114.5L152 113.7L146 111.4L132 104.6L126 101.3L109.9 91L88 78.5L84 75.6L81 72.6L78.4 69L72.5 58L66.2 50L64.3 47L63.1 44L62.4 40L62.7 36L63.6 32L66.4 25L70.7 16L73 12.2L75 9.8L77 8.2ZM159.8 142L161 141.4L163 141.1L166 141.6L169 143.5L171 146L172.5 150L172.6 154L171.6 157L170 158.9L169 159.5L166 160.3L163 159.7L160.5 158L158.4 155L157.1 151L156.9 147L157.8 144Z"/>
<path fill="#08a6d5" d="M80.5 8L83 7.7L85 7.8L92 9.7L112 17.3L116 19.3L119 21.2L123.1 25L129.9 33L136.5 42L146 55.7L151 61.7L156 66.1L166 71.3L168.5 73L170.5 75L172.5 78L173.8 82L174.2 86L173.9 91L172.8 95L171 99.1L167.3 106L165 108.8L163 110.1L160.4 111L157 111.4L154 111.3L147 109.8L138 106.3L127 100.8L110.1 90L90 78.5L85 75.1L81 71.2L78.7 68L73.1 58L67.1 50L65.3 47L63.8 43L63.4 39L63.8 35L65.4 30L68.3 23L71.8 16L74 12.6L76 10.4L78 9ZM163 149L164 148.5L165 148.7L166 149.6L166.6 151L166.6 152L166 153.3L165 153.7L164 153.5L163 152.5L162.5 151Z"/>
<path fill="#0d9ddd" d="M81 9L83 8.8L86 9L92 10.7L112 18.3L116 20.3L119 22.4L123 26.2L128.7 33L144.9 56L151 63.5L156 67.9L165.1 73L168.4 76L170.2 79L171 82L171.3 86L170.9 90L170 93.2L168.1 97L164.4 103L162 105.8L160 107.1L157.5 108L154 108.6L151 108.7L148 108.3L144 107.4L136 104.4L127 99.8L110.2 89L90 77.4L85 73.9L81.1 70L79 67L73.7 58L66.7 48L65 44L64.3 39L64.7 35L65.9 31L68.9 24L72.3 17L74.2 14L76 11.9L78 10.2Z"/>
<path fill="#128dd8" d="M81.5 10L84 9.8L86 10L94 12.4L112 19.3L116 21.4L119 23.5L123 27.4L128.4 34L142.1 54L149 62.9L154 68.2L162.8 75L164.8 77L166 79L166.9 82L167.1 86L166.7 89L165.3 93L162.7 98L160 102L158.1 104L156 105.3L154 106.1L151 106.7L148 106.8L142 105.6L134 102.5L127 98.9L111.8 89L90 76.4L85 72.8L81.3 69L79 65.7L74.4 58L67.5 48L65.8 44L65.1 39L65.6 35L66.8 31L69.8 24L72.8 18L75 14.6L77 12.3L79 10.9Z"/>
<path fill="#187dd3" d="M81.9 11L85 10.9L90 12L106 17.8L113 20.7L116 22.4L119 24.7L122 27.5L125.8 32L129.6 37L137 48.4L143 57L150 65.8L158.4 75L160.5 78L161.4 80L162.2 83L162.6 86L162.4 89L161.8 92L160.4 96L158.8 99L157.4 101L155.3 103L153 104.3L151 105L149 105.3L146 105.3L140 103.9L133 101.1L126 97.3L110 87L90 75.5L85 71.7L81.5 68L68.3 48L66.6 44L66 39L66.5 35L67.7 31L70.2 25L73.3 19L75.1 16L77 13.7L79 12.1Z"/>
<path fill="#1f6cc9" d="M82.5 12L86 12L90 13L106.6 19L113 21.7L116 23.5L119 25.8L122 28.7L125.6 33L129.3 38L136 48.7L141 55.9L147 63.9L155.3 74L157.2 77L158.6 80L159.5 83L160 86L160 89L159.5 92L158.6 95L157.1 98L155.7 100L154 101.7L152 103L150 103.7L146 104.1L140 103L133 100.2L126 96.4L111 86.7L91 75.2L86 71.5L82 67.4L69.1 48L67.2 43L66.8 39L67.3 35L68.6 31L71.1 25L74 19.5L76 16.4L78 14.2L80 12.8Z"/>
<path fill="#285bbc" d="M83.3 13L87 13.3L91 14.3L106.7 20L112 22.2L115 23.8L118 26L121.2 29L125 33.5L129 39L137 52L143 60.3L152.8 73L156.3 79L157.4 82L158 85L158.3 88L158 91L156.5 96L155 98.4L153 100.6L151 101.9L149 102.6L145 103L139 101.8L132 98.9L126 95.5L111.4 86L91 74.2L86 70.5L82 66.2L69.9 48L68 43L67.6 39L68.1 35L69.4 31L72 25.1L75 19.5L77 16.7L79 14.7L81 13.5Z"/>
<path fill="#3049ae" d="M80.6 15L84 14.1L88 14.6L93 16.1L109 21.9L113 23.7L116.6 26L120 29L123 32.3L128 39L137.3 54L151.4 73L154.7 79L156.6 85L156.8 90L156.2 93L155 95.9L153.7 98L152 99.7L150 101L148 101.7L144 101.9L139 100.9L132 98L126.6 95L112 85.5L92 73.9L87 70.3L83 66.3L80 62.3L71.3 49L69.1 44L68.4 40L68.6 37L69.3 34L73 25L77 18.3L79 16.1Z"/>
<path fill="#36399e" d="M81.4 16L83 15.5L85 15.3L89 15.9L109.2 23L113 24.8L116.4 27L119.8 30L123 33.5L127 39L136.1 54L150 73L153.4 79L155.3 85L155.5 90L154.9 93L154.1 95L152.9 97L151 98.9L149 100.1L147 100.7L143 100.8L138 99.6L132 97.1L126.5 94L112 84.6L92 73L87 69.3L83 65.1L80 61L72 48.8L69.9 44L69.3 40L69.4 37L70.1 34L72 29.1L73.9 25L76 21.4L78 18.7L80 16.8Z"/>
<path fill="#3b298f" d="M82.5 17L85 16.6L89 17.2L109 24L113 25.9L116 27.9L119 30.4L122.3 34L126.7 40L135.7 55L148.8 73L152.1 79L154.1 85L154.3 90L154 92L153 94.5L152 96.2L150.2 98L147 99.6L143 99.9L138 98.7L132 96.2L126.4 93L113 84.2L92 72L87.9 69L84 65L80 59.7L73 49L70.8 44L70.1 40L70.3 37L71.1 34L73 29L75 25L77 21.8L79 19.3L81 17.7Z"/>
<path fill="#3b2385" d="M81.6 19L83 18.4L85 18.1L89 18.5L108 24.8L112 26.6L115 28.4L118 30.8L121 33.8L125 39L133.2 53L147 72.3L150.9 79L152.7 84L153.2 89L152.4 93L151.4 95L150 96.6L147 98.4L143 98.9L138.6 98L133 95.8L128 93L113 83.2L93.5 72L89 68.8L85 64.9L81 59.8L74 49.2L72.1 45L71.1 41L71.5 36L74 29.1L76 25.3L78 22.3L80 20.1Z"/>
<path fill="#3b2080" d="M83.4 20L86 19.7L90 20.3L98.9 23L109 26.5L112.2 28L115.3 30L118 32.2L121 35.3L125 40.7L133.3 55L146 72.7L149.7 79L151.5 84L152.1 89L151.1 93L149 95.9L146 97.5L142 97.7L138 96.8L132 94.2L128 92L114 82.8L93.6 71L89 67.6L85 63.6L80 56.9L74.9 49L72.7 44L72.1 40L72.3 37L73 34.4L76 27.5L78 24.3L80 22L82 20.6Z"/>
<path fill="#3b2080" d="M83.2 22L86 21.5L90 22L108 27.6L111.2 29L114.6 31L117 32.8L120 35.8L124 41.1L132.6 56L144.8 73L148.4 79L150.3 84L150.9 88L150.1 92L149 94L148 95L145 96.4L142 96.6L137 95.4L132 93.1L114 81.6L93.9 70L89.8 67L86 63.2L81 56.7L76 49L74.2 45L73.3 41L73.3 39L73.7 36L76 30L79.3 25L81 23.3Z"/>
<path fill="#62bb46" d="M146.6 32L148 31.3L150 31.4L160 34.5L221 58.5L236 64.6L251 71.2L252.2 72L253 73L253.4 74L253.3 75L252 76.7L250 77.5L248 77.2L241.4 75L237.2 74L235 73.7L232.7 74L231.6 75L231 76.3L228.8 84L228 85.3L227 86.2L225 86.9L222 86.9L218 86.3L205 83.4L198 81.3L194 79.6L188 76.2L172.4 66L160 59L154 54.3L152 52L150 49L148.4 45L147.5 41L145.3 37L145.3 34L145.7 33ZM53.4 52L56 51.1L58 51.1L60 51.6L63 53.2L66 55.5L68.5 58L70.6 61L72 64L73.8 71L74 74L73.8 77L72.7 80L71.2 82L69 83.8L67 84.8L64 85.7L61 86L58 85.6L55 84.6L52 82.7L49 80L47.4 78L45.8 75L45.1 72L44.9 69L45.4 66L46.3 63L49.6 56L51.1 54ZM74.6 94L82 94.3L90 95.7L101 98.6L110 101.8L117 105.3L124.1 110L131 115.4L135.2 120L137.5 124L139.4 129L143.9 149L146 155L148.4 160L151 164.3L154 168L157 170.9L165.6 178L169.2 182L173.5 189L176.4 196L177.5 201L178 206L177.8 214L177.2 221L176.5 225L175 229L173 231.9L171 233.7L167 235.6L164 236.1L161 236.2L154 235.1L145 232.4L59 197.4L54 194.8L50 192.2L47.5 190L45 187L43.2 183L42.8 181L42.7 178L43.5 174L47 163.6L47.6 160L47.7 156L47.2 149L45.4 135L42.3 121L42.2 117L43.1 113L44.4 110L47 106.2L50 103.3L53 101.2L58 98.6L64 96.2L70 94.5ZM201.4 208L210 208.6L218 210.2L221 211.5L223 212.8L226 215.8L227.5 218L229.6 223L231.4 229L232.1 233L232.2 236L231.7 239L230.8 241L229 243.2L226 244.9L223 245.6L219 245.4L215 244.5L208 242.5L203 240.5L199 237.9L196.3 235L193.4 230L191.6 225L190.5 220L190.7 216L191.8 213L194 210.5L197 208.8Z"/>
<path fill="#96c937" d="M146.6 33L148 32.2L150 32.2L160 35.5L216 57.4L250 71.5L252.2 73L252.6 74L252.6 75L252 76L251 76.8L249 77L235.5 73L232 72.5L230 72.6L229.3 73L229 73.8L228 79.8L227 82L226 83L225 83.5L223 83.9L219 83.5L204 80.5L195 77.8L186 73.4L172 64.6L162 59.1L158 56.4L155 53.9L153 51.8L151.1 49L149.8 46L148.8 41L145.9 37L145.7 35ZM56.1 53L58 52.7L60 52.9L62 53.6L65 55.5L67 57.2L69.3 60L70.9 63L72 66L73 72L72.8 75L72.2 77L71 79.2L69.2 81L67 82.4L65 83.2L63 83.6L60 83.7L58 83.4L55 82.1L52 80L50.1 78L48.7 76L47.4 73L47.1 70L47.3 67L49.3 61L52.2 56L54 54.2ZM69.9 98L77 97.2L85 97.8L98 100.4L108 103.3L115 106.3L121 110L127.4 115L132.3 120L134.9 124L136.6 128L138.2 133L142.1 149L144.3 155L146.7 160L149 164L152 168.1L161.8 178L165.1 182L169.3 189L172.3 196L173.4 200L174.1 205L174.2 211L173.8 218L173.1 222L172.2 225L170.6 228L168.7 230L167 231.1L164.6 232L162 232.4L159 232.5L153 231.6L145 229.2L64 196.4L58 193.5L55 191.7L51.5 189L49 186.3L47.2 183L46.3 179L46.6 174L49.4 163L49.9 157L49.4 151L48 139.2L45.6 123L45.5 119L46 116L47 113L48.6 110L50.2 108L53 105.4L56 103.4L60 101.3L65 99.3ZM197.9 211L201 210.2L204 210.1L213 211.1L219 212.9L221 214L223 215.6L225 218L226.6 221L228.4 226L229.6 231L230 234L229.7 237L229.1 239L227.6 241L226 242.2L223 243.2L220 243.3L216 242.6L209 240.6L205 239.1L202 237.5L199 235L196.8 232L195.3 229L193.5 224L192.8 220L192.9 217L194 214.2L196 212Z"/>
<path fill="#c2d723" d="M147.6 33L149 32.7L150 32.8L159 35.8L220 59.6L250 72.1L251.4 73L252 74L252 75L251 76.2L249 76.6L233.6 72L229 70.9L226 70.9L225.7 72L226.1 76L225.5 79L224 80.6L221 81.1L203 78.4L198 77L193 75.2L184 70.8L163.9 59L159.2 56L155.5 53L153 50.1L151.7 48L151 46L150.4 42L150 41L147 38L146.4 37L146.2 35L146.6 34ZM58.1 54L60 54L62 54.6L65 56.3L67 58.1L70 62.4L71.1 65L71.8 68L72 73L71.7 75L70.8 77L69.3 79L68 80.1L66 81.2L63 82.1L61 82.2L58 81.8L54 79.7L52 78L50.5 76L49.4 74L48.8 72L48.6 70L48.8 67L49.7 64L51.4 60L54.3 56L56 54.7ZM72.1 100L79 99.6L88 100.5L99 102.7L109 105.7L115 108.4L121 112.2L126.8 117L131 121.7L133 125L134.8 129L140.4 149L142.2 154L145 160L150 168.1L159.6 179L162.6 183L166.6 190L169.5 197L170.6 201L171.2 206L171.3 211L171 217L170.3 221L169.3 224L168 226L166 227.9L164 229L162 229.6L157 229.9L151 228.9L144 226.7L65 194.5L60 192.1L56.5 190L54 188L51.3 185L49.7 182L48.9 178L49.3 173L51.5 163L51.8 158L51.3 151L48 125L47.9 121L48.4 117L49.4 114L51.1 111L53 108.8L56 106.3L60 103.9L64 102.2L68 100.9ZM200.1 212L205 211.6L214 212.8L219 214.5L222.3 217L223.9 219L225.4 222L227.2 227L228.1 231L228.4 234L228.2 236L227.6 238L226 240L224 241.2L222 241.7L219 241.7L216 241.1L210 239.5L205 237.5L202 235.7L200 233.9L197.9 231L196.4 228L194.8 223L194.4 220L194.7 217L195.6 215L197.7 213Z"/>
<path fill="#e7e508" d="M147.2 34L148 33.4L150 33.3L157 35.5L208 55.3L231 64.5L249 72.2L251 73.5L251.4 74L251.4 75L250.4 76L249 76.2L228.5 70L221 68.4L220 68.5L219.6 69L222 72.6L222.6 75L221.9 77L220 77.8L205 77.1L199 75.8L193 73.7L187 71L181 67.8L162.8 57L157 52.9L155 50.9L153 48L152.2 46L151.7 42L151 41L148 38.4L146.9 37L146.7 35ZM56.3 56L58 55.3L60 55.1L62 55.5L64 56.5L66 58L67.8 60L70 64L71.2 69L71.2 72L70.9 74L70.1 76L69 77.5L67 79.2L65 80.3L63 80.8L60 80.9L58 80.4L56 79.6L52.8 77L51.3 75L50.4 73L49.8 69L50.6 65L51.8 62L53.4 59L55 57.1ZM72 102L79 101.6L88 102.4L98 104.4L108 107.2L114 109.8L119 112.8L124.3 117L128.9 122L131.4 126L133.2 130L138.6 149L142.8 159L148.1 168L156.9 179L160.4 184L164.3 191L166.9 197L168 201L168.6 205L168.8 210L168.6 216L168.1 219L167.2 222L166 224L164 225.9L162 227L160 227.5L155 227.7L150 226.8L143 224.5L67 193.6L59 189.4L56 187.1L54 185L52.2 182L51.2 178L51.3 174L53.2 164L53.6 158L53.2 152L50 126L49.9 122L50.4 118L51.4 115L53 112.1L54.8 110L57.1 108L60 106.2L64 104.3L68 102.9ZM201.9 213L207 212.9L215 214.3L219 216L221.5 218L223 220L224.6 223L225.9 227L226.8 231L227 234L226.7 236L226 237.6L225 238.8L223 240L221 240.4L218 240.2L215 239.7L210 238.2L206 236.7L203 234.9L200.9 233L198.7 230L197.3 227L196.1 223L195.7 220L196.2 217L197.6 215L199 213.9Z"/>
<path fill="#f6db00" d="M147.9 34L149 33.6L150 33.7L159 36.6L216 58.9L235 66.6L249 72.8L250.7 74L250.7 75L250 75.5L248 75.4L220.6 67L216 66L215 66.4L214.8 67L216.3 71L215.9 73L214.8 74L212 75.1L208 75.7L204 75.4L199 74.3L192 71.9L186 69.2L180.2 66L163.5 56L157.9 52L155.8 50L154.5 48L153.7 46L153.6 43L153 42L147.4 37L147.1 36L147.2 35ZM56.9 57L58 56.5L60 56.1L62 56.5L64 57.4L66 58.9L67.7 61L69.7 65L70.5 70L69.8 74L68 77L66 78.5L64 79.4L62 79.8L60 79.7L58 79.2L56 78.2L53 75.5L51.3 72L51 68L52.1 64L54.1 60L55.7 58ZM70.8 104L78 103.3L86 103.9L96 105.6L107 108.6L113 111.1L118 114.1L123 118.1L127.5 123L130 127L131.7 131L136.9 149L141.1 159L146.9 169L155.1 180L158.5 185L161.8 191L164.4 197L165.6 201L166.2 205L166.5 214L166.1 217L165.3 220L164 222.4L162.4 224L159 225.5L155 225.9L150 225.1L143 222.9L68 192.3L63.1 190L60 188.1L57.4 186L55.6 184L53.9 181L53.2 177L53.4 173L55.2 163L55.4 158L55 152L51.8 128L51.7 123L52.1 119L53.1 116L54.1 114L55.6 112L58 109.7L61 107.7L64 106.2ZM203.5 214L209 214.2L215 215.4L218.6 217L221 219.1L223.4 223L225.5 230L225.8 233L225.6 235L225 236.5L224 237.8L222 238.9L220 239.2L217 238.9L214 238.3L209 236.7L206 235.5L203.6 234L201.4 232L199.4 229L197.7 225L197 222L197 219L197.8 217L199 215.6L201 214.5Z"/>
<path fill="#fcc501" d="M147.7 35L149 34.1L151 34.4L166 39.7L230 65L246 72L249.8 74L249.4 75L248.5 75L219 65.8L215.9 65L213 64.6L211.2 65L212.9 69L212.7 71L211 72.9L209 73.7L206 74.1L203 73.8L199 72.8L193 70.8L186.5 68L181 65L164.8 55L159.2 51L156.5 48L155.9 46L156 44L155.4 43L148 37.1L147.5 36ZM57.5 58L59 57.3L61 57.2L64 58.3L67 61.1L68.9 65L69.6 70L69 73.5L68.2 75L67 76.5L64 78.3L62 78.7L60 78.6L57 77.6L54 75L52.4 72L52 69L52.8 65L55 60.5ZM75.8 105L83 105.1L91 106.2L100 108.1L108 110.6L113 112.8L118 116L122.7 120L126.2 124L128.1 127L129.9 131L135.6 150L139.3 159L145 169L156.7 186L159.9 192L162.1 197L163.3 201L164 205L164.4 213L164 216L163.2 219L162 221L161 222.1L158 223.6L154 224.1L149 223.3L143 221.3L70 191.7L62 187.6L59 185.2L57.1 183L55.6 180L55.1 177L55.3 173L57 163L57.2 158L56.7 152L53.5 128L53.4 123L54 119L55.1 116L56.3 114L58 112L61 109.6L64 108L68 106.4L72 105.4ZM200.7 216L204 215.1L210 215.4L215 216.5L217 217.3L219 218.6L220.4 220L221.8 222L224 228L224.7 233L224.2 235L223.7 236L222.7 237L221 237.8L219 238L216 237.7L208 235.3L205 233.7L203 232.1L201.2 230L200 228L198.8 225L198.2 222L198.1 220L198.7 218L199.4 217Z"/>
<path fill="#f8a60b" d="M148.5 35L150 34.7L154.8 36L176 43.9L231.3 66L240.2 70L244 72.2L243 72.4L240.7 72L233.5 70L218 64.9L204 61.6L202 60.9L200.6 61L202 61.5L207 64.4L209.8 67L210.4 69L210.1 70L209.4 71L207 72.2L204 72.3L199 71.2L192.5 69L185.9 66L180.7 63L164.7 52L162.5 50L161.9 49L162 48.6L163 48L164 47.8L164.3 47L158 43.6L149.7 38L148.6 37L148.1 36ZM58 59L59 58.5L61 58.2L64 59.3L66.7 62L67.8 64L68.4 66L68.8 70L68 73.3L66 75.9L63 77.4L60 77.5L57 76.3L54.6 74L53.2 71L53.1 68L54 64.7L55.9 61ZM72.4 107L79 106.5L87 107.1L96 108.7L105 111.2L111 113.6L115.3 116L120 119.6L124.2 124L126.8 128L128.6 132L133.9 150L138.1 160L143.7 170L155 187L157.7 192L159.9 197L161.8 204L162.3 212L161.5 217L160.5 219L159 220.7L156.2 222L153 222.3L149 221.7L143 219.8L73 191.5L63.9 187L61.2 185L59.3 183L57.6 180L57 177L57.1 173L58.8 163L58.9 158L58.4 152L55.3 130L55.1 125L55.4 121L56.2 118L57.2 116L58.6 114L60.6 112L63 110.4L66 108.9ZM201.5 217L203 216.4L205 216.1L210 216.4L215 217.5L218 219.1L220.6 222L222.7 227L223.5 232L223.2 234L222.7 235L221.7 236L220 236.7L216 236.6L209 234.6L206 233.2L204.4 232L202.4 230L201.2 228L200 225.3L199.4 223L199.3 221L199.7 219L200.3 218Z"/>
<path fill="#f48714" d="M148.8 36L150 35.3L153.3 36L159.5 38L175.2 44L208.2 57L229.9 66L236.4 69L236 70L205 60.6L177 50.7L158 42.6L150.6 38L149.3 37ZM178.8 57L181 56.8L185.8 58L199.4 63L205.4 66L206.5 67L207 67.9L206.9 69L206 69.7L205 70.1L202 70L198.1 69L192.7 67L188.5 65L183.6 62L179.9 59L179.1 58ZM58.7 60L61 59.4L63 59.9L64 60.5L66.3 63L67.5 66L67.8 70L67 73L65.4 75L63 76.3L60 76.4L58 75.6L56 74L54.4 71L54.2 68L55 65L56.6 62ZM236 70L237 69.8L237.7 70ZM70.8 109L77 108.2L85 108.5L94 109.9L102.3 112L109 114.4L114 117L119 120.8L122.9 125L125 128.2L127 132.6L132.5 151L136.2 160L141.7 170L153.3 188L156 193L158.1 198L159.7 204L160.3 211L160 214L159.5 216L158.3 218L157.4 219L155 220.2L151 220.4L147 219.6L142 217.9L76 191.4L66 186.5L63 184.4L61 182.4L59.6 180L58.8 177L58.9 173L60.6 163L60.7 158L60.2 152L57.1 130L56.8 126L57.1 122L58.2 118L59.3 116L61 114L65.3 111ZM202.5 218L204 217.4L206 217.1L211 217.6L215 218.7L218 220.5L220 223L221.9 228L222.3 232L221.6 234L220.5 235L219 235.5L215 235.4L209 233.5L205 231.2L202.3 228L200.7 224L200.5 222L200.8 220L201.3 219Z"/>
<path fill="#ef6c12" d="M150.6 37L151 36.3L155 36.9L166.3 41L207 57L225.6 65L226 65.6L227.5 66L225.6 66L225 65.6L209 61.1L178 50.2L158.1 42L152.9 39ZM59.6 61L62 60.8L64 61.8L65.8 64L66.7 67L66.8 70L66 72.4L64 74.5L62 75.2L60 75.1L57.7 74L56 72L55.4 70L55.4 68L56.2 65L58 62.2ZM75.2 110L81 109.9L89 110.7L96 112L104 114.3L109 116.2L114 119L118 122.2L121.5 126L123.4 129L125.3 133L130.7 151L134.8 161L140.2 171L152 189.7L156 198L157.7 204L158.2 210L157.6 214L157 215.5L155.9 217L154.3 218L153 218.4L150 218.5L146 217.6L141.2 216L110 203.3L78.3 191L68.1 186L65.1 184L63 182L61.3 179L60.7 176L60.8 173L62.4 163L62.6 158L62 151L58.9 130L58.6 126L59 122L59.9 119L61 117L64 113.9L66 112.6L69 111.3ZM203.7 219L207 218.3L211 218.7L215 219.9L217 221.2L219.3 224L220.7 228L221 231L220 233.3L218 234.3L214 234L209 232.3L205.3 230L203.1 227L202 224L202 221L202.5 220Z"/>
<path fill="#ea5310" d="M153.1 38L154 37.6L156.6 38L165.1 41L207.9 58L214.3 61L214 61.2L212 61.1L208 60L177 49.1L159.6 42L155.7 40ZM59.3 63L61 62.3L63 62.8L64.3 64L65.3 66L65.6 69L65.1 71L64 72.6L62 73.7L60 73.6L58.8 73L57.8 72L56.8 70L56.8 68L57.2 66L58 64.5ZM74.4 112L80 111.7L88 112.4L96 113.9L103 115.9L108 117.8L112.1 120L116.1 123L119.8 127L122 130.4L123.6 134L129.4 153L133.1 162L138.5 172L150 190.5L153.7 198L155.2 203L155.9 208L155.6 212L155 213.5L153.9 215L152 216.1L149 216.3L146 215.7L140.8 214L112 202.4L79.3 190L69.6 185L66.7 183L64.7 181L63.6 179L62.8 176L63 172L64.4 163L64.6 157L63.9 150L61 131L60.7 127L60.9 123L62.2 119L63.6 117L65 115.7L69 113.4ZM205.5 220L208 219.6L211 219.9L214 220.8L216 222L217.8 224L219.1 227L219.4 230L219.2 231L218.6 232L217 232.8L216 232.9L213 232.4L209 231L206.1 229L204 226L203.4 223L204 221Z"/>
<path fill="#e74e0f" d="M157.6 40L158 39.6L159 39.7L163.2 41L181.2 48L188.3 51L189 51.6L190.7 52L190 52.4L188 52.1L178.9 49L161.4 42ZM190.8 53L191 52.6L193 53ZM60.3 65L61 64.7L62 64.7L63 65.5L63.7 67L63.8 69L63.5 70L63 70.8L62 71.4L61 71.6L60 71.2L58.9 70L58.7 69L58.9 67ZM77.4 114L83 114.1L90 114.9L95.5 116L102.3 118L107.4 120L111 122L114.9 125L118 128.4L120 131.6L121.5 135L127.3 154L131.5 164L136.3 173L148 191.9L151 198L152.6 203L153.2 208L152.6 211L152 212L151 212.9L149 213.6L147 213.5L142 212.2L113 200.6L85 190.9L78.2 188L72.8 185L68.6 182L66.8 180L65.4 177L65.1 174L66.8 162L66.8 155L63.3 131L63 127L63.2 124L63.7 122L64.6 120L66 118.1L67.3 117L71.4 115ZM206.4 222L208 221.4L210 221.4L212.8 222L214.6 223L216 224.3L217 226L217.5 228L217 230L216 230.7L214 230.9L211 230.2L208.6 229L206.5 227L205.6 225L205.6 223Z"/>
<path fill="#e4490e" d="M72.9 118L78 117.2L84 117.3L90 118L98 119.9L104.1 122L108.2 124L112 126.7L115 129.8L117.1 133L118.8 137L124.3 155L128.4 165L133.7 175L145 193.3L147.8 199L148.8 202L149.2 205L149 207.2L148 208.8L146 209.5L142 208.9L115 198.4L99 194.2L86.7 190L81 187.7L76 185L71.9 182L70 180L68.7 178L67.9 175L68 171L69.8 160L70 155L69.4 149L66.9 133L66.4 127L66.8 124L68 121.4L70 119.4ZM209.8 225L211 224.6L212.3 225L213.3 226L213.3 227L212 227.4L210.8 227L209.8 226Z"/>
<path fill="#d64415" d="M89 142L90 141.2L92 141.3L97 142.7L100 144.2L106 149.5L112 156.4L115 161L117.7 166L121.9 177L123.7 183L124.2 186L123.7 188L122.7 189L118.9 191L116.3 192L112.2 193L107 193.4L102 192.9L94 190.8L83 186.9L77.7 184L75.2 182L73.3 180L71.6 177L70.9 173L71.5 168L73 162.9L75 158.6L79 152.5Z"/>
<path fill="#c6401d" d="M80.9 162L83 161.5L86 161.4L95 162.5L101 164.2L103 165.2L105.6 167L107.4 169L108.7 171L109.9 174L110.7 177L111.2 181L111 184L110.4 186L109.2 188L107 189.6L105 190.3L102 190.4L98 189.9L91 188L85.3 186L81.2 184L78.4 182L76.5 180L74.8 177L74.1 174L74.2 171L75 167.8L76.6 165L78.7 163Z"/>
<path fill="#b23c24" d="M82 166L84 165.5L87 165.3L94 166.2L99 167.6L102.9 170L105.3 173L106.2 175L106.9 178L107.1 181L106.8 183L106 185L105.2 186L103.7 187L102 187.5L99 187.6L96 187.2L91 185.9L86 184.1L83 182.6L80.8 181L79 179L77.9 177L77.4 175L77.3 173L77.6 171L78.4 169L80 167.2Z"/>
<path fill="#a83a28" d="M86.3 169L90 169L94 169.7L97.9 171L100 172.4L102.1 175L103.1 178L103 181L102 183L100.4 184L99 184.4L95 184.2L88 182.2L84 180L82.9 179L81.6 177L81 175L81.1 173L82 171.1L83 170.2L85 169.2Z"/>
<path fill="#a83a28" d="M89.6 175L92 174.8L94 175.5L94.9 176L95.6 177L95.6 178L94 178.7L90.7 178L89.3 177L88.8 176Z"/>
</g>
<path d="M81.7 18.9L127.9 37.8L181.2 59.1L230.9 77.9L280 96.4" stroke="#fff" stroke-width="1.9" fill="none" stroke-linejoin="round"/>
<path d="M280.7 101.4L266.5 101.4L250.5 98.9L230.9 93.6L220.3 91.4L213.9 94.3L211.4 102.4L213.2 111.3L215 116.7L209.6 121.6L202.5 128.7L201.5 137.6L206.1 146.5L212.1 155.4L213.2 166L213.9 180.3L219.2 190.9L223.8 199.8L224.6 210.5L222.1 221.1L215 225.4L206.1 226.4" stroke="#fff" stroke-width="1.9" fill="none" stroke-linejoin="round"/>
<path d="M50.1 163.6L210 227.5" stroke="#fff" stroke-width="1.9" fill="none" stroke-linejoin="round"/>
<path d="M52.8 87.3L89.2 105.1M45.6 100.7L64.3 111.3L82.1 121.4L96.3 129.5L114 137.5L135.4 145.5L151 151.3L151 152.6L177.6 159.7L204.3 163.3L225.6 165L238.1 165.6M96.3 87.3L101.6 91.8L117.6 98.9L138.9 109.5L151 114.9L160.8 121.5L184.8 133.9L194.5 138.4L204.3 144.6L222.1 157L236.3 165.9L245.2 171.6M139.8 38.5L151 50.9L151 51.3L159.9 58L168.8 63.7L177.6 67.8L186.5 71L204.3 77.6L222.1 83.8L239.8 90L257.6 98L275.4 106M21.7 150.8L46.5 142.8L64.3 136.6L78.5 136.6L110.5 138.4L138.9 137.1M78.5 137.1L87.4 141L99.8 151.7L110.5 159.7L121.2 167.7L135.4 178.4L151 187.2L165.2 192.6L181.2 200.6L193.6 208.6L204.3 212.1L214.1 214.8L222.1 222.8M189.2 139.6L199 137.1L206.1 134.6L213.2 131.4" stroke="#111" stroke-width="1.1" fill="none" stroke-linejoin="round"/>
<g fill="#111"><circle cx="89.4" cy="92.8" r="1.6"/><circle cx="94.6" cy="89.5" r="1.6"/><circle cx="92.3" cy="89.6" r="1.6"/><circle cx="95.9" cy="96.6" r="1.6"/><circle cx="96.6" cy="94.6" r="1.6"/><circle cx="93.9" cy="95.2" r="1.6"/><circle cx="90.6" cy="96.5" r="1.6"/><circle cx="89.2" cy="95" r="1.6"/><circle cx="94.7" cy="96.2" r="1.6"/><circle cx="91.6" cy="102.3" r="1.6"/><circle cx="92.9" cy="94.4" r="1.6"/><circle cx="93.2" cy="94.6" r="1.6"/><circle cx="91.6" cy="95" r="1.6"/><circle cx="98.5" cy="96.1" r="1.6"/><circle cx="93.2" cy="98" r="1.6"/><circle cx="98.5" cy="95.4" r="1.6"/><circle cx="91" cy="103.1" r="1.6"/><circle cx="88.6" cy="95" r="1.6"/><circle cx="94.6" cy="102.5" r="1.6"/><circle cx="90" cy="89.1" r="1.6"/><circle cx="94.6" cy="94.6" r="1.6"/><circle cx="91.6" cy="97.4" r="1.6"/><circle cx="93.4" cy="96.9" r="1.6"/><circle cx="91.5" cy="99.7" r="1.6"/><circle cx="97" cy="96.1" r="1.6"/><circle cx="91.4" cy="98.1" r="1.6"/><circle cx="94.1" cy="93.1" r="1.6"/><circle cx="91.4" cy="99" r="1.6"/><circle cx="92.5" cy="95.1" r="1.6"/><circle cx="93.3" cy="95.9" r="1.6"/><circle cx="92.7" cy="90.6" r="1.6"/><circle cx="97.7" cy="96.6" r="1.6"/><circle cx="90.2" cy="98.8" r="1.6"/><circle cx="93.6" cy="96.1" r="1.6"/><circle cx="95.7" cy="102.5" r="1.6"/><circle cx="94.3" cy="100.5" r="1.6"/><circle cx="98.9" cy="93.1" r="1.6"/><circle cx="91.2" cy="98.2" r="1.6"/><circle cx="87.9" cy="95.3" r="1.6"/><circle cx="96.4" cy="99" r="1.6"/><circle cx="94.4" cy="90.7" r="1.6"/><circle cx="99.4" cy="97.6" r="1.6"/><circle cx="94.9" cy="97.4" r="1.6"/><circle cx="87.8" cy="92" r="1.6"/><circle cx="89.3" cy="101.5" r="1.6"/><circle cx="90.4" cy="95.4" r="1.6"/><circle cx="92" cy="97.7" r="1.6"/><circle cx="94.1" cy="96.8" r="1.6"/><circle cx="89.1" cy="87.1" r="1.6"/><circle cx="93.2" cy="96.8" r="1.6"/><circle cx="96.2" cy="95.8" r="1.6"/><circle cx="91" cy="97.2" r="1.6"/><circle cx="88.3" cy="93.1" r="1.6"/><circle cx="89.9" cy="96.9" r="1.6"/><circle cx="98.7" cy="98.2" r="1.6"/><circle cx="96" cy="96.7" r="1.6"/><circle cx="93.5" cy="94.8" r="1.6"/><circle cx="91.9" cy="89.1" r="1.6"/><circle cx="89.3" cy="92.4" r="1.6"/><circle cx="95.1" cy="97.9" r="1.6"/><circle cx="96" cy="100.5" r="1.6"/><circle cx="91.9" cy="99" r="1.6"/><circle cx="98.3" cy="96" r="1.6"/><circle cx="95.8" cy="95.6" r="1.6"/><circle cx="88.1" cy="96.4" r="1.6"/><circle cx="90.4" cy="96.4" r="1.6"/><circle cx="91.4" cy="97" r="1.6"/><circle cx="86.7" cy="102" r="1.6"/><circle cx="96.6" cy="95" r="1.6"/><circle cx="90.1" cy="96.1" r="1.6"/><circle cx="94.6" cy="97.2" r="1.6"/><circle cx="93.9" cy="90.4" r="1.6"/><circle cx="89.5" cy="99.9" r="1.6"/><circle cx="93.4" cy="91.7" r="1.6"/><circle cx="90.3" cy="91.9" r="1.6"/><circle cx="89.8" cy="99.4" r="1.6"/><circle cx="92.1" cy="99.3" r="1.6"/><circle cx="93.3" cy="91.7" r="1.6"/><circle cx="90.9" cy="102.6" r="1.6"/><circle cx="90.5" cy="93" r="1.6"/><circle cx="96.3" cy="96.3" r="1.6"/><circle cx="92.7" cy="100.3" r="1.6"/><circle cx="87.6" cy="97.3" r="1.6"/><circle cx="89.7" cy="92" r="1.6"/><circle cx="90.4" cy="99.4" r="1.6"/><circle cx="92.3" cy="90.7" r="1.6"/><circle cx="89.5" cy="100.5" r="1.6"/><circle cx="95.7" cy="92.9" r="1.6"/><circle cx="99.8" cy="95" r="1.6"/><circle cx="89.3" cy="95.6" r="1.6"/><circle cx="95.4" cy="100.7" r="1.6"/><circle cx="95.7" cy="94.8" r="1.6"/><circle cx="91.1" cy="91.8" r="1.6"/><circle cx="92.5" cy="94.3" r="1.6"/><circle cx="93.4" cy="92.4" r="1.6"/><circle cx="91.2" cy="93.5" r="1.6"/><circle cx="89.2" cy="92.6" r="1.6"/><circle cx="89.8" cy="92.6" r="1.6"/><circle cx="94.4" cy="96.3" r="1.6"/><circle cx="88.9" cy="97.5" r="1.6"/><circle cx="93.6" cy="100.3" r="1.6"/><circle cx="92.2" cy="95.4" r="1.6"/><circle cx="90.7" cy="96.4" r="1.6"/><circle cx="94.2" cy="96.6" r="1.6"/><circle cx="92" cy="97.7" r="1.6"/><circle cx="93" cy="96.8" r="1.6"/><circle cx="90" cy="96.6" r="1.6"/><circle cx="89.8" cy="93.6" r="1.6"/><circle cx="93.2" cy="102.2" r="1.6"/><circle cx="95.6" cy="96.1" r="1.6"/><circle cx="98.7" cy="104.3" r="1.6"/><circle cx="108.9" cy="105.4" r="1.6"/><circle cx="98.6" cy="100.5" r="1.6"/><circle cx="97.7" cy="98.2" r="1.6"/><circle cx="94.2" cy="98.4" r="1.6"/><circle cx="85.7" cy="93.9" r="1.6"/><circle cx="102.6" cy="95.2" r="1.6"/><circle cx="103.4" cy="93.5" r="1.6"/><circle cx="97.4" cy="101.5" r="1.6"/><circle cx="93" cy="96.2" r="1.6"/><circle cx="116" cy="96.4" r="1.6"/><circle cx="95.2" cy="96.9" r="1.6"/><circle cx="100.1" cy="99.5" r="1.6"/><circle cx="106.3" cy="103.3" r="1.6"/><circle cx="97.2" cy="97.9" r="1.6"/><circle cx="90.6" cy="92.5" r="1.6"/><circle cx="95" cy="103.1" r="1.6"/><circle cx="100.6" cy="103.4" r="1.6"/><circle cx="106" cy="98.8" r="1.6"/><circle cx="113.6" cy="97.1" r="1.6"/><circle cx="95.7" cy="97.6" r="1.6"/><circle cx="107.3" cy="99" r="1.6"/><circle cx="95" cy="101.6" r="1.6"/><circle cx="107.2" cy="99.1" r="1.6"/><circle cx="98.2" cy="104.7" r="1.6"/><circle cx="106.3" cy="104.1" r="1.6"/><circle cx="94.8" cy="100.9" r="1.6"/><circle cx="102.2" cy="91.1" r="1.6"/><circle cx="107.7" cy="100.1" r="1.6"/><circle cx="97.6" cy="110.3" r="1.6"/><circle cx="141.1" cy="115.2" r="1.6"/><circle cx="149.2" cy="115.9" r="1.6"/><circle cx="151" cy="112" r="1.6"/><circle cx="164.5" cy="114.5" r="1.6"/><circle cx="158.1" cy="119.9" r="1.6"/><circle cx="129.7" cy="108.8" r="1.6"/><circle cx="116.2" cy="108.8" r="1.6"/><circle cx="119.7" cy="101.7" r="1.6"/><circle cx="124.7" cy="106" r="1.6"/><circle cx="136.1" cy="111.7" r="1.6"/><circle cx="104.1" cy="81.8" r="1.6"/><circle cx="64.3" cy="94.3" r="1.6"/><circle cx="153.1" cy="99.6" r="1.6"/><circle cx="108.7" cy="91.8" r="1.6"/><circle cx="52.9" cy="138" r="1.6"/><circle cx="205.7" cy="185.2" r="1.6"/><circle cx="243.4" cy="162.8" r="1.6"/></g>
<circle cx="150.3" cy="123" r="3.4" fill="#ea4a12"/>
<path d="M134.3 108L135.4 110.9L138.5 111L136 112.9L136.9 115.9L134.3 114.2L131.7 115.9L132.6 112.9L130.1 111L133.2 110.9Z" fill="#ea4a12"/>
<text x="148" y="136.6" style="font-size:12.5px;fill:#fff">玉树</text>
</g>
<g transform="translate(58.7 572.5)">
<text x="221.2" y="24.9" style="font-size:12.6px"><tspan font-style="italic">z</tspan>=12</text>
<path d="M0 0V247.7H315.2M0 0h3.6M0 27.5h3.6M0 55h3.6M0 82.6h3.6M0 110.1h3.6M0 137.6h3.6M0 165.1h3.6M0 192.7h3.6M0 220.2h3.6M0 247.7h3.6M0 247.7v-3.4M63 247.7v-3.4M126.1 247.7v-3.4M189.1 247.7v-3.4M252.2 247.7v-3.4M315.2 247.7v-3.4" stroke="#222" stroke-width="1.05" fill="none"/>
<text x="-4.9" y="5.4" text-anchor="end">34°N</text>
<text x="-4.9" y="32.9" text-anchor="end">33.8°N</text>
<text x="-4.9" y="60.4" text-anchor="end">33.6°N</text>
<text x="-4.9" y="88" text-anchor="end">33.4°N</text>
<text x="-4.9" y="115.5" text-anchor="end">33.2°N</text>
<text x="-4.9" y="143" text-anchor="end">33°N</text>
<text x="-4.9" y="170.5" text-anchor="end">32.8°N</text>
<text x="-4.9" y="198.1" text-anchor="end">32.6°N</text>
<text x="-4.9" y="225.6" text-anchor="end">32.4°N</text>
<text x="-4.9" y="250.6" text-anchor="end">32.2°N</text>
<text x="-0.6" y="261.8" text-anchor="middle">95.5°E</text>
<text x="62.4" y="261.8" text-anchor="middle">96°E</text>
<text x="125.5" y="261.8" text-anchor="middle">96.5°E</text>
<text x="188.5" y="261.8" text-anchor="middle">97°E</text>
<text x="251.6" y="261.8" text-anchor="middle">97.5°E</text>
<text x="314.6" y="261.8" text-anchor="middle">98°E</text>
</g>
<defs><linearGradient id="jet" x1="0" x2="1" y1="0" y2="0"><stop offset="0" stop-color="#7f0000"/><stop offset="0.03" stop-color="#9f0000"/><stop offset="0.06" stop-color="#c30000"/><stop offset="0.09" stop-color="#e80000"/><stop offset="0.12" stop-color="#ff1d00"/><stop offset="0.16" stop-color="#ff3b00"/><stop offset="0.19" stop-color="#ff5900"/><stop offset="0.22" stop-color="#ff7600"/><stop offset="0.25" stop-color="#ff9400"/><stop offset="0.28" stop-color="#ffb100"/><stop offset="0.31" stop-color="#ffcf00"/><stop offset="0.34" stop-color="#feed00"/><stop offset="0.38" stop-color="#e4ff12"/><stop offset="0.41" stop-color="#caff2c"/><stop offset="0.44" stop-color="#b0ff46"/><stop offset="0.47" stop-color="#96ff5f"/><stop offset="0.5" stop-color="#7cff79"/><stop offset="0.53" stop-color="#63ff93"/><stop offset="0.56" stop-color="#49ffad"/><stop offset="0.59" stop-color="#2fffc7"/><stop offset="0.62" stop-color="#15ffe1"/><stop offset="0.66" stop-color="#00e0fa"/><stop offset="0.69" stop-color="#00c0ff"/><stop offset="0.72" stop-color="#00a0ff"/><stop offset="0.75" stop-color="#0080ff"/><stop offset="0.78" stop-color="#0060ff"/><stop offset="0.81" stop-color="#0040ff"/><stop offset="0.84" stop-color="#0020ff"/><stop offset="0.88" stop-color="#0000ff"/><stop offset="0.91" stop-color="#0000ec"/><stop offset="0.94" stop-color="#0000c8"/><stop offset="0.97" stop-color="#0000a3"/><stop offset="1" stop-color="#00007f"/></linearGradient></defs>
<rect x="416.5" y="669.4" width="316" height="14" fill="url(#jet)" stroke="#222" stroke-width="1"/>
<path d="M416.5 683.4v-3M416.5 669.4v3" stroke="#222" stroke-width="0.8"/>
<text x="416.5" y="696.8" text-anchor="middle">-8</text>
<path d="M456 683.4v-3M456 669.4v3" stroke="#222" stroke-width="0.8"/>
<text x="456" y="696.8" text-anchor="middle">-6</text>
<path d="M495.5 683.4v-3M495.5 669.4v3" stroke="#222" stroke-width="0.8"/>
<text x="495.5" y="696.8" text-anchor="middle">-4</text>
<path d="M535 683.4v-3M535 669.4v3" stroke="#222" stroke-width="0.8"/>
<text x="535" y="696.8" text-anchor="middle">-2</text>
<path d="M574.5 683.4v-3M574.5 669.4v3" stroke="#222" stroke-width="0.8"/>
<text x="574.5" y="696.8" text-anchor="middle">0</text>
<path d="M614 683.4v-3M614 669.4v3" stroke="#222" stroke-width="0.8"/>
<text x="614" y="696.8" text-anchor="middle">2</text>
<path d="M653.5 683.4v-3M653.5 669.4v3" stroke="#222" stroke-width="0.8"/>
<text x="653.5" y="696.8" text-anchor="middle">4</text>
<path d="M693 683.4v-3M693 669.4v3" stroke="#222" stroke-width="0.8"/>
<text x="693" y="696.8" text-anchor="middle">6</text>
<path d="M732.5 683.4v-3M732.5 669.4v3" stroke="#222" stroke-width="0.8"/>
<text x="732.5" y="696.8" text-anchor="middle">8</text>
<text x="574.5" y="711.5" text-anchor="middle">d<tspan font-style="italic">V</tspan><tspan style="font-size:8px" dy="2">P</tspan><tspan dy="-2">%</tspan></text>
</svg></body></html>
